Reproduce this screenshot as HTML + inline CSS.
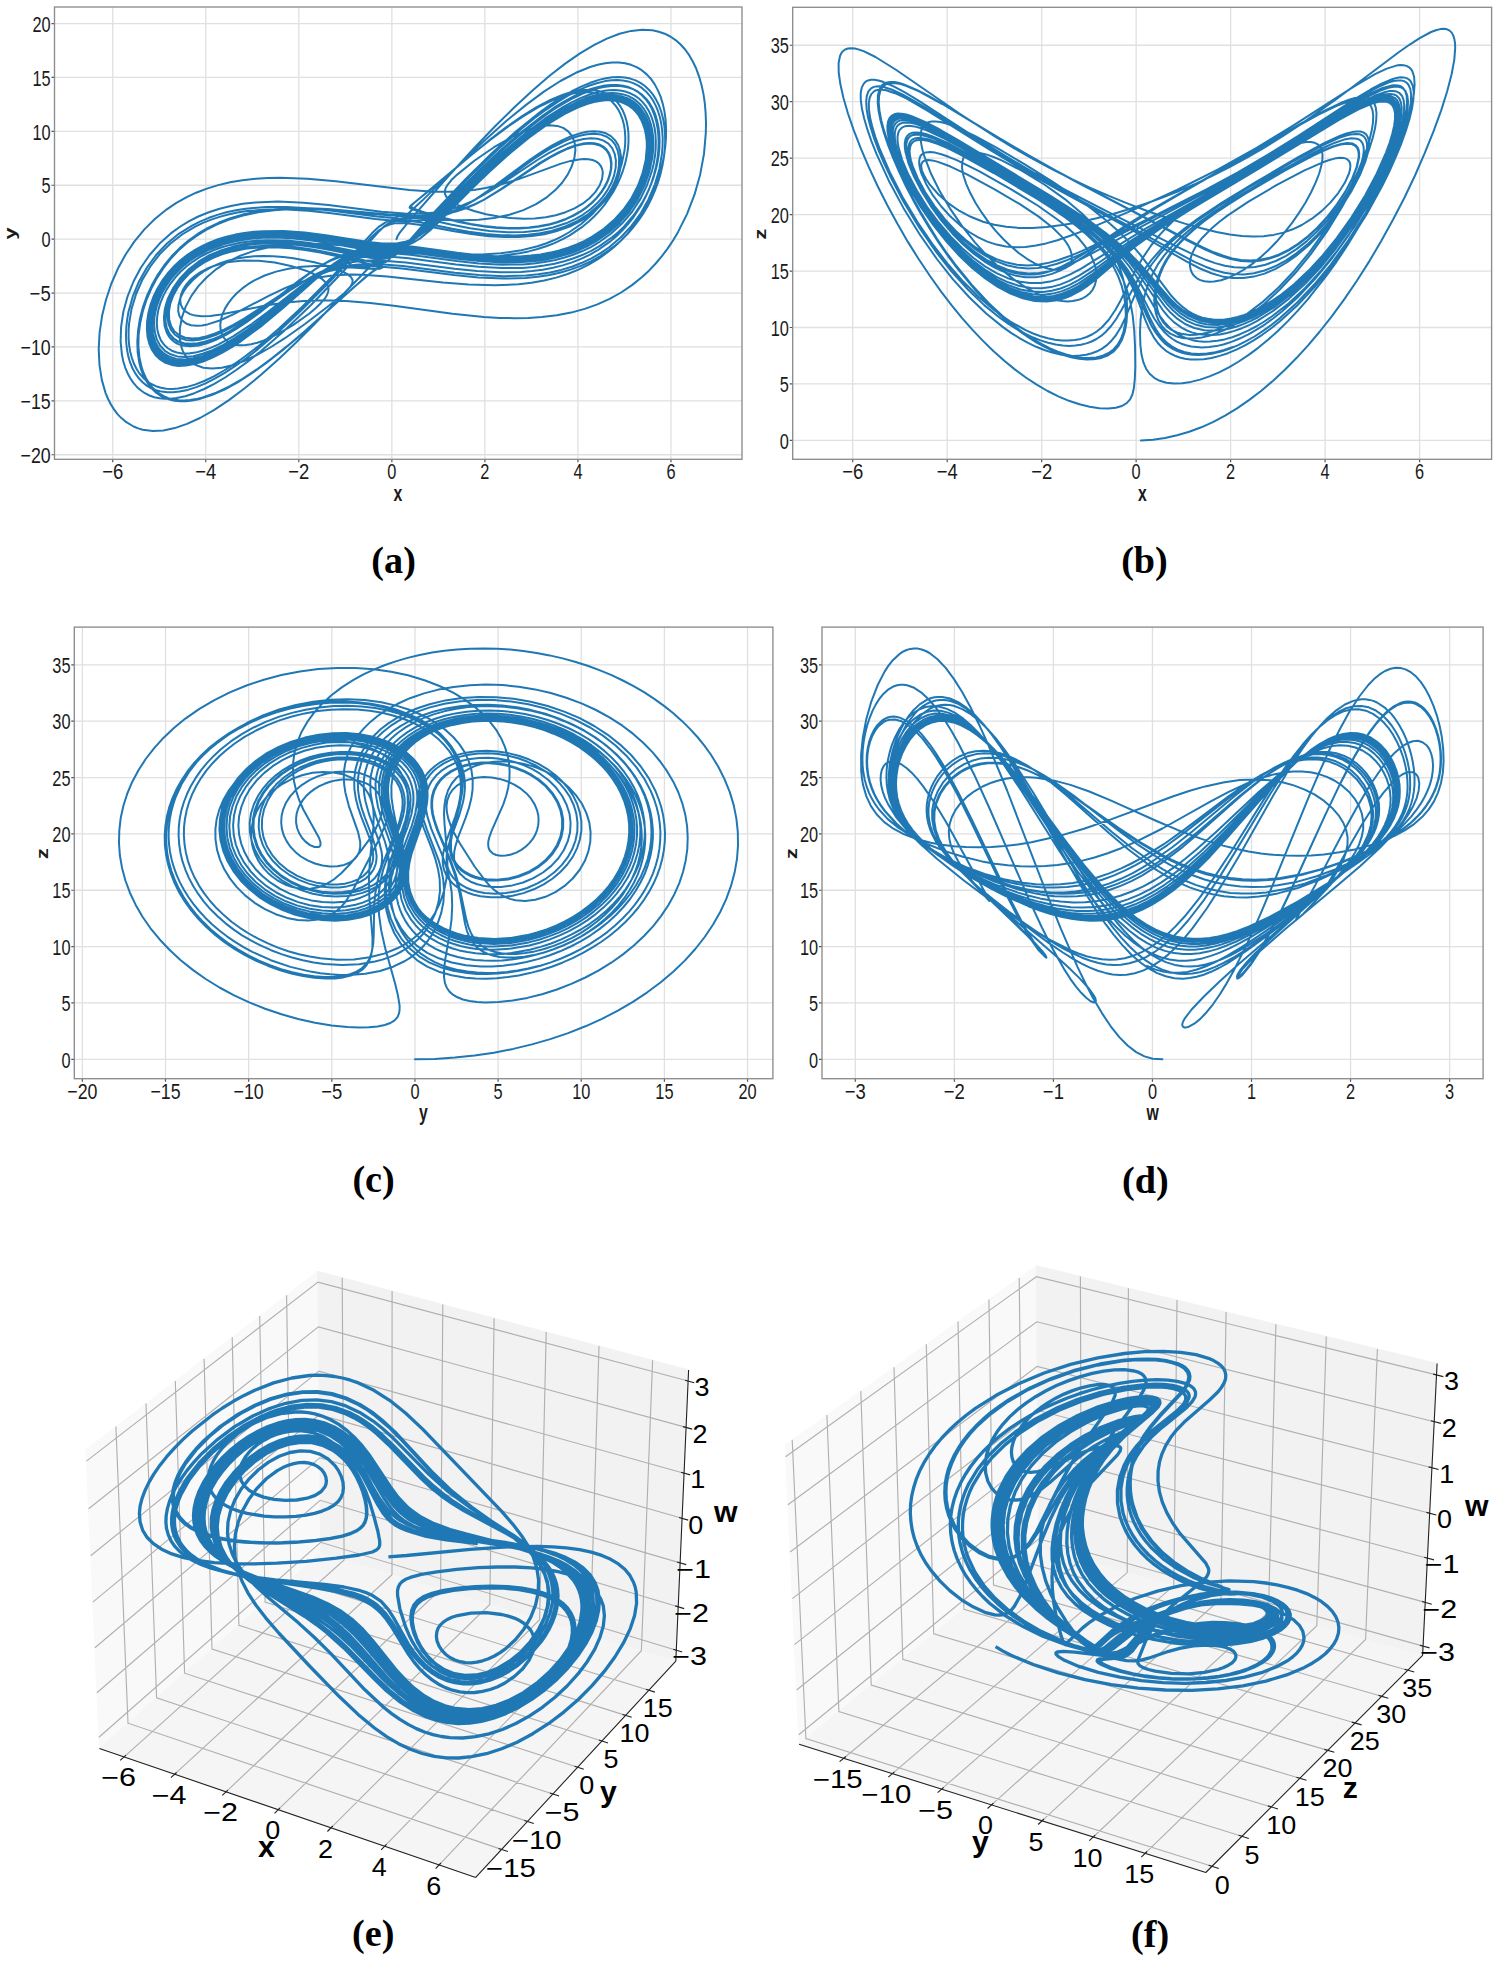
<!DOCTYPE html>
<html><head><meta charset="utf-8"><style>html,body{margin:0;padding:0;background:#fff}svg{display:block}</style></head>
<body><svg width="1500" height="1962" viewBox="0 0 1500 1962">
<rect width="1500" height="1962" fill="#fff"/>
<path d="M112.73 7.00V459.30M205.77 7.00V459.30M298.81 7.00V459.30M391.85 7.00V459.30M484.89 7.00V459.30M577.93 7.00V459.30M670.97 7.00V459.30M54.50 454.75H742.00M54.50 400.85H742.00M54.50 346.95H742.00M54.50 293.05H742.00M54.50 239.15H742.00M54.50 185.25H742.00M54.50 131.35H742.00M54.50 77.45H742.00M54.50 23.55H742.00" stroke="#e0e0e0" stroke-width="1.3" fill="none"/>
<path d="M112.73 459.30v3M205.77 459.30v3M298.81 459.30v3M391.85 459.30v3M484.89 459.30v3M577.93 459.30v3M670.97 459.30v3M54.50 454.75h-3M54.50 400.85h-3M54.50 346.95h-3M54.50 293.05h-3M54.50 239.15h-3M54.50 185.25h-3M54.50 131.35h-3M54.50 77.45h-3M54.50 23.55h-3" stroke="#555" stroke-width="1.2" fill="none"/>
<path d="M396.5 239.2l 1-2.9 2.3-3.7 11.6-14.3 32.2-36.8 30.4-33.3 21.1-21.9 19.3-19.1 18.4-17 17.1-14.7 15.3-11.9 14.8-10.2 13.9-8.3 13-6.5 12.6-4.8 11.7-2.9 11-1.2 10.3.6 6.3 1.4 5.9 2 5.6 2.8 5.3 3.6 5 4.4 4.5 5 4.1 5.7 3.7 6.5 3.4 7.1 2.8 7.8 2.4 8.4 1.9 8.6 1.4 9.5 .8 9.5 .4 10.3-.2 10.1-1.8 20.9-3.8 20.5-5.7 20.3-7.5 19.4-8.9 17.8-4.9 8.4-5.6 8.3-5.7 7.5-6.2 7.4-6.5 6.9-6.8 6.3-10.4 8.4-10.9 7.4-11.5 6.4-12.2 5.5-12.7 4.5-13.6 3.7-14.3 2.7-15 1.8-13.4.9-13.9.2-14.7-.3-16-1-31.3-3.2-58.7-7.9-23.6-2.8-24.2-2-21.6-.7-20.7.6-20.4 1.9-20.4 3.3-42.1 8.5-10.5 1.4-8.7.2-6.3-.6-5.3-1.5-4.2-2.4-3.1-3.2-1.9-3.9-.6-4.6 .7-5 2-5.2 3-4.8 4-4.7 4.9-4.3 5.7-3.9 6.4-3.3 6.9-2.8 7.3-2.3 8-1.7 14.2-1.5 15.4.2 16.1 1.8 16.1 3.4 15.2 4.8 6.6 2.8 5.4 2.9 4.2 2.8 3.2 3 2 2.9 1 3-.2 3.4-1.3 3.5-2.4 3.9-3.8 4.3-5.2 5-6.5 5.5-15.7 11.2-15.3 9-14.2 6.6-6.6 2.2-6.1 1.6-5.7.8-5.2.2-5.1-.6-4.5-1.4-3.8-2.3-3-3.1-2.1-3.8-1.2-4.5-.3-4.9 .7-5.4 1.6-5.4 2.5-5.5 3.3-5.3 4-5.2 4.6-4.9 5.3-4.6 5.8-4.2 6.3-3.8 10.3-4.9 11.4-3.9 12.3-2.9 13.2-1.9 13.3-.8 14.4 0 44.4 3 5.9-.3 3.2-1.3 .1-.7-1.2 0-3.9 1.6-5.1 3.4-6.7 5.2-13 11.2-52.5 47.2-17.9 14.9-16.3 12.7-14.8 10.6-13.9 8.9-13.1 7.1-12.2 5.4-13.7 4.4-6.5 1.3-6.1.7-5.7 0-5.6-.5-5.1-1.2-5-1.8-4.5-2.3-4.2-3-3.9-3.7-3.3-4.1-3-4.7-2.6-5.2-2.2-5.8-1.6-6.2-1.6-10.1-.4-10.9 .8-11.4 1.8-11.6 3-11.6 4-11.2 5-10.9 6-10.5 6.4-9.4 7.3-8.9 8.1-8.2 8.8-7.6 9.5-6.8 9.9-5.9 10.6-5 11.2-4.4 14.2-4.1 15.1-3.1 16.1-2 17.2-1 16.8.1 18.7.8 60.8 5.4 20.8 1.3 10.9.1 10-.4 9.3-1 8.8-1.5 9-2.3 9-3 9-3.8 9.2-4.6 16.5-9.9 39.2-26.1 10-6 9.1-4.8 8.5-3.8 7.7-2.8 7-1.6 6.5-.7 5.3.4 4.7 1.2 4.1 2.2 3.2 2.9 2.5 3.9 1.5 4.5 .7 5.2-.3 5.5-1.3 5.8-2 5.8-3 5.8-3.6 5.7-4.4 5.4-5 5-5.6 4.6-6 4.2-7.2 4-7.8 3.6-8.3 2.9-8.8 2.4-9.2 1.7-9.8 1.2-10.2.5-10.7 0-11.7-.7-12.4-1.4-12.9-2-13.5-2.7-17.5-4.3-17.6-5.1-8.5-3.1-1.8-1.1-.7-1.1 .6-1.5 2.4-2.3 55.8-46.6 19.4-15.7 17.1-12.8 16.5-11.3 15.3-9.1 14.1-6.9 13-4.8 6.4-1.7 6.2-1.2 5.9-.5 5.5.1 5.1.7 4.9 1.3 4.4 1.8 4.2 2.5 3.8 3.1 3.3 3.6 2.9 4.1 2.4 4.8 2 5.2 1.5 5.6 .9 6 .4 6.3-.1 6.6-.7 6.8-2.9 13.9-4.8 13.7-6.7 13-8.2 12-9.7 11.1-11 9.7-12.4 8.5-7.4 4.2-7.6 3.6-8 3.2-8.2 2.8-17.8 4.3-19.2 2.7-18.5 1.1-20.6-.1-19.9-1-42.4-3.3-18.8-.6-9.7.3-8.8.8-8.2 1.4-7.8 2-7.6 2.7-7.7 3.5-7.8 4.4-8.2 5.2-14.8 10.9-40.8 32.5-12.1 8.8-11 7.3-10.3 6-9.7 4.7-8.9 3.4-8.3 2.2-8.6.8-7.6-.8-3.4-1.1-3.1-1.4-2.7-1.9-2.5-2.3-2.1-2.7-1.8-3.1-2.3-7.1-.7-8.3 1-8.9 1.4-5.2 1.8-5.4 5.2-10.3 6.9-9.7 8.6-8.8 9.7-7.6 11-6.5 12.1-5.1 13.1-3.9 11-2.2 11.7-1.4 12.3-.6 13 .1 15.1 1.1 16.5 2 48.4 8.7 12.9 1.8 6.8.4 5.8-.4 5-1.1 4.6-1.8 5.9-4 6.9-6.2 39.1-42.3 29.4-29.9 21.9-20.6 20.2-17.6 21.9-17 10.2-7 9.8-6.1 9.5-5.2 8.9-4.2 8.6-3.4 8.2-2.4 6.5-1.3 6.4-.6 6.1 0 5.6.7 5.3 1.3 4.9 2.1 4.7 2.7 4.1 3.4 3.8 4 3.4 4.6 2.9 5.3 2.4 6 1.9 6.4 1.3 6.7 .8 7.1 .2 7.5-.3 7.7-.8 8-1.5 8-1.9 7.8-2.4 7.8-2.9 7.7-3.4 7.5-3.8 7.3-8.8 13.5-5 6.3-5.4 6-5.7 5.6-6 5.1-13 9.1-8.1 4.6-8.6 4.1-8.9 3.5-9.4 3-9.7 2.4-10.2 2-10.7 1.3-11.3.9-20.8.3-23-1.3-22.5-2.3-48.7-6.2-21.9-1.8-11.2-.3-10.1.4-9.4 1.1-9 1.6-8.9 2.5-8.8 3.3-8.9 4.1-9.3 5.2-16.7 10.7-41.3 29.2-11 7.1-9.9 5.7-8.9 4.5-8.1 3.5-7.7 2.5-7.1 1.5-7.1.5-6.3-.6-5.6-1.7-4.8-3-3.8-4-2.8-5.2-1.7-5.9-.5-6.7 .4-5.3 1-5.4 1.6-5.6 2.2-5.5 2.8-5.5 3.3-5.2 3.8-5 4.2-4.8 9.7-8.6 10.9-7.2 12.4-5.9 13.5-4.4 11.7-2.6 12.4-1.6 13.2-.7 14.1.3 15.7 1.2 17 2.3 16.7 3 31.3 6.4 11.6 1.8 6.1.4 5-.2 4.3-.9 3.8-1.6 3.9-2.7 4.2-4.1 30.8-35.4 32.4-34.3 26.6-26.1 24.6-22.3 23.6-19 11-7.9 10.4-6.8 10.2-6 9.7-4.9 9.1-3.8 8.7-2.9 7-1.7 6.5-.9 6.4-.2 5.9.4 5.6 1.1 5.3 1.8 4.8 2.5 4.5 3.1 4.2 3.9 3.7 4.5 3.3 5.2 2.8 5.7 2.3 6.2 1.8 6.8 1.3 7.3 .7 7.6 .2 8-.4 8.3-1 8.4-1.5 8.3-2 8.6-2.5 8.2-3.1 8.1-3.5 8-3.9 7.7-4.3 7.1-4.8 7.1-5.2 6.7-5.5 6.3-5.9 5.9-6.1 5.4-6.7 5.1-8.6 5.8-9.3 5.1-9.4 4.3-10.2 3.8-10.6 3.1-11.1 2.5-11.7 1.8-12.4 1.2-22.3.6-24.9-1.2-24.2-2.4-52.2-6.6-23.1-1.9-11.4-.3-10.5.4-9.9.9-9.4 1.7-9.2 2.2-9 3.1-9.1 3.8-9.4 4.6-17 10-40.2 25.9-10.4 6-9.3 4.8-8.9 3.9-8.2 2.7-7.5 1.7-6.8.6-7.3-.8-6-2.4-4.8-3.8-3.4-5.4-1.9-6.6-.3-7.6 1.4-8.2 3-8.3 4.1-7.5 5.2-7.2 6.2-6.6 7.2-6.1 7.9-5.3 8.8-4.6 9.3-3.7 10.2-3 13.1-2.6 14.3-1.4 15.1-.2 16.2 1 14.3 1.8 15.2 2.6 17.2 3.7 32.5 7.9 6.7 1.3 4.8.4-7.1 4.2-10.7 8.3-60.2 53.8-16.8 14.2-15.2 12.1-15.2 11.2-14.2 9.3-13.3 7.7-12.6 6-13.7 4.8-6.5 1.6-6 .9-5.8.4-5.6-.2-5.2-.7-5.1-1.4-4.6-2-4.4-2.5-3.9-3.1-3.6-3.6-3.2-4.3-2.8-4.6-2.4-5.3-1.9-5.6-2.2-9.9-1-10.7 .2-11.3 1.5-11.7 2.6-11.8 3.7-11.7 4.8-11.1 5.7-10.8 6.3-9.7 7.2-9.3 8-8.5 8.8-7.8 9.3-6.9 10.1-6.2 10.6-5.3 11.4-4.6 14.3-4.3 15.1-3.2 16.2-2.1 17.4-1.1 17.2 0 18.7.8 60.8 5.4 20.7 1.2 10.9.1 9.9-.4 9.3-1 8.7-1.6 9-2.3 8.9-3 8.9-3.8 9.1-4.7 16.5-10.1 39.3-26.5 10.2-6.1 9.2-4.9 8.5-3.9 7.9-2.9 7.3-1.8 6.5-.6 5.4.3 4.7 1.2 4.1 2.1 3.3 2.9 2.5 3.8 1.7 4.6 .7 5.1-.2 5.5-1.1 5.8-2 5.9-2.8 5.9-3.6 5.7-4.3 5.4-4.9 5.2-5.6 4.7-6 4.3-7.2 4.2-7.8 3.6-8.3 3.1-8.7 2.4-9.3 1.9-9.7 1.2-10.1.6-10.6.1-11.5-.6-12-1.2-12.6-1.9-13.2-2.5-17.7-4.1-19.3-5.3-10.6-3.5-2-1-.8-.9 .4-1.1 1.7-1.7 19.2-15.5 42.8-36.3 17-13.8 15-11.5 16.1-11.2 14.8-9.2 13.8-7.2 12.6-5.3 7-2.2 6.6-1.5 6.3-.9 5.9-.3 5.5.4 5.3 1 4.9 1.7 4.5 2.3 4.1 2.9 3.7 3.6 3.3 4.2 2.7 4.7 2.2 5.3 1.7 5.8 1.2 6.3 .6 6.5 0 7-.5 7.1-1.2 7.4-1.6 7.4-2.3 7.4-2.7 7.1-3.3 7.2-3.7 6.8-8.5 12.7-5 6-5.3 5.7-5.6 5.3-6.1 5-13 8.8-7.5 4-7.8 3.7-8.2 3.2-8.6 2.7-9 2.4-9.2 1.9-19.8 2.6-18.5.9-20.5-.2-19.7-1.1-41.7-3.4-17.9-.7-17.1.6-7.7.9-7.1 1.4-8.4 2.3-8.2 3.1-8.2 4-8.5 4.9-16.2 11.2-36.2 28.3-17 12.4-17.7 11.2-8 4.2-7.6 3.4-8.7 3-7.9 1.7-7.2.4-6.5-.9-5.6-2.1-4.7-3.4-3.5-4.6-2.5-5.6-1.1-5.1-.3-5.6 .5-5.7 1.2-6.1 1.9-6 2.7-6 3.3-6 3.9-5.6 4.4-5.3 4.8-4.9 5.3-4.6 5.8-4.2 6.1-3.8 6.5-3.4 6.9-3 7.3-2.5 12-3.2 12.9-2.2 13.7-1.1 14.6-.1 16.3 1 17.7 2.2 17.4 2.9 32.7 6.4 11.9 1.7 6.4.4 5.3-.4 4.5-1 4.1-1.8 4.5-3.1 5-4.8 34.7-38.9 32.2-33.5 26.4-25.4 24.1-21.1 12-9.7 11.5-8.5 11.1-7.5 10.6-6.4 10.1-5.3 9.7-4.3 9.2-3.1 8.6-2.1 6.1-.8 6-.3 5.6.4 5.3 1 5 1.7 4.7 2.3 4.3 2.8 4 3.5 3.6 4.1 3.1 4.5 2.8 5.3 2.3 5.6 1.9 6.1 1.4 6.6 .9 6.9 .5 7.3-.1 7.5-.6 7.8-2.6 15.6-4.5 15.3-6.3 14.9-7.7 13.8-9.4 12.9-10.6 11.4-11.7 9.9-8.6 5.9-9.2 5.2-9.5 4.5-10.1 3.9-10.6 3.2-11.2 2.5-11.7 1.9-12.1 1.3-22.3.6-24.8-1.1-24.1-2.4-52.1-6.6-22.8-1.9-11.3-.2-10.3.4-9.7 1.1-9.2 1.6-8.9 2.4-8.9 3.1-8.9 4-9.4 4.8-16.7 10.2-40.9 27.3-10.8 6.5-9.8 5.2-9.2 4.2-8.6 3.1-7.9 1.9-7.1.7-7-.6-6-2-4.9-3.4-3.8-4.8-2.4-6-1-6.9 .5-7.5 1.9-8 3.1-7.6 4.2-7.4 5.3-7 6.2-6.5 7-5.9 7.8-5.1 8.4-4.5 9-3.8 12.6-3.7 13.5-2.5 14.5-1.4 15.4-.1 17.8 1.3 19.2 2.7 18.9 3.6 33 7.4 10 1.7 5.3.3 3.9-.5 2.8-1.2 2-2.2 .8-2.2 .5-2.7 0-2.8-.6-1.7-.8-.4-1.1.2-3.9 2.8-12.9 12.6-58.3 60.6-17.6 17.5-16.2 15.4-18 16.1-16.9 14-15.8 11.8-15 10-13.9 7.9-13 5.9-12.2 4.2-11.4 2.3-10.6.6-10-1.3-4.7-1.3-4.5-1.9-8.1-4.9-4.1-3.5-3.9-4-3.5-4.7-3.1-4.9-2.8-5.5-2.5-5.9-3.8-13.2-2.3-14.8-.8-16 .9-16.4 2.5-16.9 3.9-16.1 5.2-15.7 6.6-15.2 7.8-14.3 8.9-13.1 9.9-12 10.7-10.6 11.7-9.5 9.2-6.2 9.8-5.5 10.3-4.9 10.8-4.1 11.3-3.5 11.9-2.8 12.3-2.1 13.2-1.5 12.1-.7 12.5-.2 27.1.9 28.5 2.6 73.6 8.6 21.2 1.5 18.6.3 12.6-.6 12.1-1.2 11.7-1.8 11.7-2.6 21.4-6.4 42.3-15.5 9.7-2.7 8.2-1.5 5.1-.4 4.5.2 4 .8 3.4 1.4 2.8 2 2.1 2.6 1.4 3.1 .6 3.5-.7 6.3-2.5 6.6-4.3 6.6-5.8 6.1-6.9 5.5-8.1 4.7-8.9 3.8-9.8 3-10.1 2-11 1.2-11.5.3-12-.6-12.5-1.5-12.6-2.4-12.1-3.2-10.8-3.7-6-2.6-4.8-2.7-3.6-2.6-2.5-2.7-1.3-2.7-.2-2.8 .8-3 2-3.4 3.8-4.7 5.8-5.5 17.1-13.8 19.7-13.6 18.4-10.5 10.6-4.9 9.8-3.6 9-2.2 8.1-.7 7.2.6 6.1 2 5 3.4 3.8 4.7 2.6 6.3 .8 7.5-1 8.1-2.6 8.4-4.1 8.3-5.6 8.1-6.8 7.4-7.9 6.7-11.3 7.4-12.7 5.9-14 4.6-15.4 3.2-15.4 1.8-16.8.6-16.4-.4-30.5-1.7-10.7-.1-10.4 1.3-4.3 1.3-4 1.7-6.4 4.2-7 6.5-39.5 43-30.3 30.7-23.3 21.8-21.5 18.3-11.6 8.9-11.1 7.9-10.7 6.8-10.2 5.8-9.7 4.7-9.3 3.6-8.6 2.5-8.3 1.5-5.9.4-5.8-.3-5.3-.9-5.1-1.6-4.6-2.2-4.4-2.9-3.8-3.4-3.5-4-3-4.7-2.6-5.2-2.1-5.8-1.7-6.3-1.1-6.7-.5-6.9 0-7.4 .5-7.4 2.5-14.6 4.5-14.7 6.3-14.3 7.9-13.2 9.3-12.1 10.6-10.6 11.9-9.3 13.1-7.9 7.8-3.7 8.2-3.3 8.3-2.7 8.8-2.4 9.1-1.9 9.6-1.5 20.1-1.6 19.5 0 21.6 1.3 21.1 2.3 46.2 6 21.1 1.8 10.8.3 10-.4 9.2-1.1 8.8-1.7 8.7-2.5 8.6-3.3 8.8-4.3 9.2-5.4 16.5-11.2 42.6-31.5 11.8-7.9 10.6-6.5 9.6-5.1 8.9-3.9 8.2-2.8 7.8-1.8 7.1-.6 6.4.5 5.8 1.6 4.9 2.8 4.1 4 3.1 4.9 2 5.9 1 6.7-.1 5.5-.7 5.8-1.4 5.9-2.1 5.9-2.6 5.8-3.2 5.6-3.7 5.5-4.3 5.2-4.6 4.8-4.9 4.5-5.4 4.1-5.8 3.8-12.6 6.5-13.7 4.9-11.6 2.8-12.4 1.9-13.2 1-14.1 0-16-.9-17.3-2.1-17.2-2.8-33.5-6.3-13.1-1.8-7-.3-6 .4-5.1 1.2-4.8 2-6.1 4.1-7 6.4-40.4 43.3-29.6 29.8-22.6 21.1-21 17.9-11.4 8.9-10.9 7.7-10.5 6.9-10 5.8-9.6 4.9-9.2 3.8-8.7 2.8-8.2 1.7-6.3.7-6 0-5.6-.7-5.4-1.3-4.9-2-4.6-2.7-4.1-3.3-3.8-4-3.3-4.6-2.9-5.2-2.4-5.8-1.9-6.3-1.3-6.9-.8-7-.2-7.6 .3-7.7 .9-7.8 1.3-7.7 4.3-15.3 6.2-15 7.9-13.9 9.4-12.7 10.7-11.3 12.1-9.9 13.4-8.3 8-4 8.4-3.5 8.5-2.9 9-2.6 9.4-2 9.9-1.6 20.7-1.7 19.8-.1 22.1 1.3 21.6 2.3 47.1 6 21.6 1.9 11.1.2 10.1-.3 9.5-1 8.9-1.7 8.9-2.5 8.8-3.2 8.9-4.2 9.4-5.2 16.7-10.9 41.9-29.9 11.1-7.3 10.2-5.9 9.2-4.7 8.5-3.6 7.8-2.5 7.4-1.5 7.4-.5 6.7.9 5.7 2.2 4.8 3.4 3.7 4.7 2.5 5.9 1.3 6.8-.1 7.4-.7 5.3-1.4 5.4-2 5.5-2.4 5.3-3 5.2-3.5 5.1-8.2 9.3-9.7 8.2-11 6.8-12.3 5.6-13.3 4.2-11.5 2.4-12.1 1.5-12.9.6-13.7-.2-15.5-1.3-16.9-2.2-16.5-2.9-31.5-6.3-11.8-1.8-6.3-.4-5.3.2-4.5.9-4 1.7-4.5 3-5.1 4.8-35.1 39.4-33.3 34.7-26.5 25.4-24.3 21.3-12.2 9.7-11.8 8.6-11.1 7.5-10.8 6.3-10.1 5.2-9.8 4.2-9.1 3-8.7 1.9-5.9.6-5.8.1-5.4-.5-5.2-1.1-4.9-1.7-4.5-2.3-4.2-2.9-3.8-3.4-3.5-4-3.1-4.6-2.7-5.1-2.3-5.4-1.9-6.1-1.4-6.4-1.4-13.7 .5-14.8 2.3-15.3 4.2-15.2 5.9-14.8 7.3-13.8 8.8-12.7 10-11.4 11.2-10.2 8.8-6.4 9.1-5.6 9.6-4.9 10.5-4.3 10.8-3.5 11.2-2.7 12-2.2 12.5-1.3 22.8-.9 25.5 1.1 24.8 2.4 53.1 6.7 23 1.8 11.3.2 10.3-.4 9.8-1.1 9.2-1.7 8.9-2.3 8.8-3.2 8.9-3.8 9.3-4.9 16.7-10 40.4-26.9 10.6-6.3 9.6-5.1 9.2-4.2 8.5-3.1 7.7-1.8 7.1-.8 6.8.5 5.9 1.9 4.9 3.1 3.8 4.5 2.5 5.6 1.2 6.6-.2 7.2-1.6 7.8-2.7 7.4-3.9 7.3-4.9 7-5.8 6.5-6.6 5.9-7.4 5.3-8.1 4.6-8.7 3.9-12.9 4.2-14 3-15 1.5-16.3.2-18.1-1.2-19.7-2.7-19.2-3.8-33.2-7.5-9.5-1.7-5.1-.3-3.7.4-2.5 1.2-1.2 1.9 .2 1.1 .7.7 1.2.1 1.6-.6 4.2-2.6 6.1-4.9 12.6-11.7 40.5-39.5 21.9-20.7 21.9-19.6 19.9-16.2 17.5-13 16.5-10.6 15.5-8.2 14.2-5.8 7.6-2.3 7.4-1.5 7-.8 6.7 0 6.3.8 6 1.6 5.5 2.3 5.1 3.1 4.8 3.9 4.3 4.6 3.8 5.4 3.2 6 2.8 6.5 2.2 7.3 1.7 7.7 1.1 8.3 .5 8.8-.1 9-.8 9.4-1.3 9.4-2 9.6-2.5 9.2-3.1 9.5-3.6 8.9-4.1 8.7-4.6 8.4-5.1 8-5.5 7.6-5.9 7.2-6.2 6.6-6.6 6.2-7.1 5.9-9.3 6.6-9.6 5.7-10.2 5-10.9 4.4-11.4 3.6-12 2.9-12.6 2.3-13.1 1.5-23.6 1-26.4-.8-25.6-2.1-55.7-6-24.4-1.7-11.6-.1-10.8.3-10.2.9-9.8 1.4-8.8 1.9-8.8 2.4-8.8 3-9 3.6-16.3 7.7-34.4 18.1-14.6 6.6-12.2 3.9-5.4 1.1-4.8.3-6.2-.5-5.1-1.8-3.9-3.1-2.6-4.2-1.3-5.3 .3-6 1.7-6.5 3.2-6.6 4-5.8 5-5.5 5.7-5.1 6.6-4.6 7.1-3.9 7.8-3.4 8.2-2.7 8.9-2.2 8.5-1.4 9-.9 9.3-.3 9.7.2 10.1.7 10.2 1.3 20.9 4.1 10.6 2.8 9.5 3.2 7.8 3.2 5.6 3 3.2 2.7 1.5 2.8-.2 2.9-1.8 3.5-6.7 7.2-15 12.2-23.6 18-20.4 14.4-14.7 9.3-13.6 7.6-12.6 5.9-11.5 4.2-10.7 2.6-9.8.8-8.6-.9-7.4-2.6-3.4-2-2.9-2.4-2.6-2.8-2.3-3.2-1.9-3.6-1.4-3.8-1.7-8.8 .1-10.3 2-10.8 3.8-10.8 5.7-10.7 7-9.8 8.4-8.9 9.6-8.1 10.7-6.9 12.8-6.3 14-5 15.1-3.7 16.2-2.3 16.6-1.1 18 .1 17.6 1 34.6 2.9 13.7.5 7.2-.3 6.4-.8 5.8-1.4 5.4-2 4.6-2.3 4.7-2.9 10.1-8.2 10.7-10.1 32.7-33 16.7-16 20.3-18.3 19-15.5 18.1-13.1 16.9-10.3 15.4-7.4 7.2-2.6 7-2 5.9-1.2 5.5-.6 5.3 0 5 .5 4.7 1.1 4.4 1.6 4 2.2 3.7 2.7 3.3 3.3 3 3.8 2.5 4.4 2 4.7 1.7 5.2 1.1 5.6 .7 5.8 .1 6.2-1.1 12.6-3.1 13.2-4.8 12.8-6.4 12.2-7.9 11.3-9.3 10.3-10.3 9-11.7 7.9-7.6 4.2-7.9 3.6-8.5 3.2-8.9 2.8-9.1 2.1-9.6 1.8-9.9 1.2-10.5.8-19.9.1-21.9-1.3-21.2-2.4-43.5-6.1-17.6-1.7-9.2-.2-8.1.3-7.5 1-7 1.6-7 2.4-7 3.2-7.1 4.2-7.6 5.2-14.1 11.4-38.4 34-20.4 17-21.2 15.7-9.7 6.4-9.4 5.4-9.9 5-9.4 3.9-8.7 2.6-8.3 1.5-7.6.3-6.8-1-6.2-2.1-5.4-3.3-4.5-4.2-3.6-5.3-2.6-6.1-1.8-6.9-.7-7.6 .2-8 1.3-8.4 2.2-8.5 3-8.1 3.9-8 4.7-7.7 5.4-7.2 5.9-6.7 6.7-6.2 7.2-5.7 7.7-5.1 7.3-4 7.5-3.4 8.1-3.1 8.4-2.6 8.9-2.1 9-1.6 9.6-1.2 9.9-.6 19.6-.1 21.4 1.5 21 2.7 40.9 6.4 15.5 1.7 8.1.2 7.2-.4 6.4-1.1 6-1.9 5.4-2.3 5.3-3.1 5.7-4 6.2-5.1 10.6-9.8 32.2-31.5 18.6-17.5 19.2-16.9 17.8-14.4 16.7-12 15.7-9.6 14.5-7.2 13.4-4.9 6.2-1.4 5.8-.9 5.6-.4 5.2.3 5 .8 4.6 1.5 4.3 2 3.9 2.5 3.5 3.1 3.2 3.6 2.7 4.2 2.3 4.7 1.9 5.2 1.3 5.5 .9 6 .4 6.2-.9 13-2.8 13.5-4.7 13.3-6.5 12.8-7.9 11.6-9.4 10.7-10.6 9.4-12 8.2-7.7 4.3-8 3.7-8.4 3.2-8.7 2.7-9.2 2.2-9.5 1.7-10 1.3-10.4.8-20.1.2-22-1.3-21.7-2.4-44.4-6.2-18.4-1.7-9.6-.2-8.5.5-7.9 1.2-7.4 1.9-7.1 2.6-7.1 3.5-7.3 4.5-7.9 5.6-14.1 11.5-47 41-15.7 12.5-14.4 10.3-13.5 8.5-12.6 6.7-11.7 4.9-10.9 3-9.4 1.2-8.5-.5-7.5-2.2-3.4-1.8-3.1-2.2-5.2-5.5-3.9-7.1-2.5-8.4-.9-9.5 .2-5.8 .7-5.8 2.9-12 4.8-11.8 6.5-11.2 7.8-10.3 9.3-9.1 10.4-8.1 11.7-6.9 7.1-3.3 7.4-3 15.7-4.5 17-3 18.4-1.3 18.8.2 20.4 1.6 20 2.7 39.4 6.2 15.4 1.7 8 .3 7.1-.4 6.4-1.1 5.9-1.8 5.2-2.3 5.2-3.1 5.5-3.9 6.1-5 10.3-9.5 32.4-32 19-18 19.6-17.3 18.2-14.8 17.1-12.3 15.8-9.8 14.7-7.3 13.7-5 6-1.4 6-.9 5.6-.4 5.3.3 5 .9 4.7 1.4 4.3 2 3.9 2.6 3.6 3.1 3.2 3.7 2.8 4.3 2.3 4.8 1.9 5.3 1.4 5.6 .9 6.1 .3 6.2-.2 6.5-.6 6.8-2.9 13.7-4.8 13.5-6.5 12.8-8 11.8-9.5 10.8-10.7 9.5-11.9 8.2-7.7 4.2-8 3.8-8.5 3.2-8.8 2.8-9.3 2.2-9.5 1.8-10.2 1.3-10.5.8-20.1.2-22.1-1.3-21.6-2.4-44.7-6.2-18.7-1.7-9.6-.2-8.7.5-8 1.2-7.5 1.9-7.2 2.6-7.2 3.5-7.4 4.5-8 5.7-14.2 11.4-46.9 40.5-15.3 12-14.2 10.1-13.3 8.3-12.4 6.6-11.4 4.7-10.7 2.9-9.3 1.1-8.3-.6-7.5-2.2-6.3-3.9-5.1-5.4-3.9-7-2.4-8.4-.9-9.2 .9-11.5 2.9-11.8 4.8-11.6 6.4-11 7.8-10.1 9.2-9.2 10.4-7.9 11.4-6.7 14.3-6.2 15.7-4.6 17-2.9 18.4-1.4 18.6.3 20.5 1.6 20 2.7 39.1 6.3 15.1 1.7 7.9.3 6.9-.4 6.3-1.1 5.8-1.8 5-2.2 5.1-3 11.1-8.7 9.9-9.2 32.5-32.3 19.5-18.6 20.1-18 18.6-15.2 17.4-12.6 16.3-10.1 15-7.6 7.2-2.8 6.9-2.2 6.1-1.5 6-.9 5.7-.3 5.4.3 4.9.9 4.7 1.4 4.4 2.1 4 2.7 3.6 3.2 3.3 3.8 2.8 4.4 2.3 4.7 1.9 5.4 1.3 5.7 .9 6 .4 6.4-.2 6.7-.7 6.8-2.8 13.8-4.9 13.8-6.5 13-8.1 12-9.5 10.9-10.8 9.7-12.1 8.3-7.7 4.3-8.1 3.8-8.6 3.3-8.9 2.8-9.2 2.2-9.7 1.8-10.1 1.3-10.6.8-20.2.3-22.4-1.4-21.7-2.4-45-6.2-18.8-1.7-9.9-.2-8.8.5-8.1 1.2-7.6 1.9-7.3 2.7-7.4 3.5-7.5 4.5-8.1 5.6-14.5 11.6-46.3 39.5-15.1 11.7-13.8 9.8-13 8-12 6.3-11.3 4.6-10.3 2.8-9.2 1.1-8.3-.6-7.3-2.2-6.3-3.8-5-5.4-3.8-6.8-2.4-8.2-.8-9.1 .9-11.1 2.8-11.5 4.7-11.4 6.3-10.8 7.7-9.9 9-9.1 10.2-7.8 11.3-6.7 7-3.3 7.2-2.9 15.7-4.6 17-2.9 18.5-1.3 18.7.2 20.5 1.7 19.9 2.7 38.9 6.4 14.7 1.7 7.7.2 6.7-.3 6.1-1.1 5.6-1.7 4.8-2.2 4.8-2.9 10.6-8.3 11-10.5 34-34.1 17-16.4 20.7-18.6 19.3-15.9 18-13.2 16.7-10.4 15.6-7.9 7.3-2.8 7-2.3 6.2-1.4 6.1-.9 5.6-.3 5.5.4 5 .9 4.8 1.5 4.3 2.1 4.1 2.7 3.6 3.3 3.3 4 2.9 4.5 2.3 4.8 1.9 5.4 1.3 5.8 .9 6.2 .4 6.6-.2 6.8-.6 6.7-2.9 14.1-4.8 13.9-6.7 13.4-8.2 12.2-9.6 11.1-10.8 9.8-12.3 8.5-7.8 4.3-8.3 3.9-8.5 3.3-9 2.9-9.4 2.3-9.8 1.8-10.2 1.3-10.6.8-20.2.3-22.6-1.3-21.8-2.4-45.5-6.2-19.2-1.8-10-.1-8.9.5-8.2 1.1-7.7 1.9-7.6 2.7-7.4 3.5-7.8 4.5-8.2 5.7-14.8 11.5-45.8 38.7-14.6 11.2-13.5 9.3-12.6 7.7-11.7 6-10.9 4.4-10 2.7-9.1 1-8-.6-7.2-2.1-6.1-3.7-5-5.4-3.7-6.7-2.3-7.9-.8-8.9 .3-6.5 1-6.5 1.7-6.7 2.3-6.7 2.9-6.6 3.5-6.3 4-6.2 4.5-5.8 4.8-5.4 5.5-5.2 5.8-4.7 6.1-4.3 6.6-4 6.8-3.5 7.2-3.1 7.5-2.7 12.2-3.3 12.9-2.3 13.8-1.4 14.6-.4 17 .7 18.3 1.7 18.3 2.7 37.3 6.2 15.5 1.8 8.3.1 7.2-.7 6.4-1.6 6-2.5 7.5-4.8 8.5-7.2 42-42.3 18.3-17.9 21.2-19.3 19.8-16.6 19.2-14.2 17.8-11.3 16.2-8.3 7.8-3.1 7.3-2.3 6.4-1.4 6-.9 5.7-.2 5.6.4 5.1 1 4.7 1.5 4.4 2.2 4.1 2.8 3.8 3.5 3.2 3.9 2.9 4.7 2.4 5 1.9 5.6 1.4 6 .9 6.4 .3 6.5-.1 7-.7 7-2.9 14.3-5 14.3-6.6 13.5-8.2 12.4-9.8 11.4-11.1 10-12.2 8.6-8 4.5-8.2 3.9-8.7 3.4-9 2.8-9.5 2.4-9.8 1.9-10.4 1.4-10.8.8-20.5.3-22.6-1.3-22.1-2.4-46.2-6.2-19.5-1.8-10.1-.1-9.2.4-8.4 1.2-7.9 1.9-7.7 2.7-7.7 3.5-7.8 4.5-8.5 5.6-15 11.6-45.3 37.4-14.2 10.7-12.9 8.8-12.1 7.3-11.2 5.6-10.6 4.1-9.7 2.6-8.8 1-7.9-.6-6.9-2.1-6-3.7-4.9-5.1-3.5-6.5-2.2-7.8-.8-8.6 .3-6.2 1-6.5 1.7-6.6 2.3-6.5 2.9-6.5 3.5-6.3 4.1-6.1 4.5-5.6 4.9-5.4 5.3-4.9 5.7-4.6 6-4.2 6.5-3.8 6.7-3.4 7.1-3 7.6-2.6 12.2-3.3 12.9-2.2 13.6-1.3 14.7-.3 16.7.7 18.2 1.9 18.3 2.7 36.3 6.3 14.8 1.7 7.9.2 6.8-.6 6-1.4 5.7-2.5 6.8-4.3 7.7-6.6 41-42.1 19.8-19.7 22.4-20.7 20.8-17.6 20-15.1 18.6-11.9 8.7-4.7 8.3-4 8-3.1 7.7-2.4 6.5-1.5 6.2-.8 5.9-.2 5.5.4 5.2 1.1 4.9 1.7 4.5 2.4 4.1 2.8 3.7 3.6 3.3 4.1 2.9 4.7 2.4 5.3 2 5.8 1.4 6 .9 6.7 .3 6.8-.1 7-.7 7.3-1.2 7.4-1.8 7.5-5 14.6-6.7 13.8-8.4 12.9-9.9 11.6-11.1 10.2-12.6 8.9-7.9 4.6-8.5 4-8.8 3.5-9.3 3-9.5 2.4-10 1.9-10.5 1.4-11.1.9-20.8.3-22.8-1.3-22.3-2.4-46.9-6.2-20.1-1.8-10.4-.2-9.2.5-8.7 1.2-8.1 1.8-7.9 2.7-8 3.4-8 4.5-8.7 5.6-15.4 11.5-44.6 35.9-13.6 10-12.4 8.2-11.5 6.7-10.8 5.3-9.9 3.7-9.2 2.4-8.5.8-7.6-.6-6.7-2.1-5.7-3.5-4.7-5-3.4-6.3-2-7.4-.7-8.3 .3-6.1 1.1-6.3 1.6-6.3 2.4-6.4 2.8-6.2 3.5-6 3.9-5.8 4.5-5.6 4.8-5.1 5.4-4.9 5.6-4.4 6-4 13-7 14.5-5.4 12.1-3.1 13.1-2.2 13.7-1.2 14.5-.2 16.6.9 18.2 2 17.9 2.8 35 6.3 13.8 1.8 7.4.2 6.3-.5 5.5-1.2 5-2.2 6.5-4.4 7.6-6.8 39.5-41.7 27.4-27.4 20.6-19 19.1-16.3 21.2-16.2 10-6.9 9.7-5.9 9.2-5.1 8.8-4.1 8.5-3.4 8-2.4 6.5-1.4 6.5-.8 5.9-.1 5.7.6 5.2 1.1 5.1 1.9 4.7 2.6 4.2 3.1 3.8 3.8 3.4 4.5 3 5.1 2.4 5.4 1.9 6.3 1.4 6.4 .9 6.9 .3 7.3-.2 7.5-.8 7.7-1.4 7.9-1.9 7.6-2.3 7.6-2.9 7.6-3.3 7.3-3.8 7.2-8.7 13.3-10.2 11.9-5.7 5.5-6 5.1-12.9 9.1-8.3 4.7-8.5 4-9 3.5-9.3 3-9.9 2.4-10.2 1.9-10.6 1.4-11.3.9-20.8.2-23.1-1.3-22.4-2.4-47.4-6.2-20.2-1.8-10.2-.2-9.4.3-8.6.9-8.1 1.6-8.4 2.4-8.4 3.2-8.5 4.2-8.8 5.3-16.3 11.4-35.3 27.6-16.4 12.1-16.9 11.1-15.1 8.3-8.1 3.5-7.6 2.7-7.2 1.8-6.7.9-6.1 0-5.6-1-5-1.8-4.3-2.7-3.7-3.6-3-4.3-2.1-5.1-1.4-5.6-.5-6.3 .4-6.6 1.2-6.8 2-6.9 2.8-6.7 3.4-6.5 4.1-6.3 4.7-6 5.1-5.5 5.8-5.3 6.2-4.7 6.7-4.4 7.3-3.9 7.5-3.4 7.9-2.8 8.4-2.4 8.7-1.9 9.2-1.5 9.5-.9 9.8-.4 19.5.4 21.1 2.2 17.6 2.7 37.3 7.2 12.9 2 10 .3 4.1-.5 3.6-.9 5.9-3 6.2-5.3 25.5-28.7 16.4-17.8 20.1-20.7 19.5-19.1" stroke="#1f77b4" stroke-width="2.00" fill="none" stroke-linejoin="round" stroke-linecap="round"/>
<rect x="54.50" y="7.00" width="687.50" height="452.30" stroke="#8c8c8c" stroke-width="1.35" fill="none"/>
<text x="112.73" y="479.30" font-size="21.30" text-anchor="middle" font-family='"Liberation Sans",sans-serif' font-weight="normal" fill="#1a1a1a" textLength="21.08" lengthAdjust="spacingAndGlyphs">−6</text>
<text x="205.77" y="479.30" font-size="21.30" text-anchor="middle" font-family='"Liberation Sans",sans-serif' font-weight="normal" fill="#1a1a1a" textLength="21.08" lengthAdjust="spacingAndGlyphs">−4</text>
<text x="298.81" y="479.30" font-size="21.30" text-anchor="middle" font-family='"Liberation Sans",sans-serif' font-weight="normal" fill="#1a1a1a" textLength="21.08" lengthAdjust="spacingAndGlyphs">−2</text>
<text x="391.85" y="479.30" font-size="21.30" text-anchor="middle" font-family='"Liberation Sans",sans-serif' font-weight="normal" fill="#1a1a1a" textLength="9.09" lengthAdjust="spacingAndGlyphs">0</text>
<text x="484.89" y="479.30" font-size="21.30" text-anchor="middle" font-family='"Liberation Sans",sans-serif' font-weight="normal" fill="#1a1a1a" textLength="9.09" lengthAdjust="spacingAndGlyphs">2</text>
<text x="577.93" y="479.30" font-size="21.30" text-anchor="middle" font-family='"Liberation Sans",sans-serif' font-weight="normal" fill="#1a1a1a" textLength="9.09" lengthAdjust="spacingAndGlyphs">4</text>
<text x="670.97" y="479.30" font-size="21.30" text-anchor="middle" font-family='"Liberation Sans",sans-serif' font-weight="normal" fill="#1a1a1a" textLength="9.09" lengthAdjust="spacingAndGlyphs">6</text>
<text x="50.70" y="462.95" font-size="21.30" text-anchor="end" font-family='"Liberation Sans",sans-serif' font-weight="normal" fill="#1a1a1a" textLength="30.17" lengthAdjust="spacingAndGlyphs">−20</text>
<text x="50.70" y="409.05" font-size="21.30" text-anchor="end" font-family='"Liberation Sans",sans-serif' font-weight="normal" fill="#1a1a1a" textLength="30.17" lengthAdjust="spacingAndGlyphs">−15</text>
<text x="50.70" y="355.15" font-size="21.30" text-anchor="end" font-family='"Liberation Sans",sans-serif' font-weight="normal" fill="#1a1a1a" textLength="30.17" lengthAdjust="spacingAndGlyphs">−10</text>
<text x="50.70" y="301.25" font-size="21.30" text-anchor="end" font-family='"Liberation Sans",sans-serif' font-weight="normal" fill="#1a1a1a" textLength="21.08" lengthAdjust="spacingAndGlyphs">−5</text>
<text x="50.70" y="247.35" font-size="21.30" text-anchor="end" font-family='"Liberation Sans",sans-serif' font-weight="normal" fill="#1a1a1a" textLength="9.09" lengthAdjust="spacingAndGlyphs">0</text>
<text x="50.70" y="193.45" font-size="21.30" text-anchor="end" font-family='"Liberation Sans",sans-serif' font-weight="normal" fill="#1a1a1a" textLength="9.09" lengthAdjust="spacingAndGlyphs">5</text>
<text x="50.70" y="139.55" font-size="21.30" text-anchor="end" font-family='"Liberation Sans",sans-serif' font-weight="normal" fill="#1a1a1a" textLength="18.19" lengthAdjust="spacingAndGlyphs">10</text>
<text x="50.70" y="85.65" font-size="21.30" text-anchor="end" font-family='"Liberation Sans",sans-serif' font-weight="normal" fill="#1a1a1a" textLength="18.19" lengthAdjust="spacingAndGlyphs">15</text>
<text x="50.70" y="31.75" font-size="21.30" text-anchor="end" font-family='"Liberation Sans",sans-serif' font-weight="normal" fill="#1a1a1a" textLength="18.19" lengthAdjust="spacingAndGlyphs">20</text>
<text x="0.00" y="0.00" font-size="21.60" text-anchor="middle" font-family='"Liberation Sans",sans-serif' font-weight="bold" fill="#1a1a1a" transform="translate(398.00 500.80) scale(0.730 1)">x</text>
<text x="0.00" y="0.00" font-size="21.60" text-anchor="middle" font-family='"Liberation Sans",sans-serif' font-weight="bold" fill="#1a1a1a" transform="translate(15.70 233.50) rotate(-90) scale(1 0.730)">y</text>
<path d="M852.71 7.30V459.30M947.19 7.30V459.30M1041.67 7.30V459.30M1136.15 7.30V459.30M1230.63 7.30V459.30M1325.11 7.30V459.30M1419.59 7.30V459.30M792.70 440.40H1491.60M792.70 383.95H1491.60M792.70 327.50H1491.60M792.70 271.05H1491.60M792.70 214.60H1491.60M792.70 158.15H1491.60M792.70 101.70H1491.60M792.70 45.25H1491.60" stroke="#e0e0e0" stroke-width="1.3" fill="none"/>
<path d="M852.71 459.30v3M947.19 459.30v3M1041.67 459.30v3M1136.15 459.30v3M1230.63 459.30v3M1325.11 459.30v3M1419.59 459.30v3M792.70 440.40h-3M792.70 383.95h-3M792.70 327.50h-3M792.70 271.05h-3M792.70 214.60h-3M792.70 158.15h-3M792.70 101.70h-3M792.70 45.25h-3" stroke="#555" stroke-width="1.2" fill="none"/>
<path d="M1140.9 440.4l 12-.7 12.1-1.7 12.1-2.7 12.1-3.5 12.1-4.5 12.1-5.5 12.1-6.4 11.9-7.3 11.9-8.2 12-9.2 11.8-10 11.8-11 11.8-11.9 11.6-12.7 11.5-13.6 11.6-14.7 12.8-17.4 12.7-18.6 12.5-19.7 12.1-20.6 11.6-21 11.3-21.8 10.6-22.2 9.5-21.8 9-22.3 7.6-20.8 6.1-19.4 4.4-17 2.7-14.6 .9-11.8-.2-5-.7-4-1.1-3.4-1.5-2.8-2.1-2-2.6-1.3-3.2-.5-3.6.3-4.3 1.1-4.8 1.8-11.4 6.1-9.6 6.2-11.4 8-62.1 46.7-34.9 24.6-18.6 12.3-18.3 11.4-18.3 10.6-18 9.8-16.3 8.2-16.3 7.7-16.3 7.1-16.6 6.7-16.8 6.1-16.6 5.5-16.6 5-16.4 4.3-17.7 3.9-16.6 2.9-15.6 2-14.4.9-13.4-.1-12.7-1.1-11.9-2.1-11.2-3-12.4-4.9-11.6-6.1-10.9-7.6-9.7-8.6-8.9-10.1-3.4-5.1-2.6-4.8-1.7-4.2-.7-3.7 .3-2.9 1.3-2.1 2.3-1.2 3.1-.4 4 .4 5 1.2 12.8 4.7 17.4 8.3 26.8 14.5 25.7 15.1 18.8 12.4 14.1 11.1 9.2 9.2 3.5 4.4 2.8 4.3 2 4.2 1.2 4 .4 3.7-.5 3.4-1.3 3.1-2.2 2.4-2.9 1.9-3.6 1.1-4.2.4-4.6-.3-5.1-1-5.3-1.8-7.5-3.4-7.8-4.5-7.9-5.6-7.9-6.7-7.9-7.5-7.5-8.1-7.2-8.8-6.7-9.4-6.2-9.7-5.2-9.7-4.1-9.2-2.8-8.4-1.4-7.2 0-6 1.4-4.7 2.8-3.2 3.4-1.6 4.5-.6 5.5.5 6.4 1.5 7.5 2.6 8.6 3.6 19.9 10.3 22.2 13.6 20.5 14.6 17.1 14.4 7.3 7.2 6.6 7.2 7.5 9.4 6.4 9.6 5.4 9.9 4.4 10.2 3.4 10.8 2.5 11.1 1.4 11.5 .4 11.4-.7 10.5-1.7 9.3-2.7 7.9-3.7 6.6-4.6 5.2-5.7 3.9-6.7 2.7-7.8 1.4-7 .2-7.6-.7-7.9-1.6-8.3-2.4-8.6-3.3-8.6-4.1-8.9-4.8-8.9-5.6-8.9-6.4-8.9-6.9-8.9-7.6-8.9-8.3-17.7-18.6-17.2-20.8-9.4-12.6-9-12.9-8.8-13.7-8.4-13.9-8.1-14.4-7.4-14.2-6.8-14.3-6.1-14-5.2-13.2-4.2-12.5-3.2-11.5-2.1-10.1-.9-8.5 .2-7.2 1.4-5.7 2.5-4.1 2.4-2 2.9-1.2 3.4-.5 4.1.2 4.7.9 5.2 1.6 12.8 5.5 11.2 5.8 13.6 7.7 56.8 34.3 29 17 28 15.6 30.5 16.4 100.5 52.6 16.1 8 10.8 4.8 9.6 3.5 8.9 2.6 8.5 1.5 9.8.6 9.6-.7 9.5-2 9.5-3.4 9.7-4.7 9.5-6.1 9.5-7.3 9.3-8.5 10.2-11.1 9.5-12.3 8.4-12.8 6.7-12.7 4.5-11.5 2.1-9.6 .1-4-.5-3.3-1.1-2.6-1.8-2.1-3.6-1.7-4.9-.4-6.2.9-7.6 2.3-9 3.6-10.8 5-28.4 15.1-39.3 23-16.2 10.2-13.7 9.1-11.5 8.4-10 8.1-8.6 7.8-7.5 7.9-5.7 7.1-4.9 7.1-4 7.3-3.2 7.4-2.3 7.7-1.5 7.6-.5 7.5 .5 7.2 1.3 6.7 2.2 6 3.1 5.3 3.9 4.4 4.6 3.5 5.3 2.6 6.1 1.6 6.6.8 6.3-.2 6.7-.9 7-1.6 7.3-2.4 7.5-3.1 7.6-3.7 7.7-4.4 7.8-5.1 15.7-11.9 15.7-14.4 15.4-16.3 15-18.3 16.1-22.4 14.6-23.6 12.7-23.9 5.5-11.8 4.8-11.4 3.9-10.7 2.9-9.7 2.1-9 1.2-7.8 .2-6.7-.7-5.5-1.7-4.3-2.7-3.2-3.2-1.8-3.9-.9-4.7.1-5.7 1-6.5 2-7.4 2.9-18.7 9-28.9 16.1-107.3 61.8-26.1 15.4-29.2 18.6-42.6 29.8-14.3 9.1-9 4.7-8.6 3.5-8.3 2.2-8.3 1.2-9.9-.1-10.1-1.6-10.3-3.2-10.4-4.7-10.6-6.4-10.7-7.8-10.5-9.2-10.4-10.6-11.1-13.1-10.4-14.3-9.2-14.8-7.7-14.6-5.6-13.6-3.1-11.6-.6-4.9 0-4.2 .7-3.4 1.3-2.8 2.2-2.2 3-1.4 3.7-.4 4.7.3 5.3 1.3 6.3 2.1 15.7 6.9 28 15.1 44 25.6 33 20.3 23.9 16 13.6 10.3 11.8 10.1 10.2 10.1 8.8 10.3 6.9 9.4 6.3 10.3 15.6 30.1 4.7 8.4 5.1 7.4 5.2 6.1 3.8 3.5 4 3 4.2 2.6 4.5 2.1 4.8 1.6 5 1.2 10.7 1 7.2-.4 7.5-1 7.7-1.9 7.9-2.6 8.1-3.3 8.2-3.9 8.2-4.7 8.5-5.4 8.3-6.1 8.5-6.7 16.7-15.1 16.5-17.5 16.3-19.7 17.5-24.4 16.5-26.3 14.8-27.2 6.6-13.6 5.8-13.2 5-12.7 3.9-11.6 2.9-10.6 1.9-9.3 .7-7.9-.3-6.3-1.4-4.9-2.6-3.5-2.2-1.5-2.6-.8-3.1-.2-3.6.4-8.6 2.4-10.9 5-10.5 5.7-12.9 7.7-55 35-28.3 17.4-28 16.4-29.4 16.3-70 37.1-46 25-13.6 6.9-11 5-9.8 3.6-9.3 2.5-8.9 1.4-10.5.4-10.4-1.2-10.5-2.6-10.4-4.1-10.7-5.7-10.6-7.1-10.6-8.6-10.3-9.9-11.4-12.7-10.6-13.8-9.4-14.5-8-14.6-5.8-13.6-3.3-11.6-.7-4.9 .1-4.2 .7-3.4 1.4-2.7 2.4-2.1 3.1-1.2 4-.3 4.9.6 5.7 1.5 6.7 2.4 16.8 7.7 32.1 17.6 46.9 27.7 29.3 18.6 21.7 15.4 12.6 10.3 10.7 10.2 9.1 10.3 7.8 10.8 5.9 9.8 5.3 10.8 4.3 10.4 8.2 21.7 3.9 8.9 4.4 8 4.7 6.5 3.6 3.8 3.9 3.2 4.3 2.7 4.5 2.2 4.9 1.8 5.2 1.2 5.6.7 5.8.2 7.4-.4 7.8-1.2 8.2-2.1 8.2-2.7 8.5-3.6 8.6-4.2 8.6-5 8.6-5.6 8.7-6.3 8.8-7 17.5-15.9 17.1-18.2 17-20.6 9.2-12.5 9.1-13 17.2-27.3 15.6-28.5 7-14.2 6.2-14 5.7-13.8 4.6-12.8 3.6-11.8 2.5-10.4 1.4-9.1 .3-7.5-.9-6-2-4.4-1.8-2-2.4-1.4-2.9-.7-3.3-.1-4 .6-4.3 1.3-10.6 4.4-10.9 5.9-13.4 8-58.9 38.3-30.7 19.1-30.2 17.7-31.5 17.1-50.1 25.5-52.1 25.5-21.5 10.1-13.1 5.5-11.3 4-10.2 2.8-9.7 1.7-10.6.7-10.3-.8-10.2-2.1-10.2-3.5-10.3-4.9-10.3-6.5-10.2-7.7-10-9.1-11-11.8-10.3-13.1-9.2-13.8-7.5-13.8-5.2-12.6-1.7-5.6-1-5-.3-4.4 .5-3.6 1.1-3 1.8-2.2 1.7-1.1 2.1-.7 5.3-.4 6.8 1.2 8.4 2.8 10.2 4.4 12.4 6.1 33.9 18.7 42.2 25.2 16.1 10.3 13.4 9.3 11.6 8.7 10 8.5 8.6 8.3 7.4 8.3 6 8.1 5.1 8.4 4.2 8.7 3.3 9 2.3 9.5 1.4 9.7 .4 9.7-.7 9.2-1.6 7.9-2.4 6.8-3.3 5.9-4.1 4.7-5 3.8-5.9 2.7-6.6 1.7-7.5.6-7.1-.3-7.6-1.2-7.9-2-8.3-2.8-8.3-3.6-8.6-4.4-8.7-5.1-8.7-5.8-8.7-6.4-8.7-7.1-17.3-16.1-17.2-18.5-16.8-20.8-9.1-12.4-8.9-13-16.5-27-7.8-14-7.2-14.1-6.4-13.7-5.8-13.5-4.9-12.9-3.9-11.9-3-10.9-1.8-9.6-.8-8.2 .4-6.8 1.3-5.4 2.5-3.9 2.4-1.9 3-1.3 3.6-.5 4 .3 4.7.9 5.4 1.7 13 5.6 23.3 12.6 65.3 39.3 39 22.3 31 16.9 65.1 34.1 45.3 24.3 16.7 8.4 13.2 5.7 11.8 3.8 11 2.1 9.7.6 9.6-.8 9.6-2.1 9.6-3.4 9.7-4.9 9.6-6.1 9.5-7.4 9.4-8.7 10.3-11.3 9.6-12.5 8.3-12.9 6.8-12.7 4.5-11.5 2.2-9.8 .1-4-.5-3.3-1.1-2.8-1.8-2-3.5-1.8-5-.4-6.2.9-7.7 2.3-9.3 3.7-11 5.1-29.2 15.6-40 23.5-16.2 10.2-13.7 9.2-11.5 8.5-10.1 8.2-8.6 8-7.5 7.9-5.8 7.2-4.9 7.4-4 7.6-3.2 7.7-2.3 7.8-1.4 8-.5 7.8 .5 7.5 1.4 6.9 2.3 6.2 3.2 5.3 4 4.5 4.7 3.5 5.5 2.6 6.1 1.7 6.8.7 6.5-.3 6.9-.9 7.1-1.7 7.5-2.5 7.7-3.2 7.7-3.9 7.9-4.6 7.9-5.1 16-12.2 15.9-14.7 15.7-16.7 15.3-18.7 16.2-22.7 14.9-24.1 13.1-24.6 5.7-12.2 4.9-11.6 4-11.1 3.2-10.2 2.2-9.1 1.2-8.2 .3-6.8-.7-5.8-1.6-4.5-2.7-3.2-3-1.8-3.7-.9-4.5-.1-5.2.8-6.1 1.7-7 2.7-17.4 8.2-24.3 13.4-59.1 34.3-89 50.9-27.3 16.9-41.3 27.7-14 8.7-9.4 4.8-8.7 3.5-8.5 2.4-8.4 1.3-9.8 0-10-1.4-10.1-3-10.2-4.5-10.4-6-10.4-7.5-10.3-8.9-10.2-10.2-10.9-12.8-10.2-13.7-9.1-14.5-7.5-14.1-5.5-13.3-3.1-11.3-.6-4.7 0-4.2 .7-3.4 1.3-2.7 2.2-2.3 3.1-1.3 3.9-.5 4.7.5 5.6 1.3 6.5 2.2 16.4 7.4 30.2 16.3 45.3 26.6 30.6 19.1 22.6 15.7 13.1 10.4 11.1 10.1 9.6 10.3 8.2 10.6 6.3 9.8 5.7 10.6 13.7 31.4 4.1 8.7 4.7 7.8 5 6.4 3.6 3.7 4 3.1 4.2 2.7 4.6 2.2 4.8 1.7 5.2 1.2 5.4.8 5.7.2 7.4-.4 7.6-1.2 7.9-1.9 8.1-2.7 8.3-3.4 8.4-4.2 8.4-4.7 8.5-5.6 8.6-6.1 8.4-6.7 17.2-15.6 16.8-17.7 16.6-20 17.9-24.8 17-26.8 15.2-27.6 6.9-14 6.1-13.5 5.5-13.4 4.4-12.4 3.5-11.4 2.4-10.1 1.4-8.8 .2-7.2-.8-6-2-4.3-1.9-2-2.4-1.4-3-.7-3.4 0-4.1.6-4.5 1.3-10.9 4.7-10.7 5.8-13.4 8-57.8 37.2-29.9 18.6-29.7 17.3-30.8 16.9-101.5 51.9-24.4 12-12.2 5.2-10.5 3.8-9.9 2.7-9.3 1.5-10.4.5-10.4-.9-10.3-2.3-10.3-3.8-10.4-5.2-10.3-6.6-10.3-8.1-10.1-9.3-11.1-12.1-10.3-13.3-9.3-14-7.6-13.9-5.5-13-3-11.1-.5-4.6 .3-3.8 .9-3.2 1.5-2.4 1.8-1.5 2.1-.9 2.7-.5 3 0 7.5 1.3 9.5 3.3 11.4 5 14.3 7.3 41.1 23.2 41.5 25.3 15.2 10.1 12.9 9.2 11.4 9 9.7 8.7 8.3 8.8 7.2 8.8 6.6 10 5.4 10.5 4.3 11.2 3.4 12.1 2.4 13.2 1.6 14.9 .9 17.7 .2 19.5-.5 12.2-.9 8.8-1.5 6.5-2.3 4.9-3.4 3.8-4.8 2.8-6.1 1.8-7.5.7-8.9-.3-9.7-1.4-10.2-2.5-10.6-3.5-10.6-4.5-10.7-5.3-10.9-6.3-10.9-7.2-10.7-7.9-10.8-8.8-10.7-9.6-10.6-10.3-10.7-11.3-10.4-11.7-10.4-12.8-10.2-13.2-11.3-15.9-11.2-16.7-10.9-17.4-10.6-18.3-10.1-18.6-9.6-19-8.9-19.2-7.9-18.4-7.1-18.3-5.8-16.9-4.5-15.5-3.1-13.9-1.6-11.5-.1-9.2 1.4-7.1 1.2-2.6 1.7-2.2 2.3-1.7 2.7-1 3.3-.3 3.8.3 4.2 1.1 4.9 1.8 11.4 5.6 20.8 13 62.8 43.3 35.7 23.2 19.5 11.8 19 10.8 19.1 10.3 19.5 9.8 18.4 8.6 18.6 8.1 19 7.7 19.3 7.4 19.3 6.7 18.3 5.9 16.7 4.7 15.1 3.7 13.2 2.5 12.1 1.5 11.1.6 10.6-.4 10-1.3 9.7-2.3 9.4-3.3 9.1-4.3 10.1-6.3 9.7-7.6 9-8.7 7.8-9.6 6.4-10 4.2-9.3 1-4 .4-3.5-.4-3-1.1-2.3-2.2-1.8-3.1-1-4-.1-5 .8-6 1.6-7 2.6-17.6 7.9-27.6 14.5-27.9 16.4-20.7 13.8-8.4 6.3-7.3 6.2-9.7 9.8-3.9 4.8-3.2 4.8-2.4 4.6-1.8 4.6-1 4.4-.2 4.2 .6 4 1.3 3.6 2.2 3.1 2.9 2.5 3.5 1.8 4 1.2 4.7.5 5-.3 6.9-1.3 7.4-2.5 7.7-3.6 8.1-4.6 8.1-5.6 8.1-6.5 8.1-7.4 8-8.2 7.9-9.1 7.5-9.6 7.1-10.2 6.4-10.2 5.6-10.2 4.6-9.8 3.6-9.2 2.3-8.4 .9-5.7 .1-5-.8-4.2-1.5-3.3-2.3-2.5-3.1-1.6-3.9-.7-4.7 0-5.5 1-6.4 1.8-15.5 6.2-19.4 9.7-22.2 12.8-24.1 15.6-20.9 15.3-17.4 14.8-7.5 7.4-6.9 7.4-9.3 11.4-8.2 12.1-8.6 15-13.4 27.3-5.4 9.9-6.7 10-7.1 7.7-4.7 3.8-5 3.2-5.4 2.5-5.7 1.9-6 1.2-6.4.5-6.7-.1-6.8-.7-7.1-1.5-7.3-2.1-7.5-2.7-7.5-3.4-15.3-8.5-15.7-11.1-15.6-13.2-15.6-15.5-15.2-17.3-14.9-19.3-16-23.4-14.8-24.8-12.8-25-10.4-24.1-4-11-3-10-2.2-9.1-1.1-7.9-.2-6.5 .8-5.4 1.7-3.9 2.7-2.7 2.3-1.2 2.9-.5 3.3 0 3.6.6 8.9 2.9 11.3 5.2 21.1 12.2 61.4 38.6 36.5 21.9 33.6 19 72.5 39.6 55.4 32 13.2 6.8 11.5 4.7 10.6 3.2 10.4 1.6 10.7.1 10.6-1.5 10.8-3 11-4.8 11.1-6.3 11-7.9 11.1-9.4 10.8-10.8 11.7-13.8 11-14.9 9.7-15.6 8-15.3 5.6-14 1.8-6.3 1.2-5.6 .4-4.8-.3-4.1-1.1-3.3-1.7-2.6-2.5-1.7-3.1-.9-3.8-.1-4.6.7-5.4 1.4-6.1 2.2-15.4 7-26.8 14.5-42.5 24.9-33.3 20.3-23.7 15.7-14.5 10.6-12.3 10.2-10.6 10.1-9.3 10.4-7.2 9.5-6.7 10.4-16.5 30.5-5 8.5-5.5 7.7-5.7 6.2-4.3 3.7-4.6 3.1-4.9 2.5-5.1 1.9-5.6 1.4-5.7.8-6.1.3-6.2-.3-7.3-1.1-7.5-1.7-7.6-2.4-7.9-3.1-7.9-3.8-8-4.4-8.2-5.1-8.1-5.7-16.2-13.2-16.3-15.6-16-17.7-15.6-19.6-16.9-24.4-15.7-25.8-13.8-26.3-6.1-13-5.3-12.6-4.5-12-3.4-10.9-2.6-9.9-1.4-8.5-.4-7.2 .6-5.8 1.6-4.4 2.7-3.1 2.2-1.2 2.7-.7 3.1-.1 3.7.5 8.7 2.7 10.8 4.9 10.4 5.7 12.7 7.6 54.1 34.4 28 17.2 27.5 16.1 29 16.1 66 35.1 49.5 27.3 15.1 7.9 10.8 4.9 9.7 3.6 9.2 2.4 8.8 1.4 10.5.3 10.4-1.2 10.5-2.7 10.6-4.2 10.7-5.7 10.6-7.3 10.7-8.7 10.4-10 11.4-12.8 10.7-14 9.5-14.7 8-14.7 5.9-13.7 3.3-11.8 .7-4.9 0-4.2-.8-3.5-1.4-2.7-2.2-2.1-3.1-1.3-3.8-.3-4.7.5-5.4 1.3-6.4 2.2-16.1 7.3-29.2 15.8-44.7 26.2-31.1 19.3-22.7 15.5-13.7 10.7-11.7 10.4-9.9 10.5-8.5 10.9-6.5 10-5.8 10.9-4.8 10.4-9.1 21.9-4.3 9.1-5 8.2-5.4 6.6-4.1 3.8-4.5 3.2-5 2.7-5.2 2-5.7 1.5-5.9.8-6.3.3-6.6-.4-7.5-1.1-7.7-1.8-7.9-2.6-8.1-3.2-8.2-3.9-8.2-4.6-8.4-5.2-8.4-6-16.8-13.6-16.7-16-16.5-18.2-16.1-20.3-17.3-24.7-16.2-26.4-14.6-27.2-12.3-26.9-5.1-12.7-4.1-11.9-3.2-11-2.2-9.7-1.1-8.4-.1-6.9 1-5.6 2.1-4 1.8-1.9 2.5-1.3 2.9-.6 3.4 0 4 .7 4.5 1.3 10.7 4.6 10.8 5.8 13.3 8 57.9 37.3 30.1 18.7 29.6 17.3 31 17 42.6 21.9 63.9 32.2 19.2 9.3 12.3 5.3 10.8 3.9 9.8 2.6 9.4 1.6 10.5.5 10.3-.8 10.3-2.3 10.3-3.7 10.4-5.2 10.4-6.7 10.3-8 10-9.3 11.2-12.1 10.4-13.3 9.2-14.1 7.6-14 5.4-12.9 1.8-5.8 1-5.1 .4-4.4-.3-3.9-1-3.1-1.7-2.3-1.8-1.3-2.1-.8-5.6-.4-7.2 1.3-9.1 3.1-11 4.8-13.5 6.8-38.3 21.5-42.2 25.5-15.7 10.2-13.1 9.3-11.5 8.9-9.8 8.6-8.5 8.6-7.3 8.7-6.4 9.1-5.3 9.6-4.3 10.1-3.4 10.6-2.5 11.7-1.6 12.6-.6 13.2 .4 12.6 1.1 9.5 1.9 7.8 2.7 6.3 3.5 5.1 4.6 4 5.6 3 6.6 1.9 7.7.8 8.1-.3 8.7-1.3 9.2-2.3 9.4-3.2 9.6-4.1 9.8-5 9.9-5.8 9.9-6.6 9.8-7.3 9.8-8.1 9.8-8.8 9.8-9.6 9.7-10.2 9.7-11 19-24 10.5-14.6 10.2-15.3 9.8-15.9 9.4-16.1 9-16.7 8.4-16.9 7.7-16.8 6.8-16.1 5.7-15.4 4.6-14.2 3.4-12.8 2.1-11.4 .7-9.5-.5-7.4-1.8-5.7-1.4-2.1-1.8-1.7-2.5-1.4-3-.7-3.3-.1-4 .5-9.5 3-11.8 5.6-20.8 12.2-61.9 39.8-35.7 21.7-38.9 21.7-40.7 20.4-45.4 20.7-46.3 19.4-15.1 5.7-12.8 4.4-11.3 3.2-10.2 2.2-10.5 1.4-10 .3-9.6-.8-9.3-1.9-9.2-3-9.1-4.2-9-5.4-8.7-6.4-10-9-9.2-10.1-8.3-11.1-6.8-11.2-4.7-10.6-1.4-4.7-.8-4.2-.1-3.6 .5-3.1 1.1-2.5 1.9-1.8 3.1-1.3 4.2-.4 5.1.6 6.2 1.6 7.3 2.6 8.7 3.6 21.7 10.8 31.4 17.6 28 17.2 20.4 14.5 8.2 6.7 7.2 6.6 5.3 5.5 4.5 5.5 3.8 5.4 3.2 5.4 2.4 5.4 1.8 5.3 1 5.2 .2 5-.5 4.8-1.3 4.5-2 4-2.7 3.4-3.5 2.9-4.1 2.4-4.6 1.6-5.1 1-5 .3-5.3-.3-5.6-.8-5.8-1.4-12.1-4.6-12.6-6.6-12.8-8.6-12.9-10.5-12.8-12.2-12.6-13.8-13-16.5-12-17.5-10.6-17.9-8.7-17.5-6.2-16-2.1-7.2-1.3-6.4-.6-5.7 .2-4.9 .9-4 1.6-3.2 2.2-2.1 2.8-1.5 3.4-.8 4 0 4.6.6 5.3 1.3 13 4.8 16.7 8.1 21.6 11.7 27.5 16.3 27.6 17.2 21.3 14.1 17.9 12.9 15.4 12.3 13.5 12.1 10.6 10.8 9.9 11.5 30.2 40.1 6.3 6.8 6.1 5.4 4.5 3.4 4.8 2.8 4.9 2.3 5 1.7 5.2 1.2 5.5.8 5.7.2 5.8-.4 6.4-.9 6.6-1.5 6.8-2.1 6.9-2.7 14.1-7.1 14.3-9.4 14.4-11.5 14.5-13.6 14.3-15.4 13.8-17 14.8-20.8 13.6-21.9 11.7-22.1 9.3-21.1 3.6-9.7 2.6-8.8 1.8-7.8 .9-6.8 0-5.8-.9-4.6-1.8-3.5-2.6-2.4-3.3-1.2-3.9-.3-4.8.6-5.7 1.6-14 5.9-19 10.3-78.9 48-68.3 40.8-28.1 17.7-15 10.3-13.8 10.2-13.4 10.8-27 22.8-7.4 5.7-6.7 4.5-8.5 4.6-8.3 3.4-8.4 2-8.7.9-11.6-.6-12.1-2.7-12.3-4.7-12.7-6.7-12.9-8.6-13-10.5-12.8-12.2-12.6-13.8-13.5-17-12.5-18-11.3-18.9-9.5-18.7-7.1-17.2-2.4-7.7-1.7-7-1-6.1-.1-5.3 .7-4.4 1.4-3.3 2-2.3 2.7-1.5 3.3-.7 4 .1 4.7.8 5.5 1.7 13.3 5.6 14.7 7.7 19.3 11.1 91.1 55.1 22.7 14.3 17.8 11.9 15.2 11.1 13.2 10.7 10.5 9.6 10 10.2 30.7 35.4 6 5.8 5.9 4.8 8.5 5.4 9 3.7 9.5 2.1 10 .5 6.6-.5 6.7-1.2 6.9-1.8 7-2.3 7.1-3 7.3-3.6 14.7-9 14.8-11.2 14.8-13.3 14.7-15.4 14.3-17.1 15.4-21.2 14.4-22.6 12.5-23 9.9-21.8 3.8-10.2 2.9-9.3 2.1-8.4 1-7.1 .2-6.2-.8-4.8-1.7-3.7-2.7-2.6-3.2-1.3-3.8-.3-4.6.5-5.4 1.4-6.2 2.3-7.3 3.3-18 9.7-82.8 50.5-70.8 42.1-25.9 16.2-14.8 10.1-13.7 10-13.4 10.5-27 22.3-14 10-8.6 4.7-8.4 3.3-8.5 2.1-8.8.9-11.6-.6-12-2.7-12.4-4.7-12.7-6.7-12.8-8.6-12.9-10.5-12.9-12.3-12.5-13.8-13.5-17-12.6-18.3-11.2-18.9-9.3-18.6-6.8-17-2.3-7.6-1.5-6.8-.7-5.9 .1-5 .9-4 1.7-3.1 2.2-2 2.9-1.2 3.5-.5 4.1.3 4.8 1.1 5.7 1.8 13.8 6.1 15.3 8.1 20.5 11.9 93.3 56.6 20.4 13.1 16.4 11.2 14.2 10.7 12.4 10.4 9.9 9.3 9.5 10 29.4 35 6.1 6 5.8 4.9 8.6 5.5 9 3.8 9.6 2.2 10.2.5 6.7-.6 6.7-1.2 6.9-1.8 7.1-2.4 7.2-3 7.3-3.7 14.8-9.1 14.9-11.3 15-13.5 14.8-15.5 14.5-17.4 15.6-21.4 14.3-22.7 12.7-23.3 10.1-22.2 3.8-10.1 3-9.4 2.1-8.6 1.1-7.3 .1-6.2-.7-5-1.7-3.7-2.7-2.7-3.1-1.2-3.7-.4-4.5.4-5.2 1.3-13 5.3-17.3 9.2-19.3 11.4-66.8 41.1-73.3 43.5-23.8 14.9-14.6 9.8-13.5 9.7-13.3 10.2-26.9 21.8-14 9.8-8.6 4.7-8.5 3.3-8.6 2.2-8.6.9-5.7 0-5.9-.6-11.9-2.6-12.3-4.6-12.5-6.5-12.8-8.5-12.8-10.3-12.7-12.1-12.4-13.5-13.4-16.8-12.4-18-11.2-18.8-9.2-18.3-6.7-16.7-2.3-7.6-1.5-6.7-.7-5.9 .1-4.9 .9-4.1 1.6-3.1 2.2-2 2.9-1.2 3.5-.5 4.2.3 4.9 1.1 5.7 1.9 13.9 6.1 16 8.5 21.7 12.6 92.8 56.5 19.5 12.6 15.9 11.1 13.7 10.5 12 10.4 9.7 9.4 9.1 9.9 28.7 35.4 6 6.1 5.8 5 8.6 5.6 9 3.8 9.8 2.2 10.3.5 6.6-.6 6.9-1.2 7-1.9 7.2-2.4 7.3-3.2 7.3-3.7 15-9.1 15-11.5 15.1-13.7 15-15.8 14.7-17.6 15.6-21.5 14.6-23.1 12.7-23.4 10.3-22.6 3.9-10.3 3.1-9.6 2.1-8.7 1.2-7.5 .2-6.4-.7-5.1-1.7-3.8-2.7-2.7-3-1.3-3.6-.4-4.4.4-4.9 1.2-12.5 4.9-16.5 8.7-20 11.8-66.3 40.9-74.8 44.3-26.6 16.3-27.4 18.7-40 31-13.8 9.6-8.9 4.7-8.5 3.4-8.6 2.2-8.7 1-11.4-.5-11.8-2.5-12.2-4.5-12.4-6.4-12.7-8.3-12.6-10.1-12.6-11.9-12.3-13.3-13.3-16.7-12.3-17.7-11-18.4-9.1-18-6.6-16.6-2.2-7.4-1.5-6.6-.7-5.7 .1-4.9 .9-4 1.6-3.1 2.2-2 2.9-1.2 3.6-.5 4.2.4 5 1.1 5.7 1.9 14.3 6.3 16.9 9.1 23.4 13.5 59.7 36.1 31.5 19.6 18.5 12.2 15.3 10.9 13.3 10.5 11.7 10.4 9.3 9.4 8.9 10 27.7 35.7 5.9 6.3 5.7 5.1 8.6 5.7 9.2 4 9.8 2.2 10.5.4 6.7-.6 7-1.3 7-1.9 7.3-2.5 7.4-3.2 7.4-3.8 15.2-9.4 15.3-11.6 15.3-14 15.2-16 14.7-17.8 15.9-22 14.8-23.5 12.9-23.9 10.5-22.9 4-10.5 3.1-9.8 2.2-8.9 1.3-7.7 .2-6.5-.8-5.2-1.7-3.9-2.7-2.7-2.8-1.2-3.5-.5-4.2.3-4.8 1.1-11.9 4.6-15.8 8.2-20.3 12-71.2 44-76 44.7-25.5 15.6-26.5 17.7-39.3 29.6-13.8 9.2-9 4.8-8.6 3.5-8.7 2.2-8.7 1.1-11.3-.5-11.7-2.3-12-4.3-12.2-6.2-12.3-7.9-12.5-9.9-12.4-11.5-12.2-13.1-13.1-16.3-12.2-17.3-10.8-18-9.1-17.8-6.5-16.3-2.3-7.3-1.4-6.6-.7-5.7 0-4.8 .9-4 1.6-3 2.2-2.1 2.9-1.2 3.6-.5 4.4.4 5 1.1 5.8 2 14.5 6.4 18.3 9.8 26 15.2 56.6 34.3 31.6 19.8 17.6 11.8 14.7 10.8 12.8 10.5 11.3 10.4 8.9 9.4 8.4 10 26.5 36.3 5.8 6.5 5.8 5.3 8.6 5.9 9.2 4 9.9 2.2 10.7.4 6.8-.6 7-1.3 7.3-2 7.4-2.6 7.4-3.2 7.6-3.9 15.4-9.6 15.5-11.9 15.5-14.2 15.5-16.4 15-18.2 16.2-22.4 15-23.9 13.3-24.5 10.7-23.6 4.1-10.8 3.2-10.2 2.3-8.9 1.3-7.9 .3-6.6-.7-5.3-1.7-4.1-2.7-2.8-2.7-1.2-3.3-.6-4 .3-4.7.9-11.4 4.3-14.8 7.6-20.8 12.2-77 47.7-78.4 45.8-24.1 14.6-24.7 16.1-38.4 27.7-13.4 8.8-9.3 5-9 3.6-8.8 2.3-8.8 1.1-11.2-.3-11.4-2.2-11.8-4.1-12-5.9-12.1-7.7-12.3-9.6-12.2-11.1-12-12.8-12.8-15.7-12-17.1-10.8-17.7-8.8-17.2-6.5-16.1-2.2-7-1.4-6.5-.7-5.5 .1-4.8 .8-3.9 1.6-3 2.2-2 3-1.3 3.7-.4 4.4.4 5.2 1.2 6 2 14.8 6.7 20.6 11.1 31.2 18.3 51.1 31 30.3 19.4 16.6 11.5 14.1 10.7 12.2 10.4 10.6 10.5 8.4 9.4 7.9 10.2 25 37 5.6 6.8 5.7 5.5 8.5 6.1 4.6 2.3 4.7 1.9 5 1.3 5.2.9 11 .4 6.9-.6 7.2-1.4 7.4-2.1 7.6-2.7 7.6-3.4 7.7-3.9 15.8-10 15.9-12.3 15.9-14.6 15.7-16.7 15.3-18.8 16.5-22.9 15.4-24.7 13.6-25.1 6-12.6 5.1-11.8 4.3-11.3 3.3-10.3 2.4-9.3 1.4-8.2 .3-6.9-.6-5.5-1.7-4.2-2.7-2.9-2.6-1.2-3.2-.6-3.7.1-4.4.9-10.6 3.8-13.8 6.9-21.3 12.4-53.9 33.8-30.1 18.4-83 48-22.7 13.6-21.4 13.5-36.3 24.9-13.1 8.3-9.9 5.2-9.2 3.8-9.1 2.5-9 1.2-11-.2-11.3-2-11.5-3.8-11.7-5.5-11.9-7.4-12-9.1-11.9-10.8-11.7-12.2-12.5-15.1-11.8-16.5-10.5-17.1-8.7-16.8-6.3-15.5-2.2-7-1.4-6.2-.7-5.5 0-4.6 .8-3.9 1.6-3 2.3-2.1 2.9-1.2 3.8-.4 4.5.4 5.3 1.3 6.2 2.1 15.4 6.9 24.7 13.5 39.6 23.5 42 25.8 27.5 17.9 15.5 11.2 13.2 10.7 11.5 10.5 10 10.6 7.7 9.6 7.2 10.4 17.7 30.3 5 8.1 5.5 7.2 5.5 5.9 4.2 3.4 4.3 2.9 4.5 2.4 4.9 1.9 5.1 1.5 5.4.9 5.6.4 5.8-.1 7.2-.8 7.4-1.4 7.7-2.2 7.8-3 8-3.5 8-4.2 8.2-5 8.1-5.5 16.4-12.8 16.4-15.3 16.1-17.5 15.9-19.6 17.2-24.1 15.9-25.6 14.1-26.5 6.1-12.9 5.4-12.6 4.4-11.8 3.5-10.8 2.5-9.8 1.4-8.4 .3-7.1-.7-5.6-1.7-4.3-2.8-3-2.6-1.1-2.9-.6-3.6.1-4 .7-9.9 3.4-12.3 6.1-22.3 13-55.5 35.2-30.7 18.8-33.7 19.7-79.7 45.1-19.2 11.7-45.6 28.5-11.1 5.8-10.1 4.2-9.6 2.7-9.4 1.5-10.8 0-10.9-1.6-11.1-3.3-11.3-5.1-11.5-6.7-11.5-8.4-11.5-10-11.2-11.3-12.1-14.2-11.5-15.5-10.2-16.3-8.5-15.9-6.4-15-3.7-12.9-.8-5.3-.1-4.7 .7-3.9 1.3-2.9 2.4-2.4 3.2-1.5 4.1-.4 5.1.6 6 1.6 7 2.5 17.6 8.3 15.2 8.3 19.7 11.4 53.9 32.6 30.5 19.8 22.4 16.4 10.9 9.1 9.5 9.1 8.4 9.1 7.3 9.4 6.4 9.7 5.8 10.6 4.9 10.4 10 23.1 5.5 10.6 3.7 5.6 3.9 4.8 4.2 4.1 4.6 3.4 6 3.3 6.5 2.3 7.1 1.5 7.6.5 8.1-.4 8.4-1.3 8.6-2.2 9-3.1" stroke="#1f77b4" stroke-width="2.00" fill="none" stroke-linejoin="round" stroke-linecap="round"/>
<rect x="792.70" y="7.30" width="698.90" height="452.00" stroke="#8c8c8c" stroke-width="1.35" fill="none"/>
<text x="852.71" y="479.30" font-size="21.30" text-anchor="middle" font-family='"Liberation Sans",sans-serif' font-weight="normal" fill="#1a1a1a" textLength="21.08" lengthAdjust="spacingAndGlyphs">−6</text>
<text x="947.19" y="479.30" font-size="21.30" text-anchor="middle" font-family='"Liberation Sans",sans-serif' font-weight="normal" fill="#1a1a1a" textLength="21.08" lengthAdjust="spacingAndGlyphs">−4</text>
<text x="1041.67" y="479.30" font-size="21.30" text-anchor="middle" font-family='"Liberation Sans",sans-serif' font-weight="normal" fill="#1a1a1a" textLength="21.08" lengthAdjust="spacingAndGlyphs">−2</text>
<text x="1136.15" y="479.30" font-size="21.30" text-anchor="middle" font-family='"Liberation Sans",sans-serif' font-weight="normal" fill="#1a1a1a" textLength="9.09" lengthAdjust="spacingAndGlyphs">0</text>
<text x="1230.63" y="479.30" font-size="21.30" text-anchor="middle" font-family='"Liberation Sans",sans-serif' font-weight="normal" fill="#1a1a1a" textLength="9.09" lengthAdjust="spacingAndGlyphs">2</text>
<text x="1325.11" y="479.30" font-size="21.30" text-anchor="middle" font-family='"Liberation Sans",sans-serif' font-weight="normal" fill="#1a1a1a" textLength="9.09" lengthAdjust="spacingAndGlyphs">4</text>
<text x="1419.59" y="479.30" font-size="21.30" text-anchor="middle" font-family='"Liberation Sans",sans-serif' font-weight="normal" fill="#1a1a1a" textLength="9.09" lengthAdjust="spacingAndGlyphs">6</text>
<text x="788.90" y="448.60" font-size="21.30" text-anchor="end" font-family='"Liberation Sans",sans-serif' font-weight="normal" fill="#1a1a1a" textLength="9.09" lengthAdjust="spacingAndGlyphs">0</text>
<text x="788.90" y="392.15" font-size="21.30" text-anchor="end" font-family='"Liberation Sans",sans-serif' font-weight="normal" fill="#1a1a1a" textLength="9.09" lengthAdjust="spacingAndGlyphs">5</text>
<text x="788.90" y="335.70" font-size="21.30" text-anchor="end" font-family='"Liberation Sans",sans-serif' font-weight="normal" fill="#1a1a1a" textLength="18.19" lengthAdjust="spacingAndGlyphs">10</text>
<text x="788.90" y="279.25" font-size="21.30" text-anchor="end" font-family='"Liberation Sans",sans-serif' font-weight="normal" fill="#1a1a1a" textLength="18.19" lengthAdjust="spacingAndGlyphs">15</text>
<text x="788.90" y="222.80" font-size="21.30" text-anchor="end" font-family='"Liberation Sans",sans-serif' font-weight="normal" fill="#1a1a1a" textLength="18.19" lengthAdjust="spacingAndGlyphs">20</text>
<text x="788.90" y="166.35" font-size="21.30" text-anchor="end" font-family='"Liberation Sans",sans-serif' font-weight="normal" fill="#1a1a1a" textLength="18.19" lengthAdjust="spacingAndGlyphs">25</text>
<text x="788.90" y="109.90" font-size="21.30" text-anchor="end" font-family='"Liberation Sans",sans-serif' font-weight="normal" fill="#1a1a1a" textLength="18.19" lengthAdjust="spacingAndGlyphs">30</text>
<text x="788.90" y="53.45" font-size="21.30" text-anchor="end" font-family='"Liberation Sans",sans-serif' font-weight="normal" fill="#1a1a1a" textLength="18.19" lengthAdjust="spacingAndGlyphs">35</text>
<text x="0.00" y="0.00" font-size="21.60" text-anchor="middle" font-family='"Liberation Sans",sans-serif' font-weight="bold" fill="#1a1a1a" transform="translate(1142.40 500.50) scale(0.730 1)">x</text>
<text x="0.00" y="0.00" font-size="21.60" text-anchor="middle" font-family='"Liberation Sans",sans-serif' font-weight="bold" fill="#1a1a1a" transform="translate(766.30 234.10) rotate(-90) scale(1 0.730)">z</text>
<path d="M82.35 627.10V1078.70M165.50 627.10V1078.70M248.65 627.10V1078.70M331.80 627.10V1078.70M414.95 627.10V1078.70M498.10 627.10V1078.70M581.25 627.10V1078.70M664.40 627.10V1078.70M747.55 627.10V1078.70M74.30 1059.30H772.90M74.30 1002.95H772.90M74.30 946.60H772.90M74.30 890.25H772.90M74.30 833.90H772.90M74.30 777.55H772.90M74.30 721.20H772.90M74.30 664.85H772.90" stroke="#e0e0e0" stroke-width="1.3" fill="none"/>
<path d="M82.35 1078.70v3M165.50 1078.70v3M248.65 1078.70v3M331.80 1078.70v3M414.95 1078.70v3M498.10 1078.70v3M581.25 1078.70v3M664.40 1078.70v3M747.55 1078.70v3M74.30 1059.30h-3M74.30 1002.95h-3M74.30 946.60h-3M74.30 890.25h-3M74.30 833.90h-3M74.30 777.55h-3M74.30 721.20h-3M74.30 664.85h-3" stroke="#555" stroke-width="1.2" fill="none"/>
<path d="M415 1059.3l 19.9-.4 19.9-1.3 19.7-2 19.4-2.9 19.3-3.8 18.8-4.5 18.3-5.3 17.8-6 17.3-6.8 16.6-7.5 15.9-8.2 15-8.8 14.4-9.5 13.5-10.1 12.4-10.5 11.6-11.1 10.5-11.6 9.4-12 8.4-12.5 7.1-12.5 6-12.9 4.8-13.2 3.6-13.3 2.4-13.8 1-13.3-.2-13.6-1.4-13.3-2.7-13.5-3.9-13-5.3-13-6.2-12.4-7.5-12.2-6.4-8.8-7-8.7-7.7-8.4-7.8-7.7-8.9-7.9-9-7.1-10.1-7.3-9.9-6.4-10.4-6.1-10.8-5.6-11.2-5.3-12.2-5.1-11.8-4.3-12.7-4.1-12.2-3.3-13.1-3-13.1-2.5-13.2-1.9-13.1-1.4-13-.9-13.7-.3-13.3.3-13.1.8-12.7 1.3-12.3 1.8-12.5 2.4-12 2.9-11.9 3.5-11.3 3.9-10.6 4.3-10.3 4.8-10 5.5-11.4 7.2-10.7 8.2-9.4 8.6-8.1 9-6.9 9.5-5.6 9.8-4.1 10.1-2.8 10.4-1.3 9.5-.2 9.5 1 9.6 2.2 9.7 3 9.2 4.1 9.3 15.8 28.5 1.4 4.3-.1 3.1-.8 1.1-1.3.6-3.7-.1-4.6-1.9-4.5-3.5-3.6-3.9-2.8-4.7-2-5-1-5.3 0-4.6 .6-4.6 1.4-4.7 2-4.4 2.7-4.3 3.3-4 3.9-3.7 4.4-3.3 4.9-2.9 5.2-2.4 5.6-2 5.7-1.4 5.9-.8 5.8-.2 5.6.4 5.4.9 4.6 1.4 4.2 1.8 3.8 2.3 3.3 2.6 2.7 3 2.2 3.3 1.5 3.5 1 3.8 .4 4-.2 4.1-.7 4.3-1.4 4.5-4.3 9.7-6.8 11.1-9 12.2-9.9 12-8.4 8.7-7.7 6.5-7.6 4.7-7.8 3.1-8.1 1.5-8.4.1-5.2-.8-5.2-1.3-5.1-1.8-5-2.4-4.8-2.8-4.5-3.3-4.1-3.6-3.8-4-3.3-4.3-2.9-4.5-2.4-4.8-1.9-4.9-1.4-5-.9-5.2-.3-5.2 .2-5.2 1.7-8.8 3.2-8.7 4.6-8.1 6.1-7.6 7.4-6.9 8.4-5.9 9.3-4.9 10-3.7 10.5-2.4 10.7-.9 10.2.5 9.5 1.9 8.5 3.3 7.3 4.6 5.9 5.8 4.4 6.8 2 4.9 1.5 5.2 .9 5.8 .3 6.4-.4 11.1-3.4 32.3-1 18 .5 20.3 3.1 39.3-.1 9.2-1.1 7.4-2 5.9-3 5-4 4.1-5.1 3.3-6.4 2.6-7.5 1.8-8.5 1-9.4.2-10.9-.8-11.5-1.7-11.7-2.6-11.9-3.5-11.7-4.3-11.5-4.9-11.2-5.7-10.6-6.3-9.9-6.6-9.3-7.3-8.6-7.7-8.1-8.1-7.3-8.7-6.3-8.7-5.5-9-4.7-9.4-3.7-9.3-2.9-9.6-2-9.4-1.2-9.8-.2-9.7 .7-9.6 1.5-9.4 2.4-9.5 3.3-9.2 4.2-9.1 5.1-9 5.7-8.5 6.6-8.3 7.2-7.7 8.2-7.6 8.6-6.9 10.6-7.4 11-6.5 11.6-5.9 12.5-5.2 12.9-4.5 13.1-3.6 13.6-2.9 13.6-1.9 13.9-1.1 13.5-.2 13.5.7 13.1 1.5 12.8 2.5 12.1 3.3 11.3 4.1 10.5 4.8 8.3 4.7 7.5 5.2 6.6 5.5 5.9 6.1 5 6.2 4.2 6.7 3.2 7 2.4 7.3 1.2 6.3 .6 6.5 0 6.5-.7 7-2.4 12.6-7 25.4-1.6 10.1 .1 8.9 .9 4 1.3 3.8 2.1 4.1 2.8 3.7 3.4 3.3 4 2.9 4.6 2.5 5.1 2 5.5 1.5 5.8 1 10.4.5 10.7-1.1 10.5-2.6 10-4 9.1-5.3 8-6.4 6.6-7.3 5.1-8 3.4-8.4 1.7-8.6 0-8.9-1.7-8.7-3.3-8.5-5.1-8.1-6.4-7.5-7.9-6.6-6.9-4.6-7.7-3.9-8-3.2-8.5-2.4-8.7-1.7-8.6-.7-8.6.1-8.3.9-7.9 1.8-7.2 2.6-6.4 3.3-5.7 4-4.7 4.6-3.6 5.1-2.7 5.7-1.6 6.1-.5 5.2 .1 5.5 .8 5.8 1.5 6.2 3.8 11.1 11.9 28.1 5.5 14.9 4.4 15.9 6.4 30.3 2 6.7 2.3 5.6 2.7 4.8 3.2 4 3.7 3.5 4.3 2.9 5 2.4 5.5 1.8 6.1 1.2 6.8.6 8.3 0 9-.9 9.3-1.6 9.4-2.4 9.5-3.1 9.4-3.8 9.1-4.3 8.9-5 8.2-5.4 7.9-5.9 7.3-6.3 6.8-6.6 6.1-7 5.6-7.3 4.8-7.5 4.2-7.9 3.4-7.7 2.7-7.9 1.9-7.8 1.3-8.1 .6-7.9-.2-8.1-.8-7.9-1.6-8.1-2.3-7.8-2.9-7.6-3.6-7.5-4.3-7.3-5-7.2-5.5-6.8-6.1-6.5-6.8-6.2-8.8-7-9.3-6.3-10.2-5.8-10.8-5.2-11.1-4.4-11.8-3.7-11.9-2.9-11.9-2.1-12.1-1.3-12.1-.4-12 .4-11.8 1.2-11.2 2.1-10.7 2.9-9.8 3.6-9.2 4.3-6.7 4-6.1 4.3-5.4 4.8-4.8 5-4.1 5.4-3.3 5.7-2.6 5.9-2 6.1-1.6 10.8 .1 11.7 1.6 11.1 4.9 25 1.2 12-.2 6.1-.8 5.6-1.5 5.3-2.1 5-3.3 5.5-4.2 5-5.1 4.6-5.9 4-6.5 3.4-7.2 2.7-7.8 2-8 1.2-11.1.5-11.4-.8-11.3-2-10.9-3.4-10.4-4.5-9.6-5.5-8.6-6.6-7.5-7.4-6.1-7.9-4.7-8.4-3.3-8.9-1.8-9.2-.2-9.3 1.3-9.2 2.8-9 4.3-8.7 4.8-7.2 5.9-6.9 6.7-6.1 7.7-5.8 8.4-5 9-4.3 9.6-3.5 9.9-2.6 10.3-1.7 10.1-.8 10 .1 9.9 1.1 9.4 2 8.7 2.9 7.8 3.8 6.9 4.5 3.9 3.3 3.5 3.6 3 4 2.5 4.1 1.9 4.4 1.4 4.6 .9 4.8 .3 5-.6 8.9-2.1 9.7-3.1 9.9-10.9 29.3-2.7 9.7-1.6 9-.7 10.7 .7 10.3 2.1 10.1 3.4 9.8 5.8 10.6 7.3 9.5 8.9 8.3 10.2 6.9 11.6 5.5 12.9 4.2 14.1 2.7 15.1 1.3 11.1 0 11.2-.8 11.6-1.5 11.5-2.2 11.5-2.9 11.3-3.6 10.9-4.2 10.7-4.8 10.2-5.4 9.6-5.8 9.1-6.4 8.6-6.9 7.9-7.2 7.3-7.8 6.6-8 5.6-8.2 4.9-8.5 4.1-8.5 3.2-8.7 2.5-9 1.7-9.1 .8-9-.1-8.9-.9-9.1-1.6-8.8-2.6-8.9-3.3-8.6-4.1-8.4-5-8.4-5.6-7.8-6.5-7.9-7.1-7.3-9.7-8.4-10.7-7.9-11.5-7.1-12.2-6.4-12.9-5.5-13.7-4.8-14.1-3.7-14.2-2.8-14.6-1.8-14.3-.7-14.3.2-14.2 1.3-13.7 2.2-13 3.3-12.3 4.2-11.2 5-8.7 4.9-8.1 5.5-7.1 6-6.2 6.5-5.1 6.8-4.2 7.2-3.1 7.5-2.2 7.9-.9 6.7-.2 6.9 .5 7.1 1.3 7.4 3.7 13.3 9.8 26.6 2.6 10.5 .5 4.8-.1 4.5-.6 4.2-1.2 4-2.2 4.4-2.9 4-3.8 3.6-4.5 3.2-5.1 2.8-5.8 2.2-6.3 1.6-6.6 1-10.4.5-10.8-.9-10.8-2.2-10.5-3.5-9.8-4.6-9.1-5.7-8-6.6-6.8-7.5-5.5-7.9-4-8.3-2.6-8.7-1.2-8.9 .3-9 1.9-8.9 3.3-8.7 4.7-8.3 5.3-6.8 6.1-6.4 7-5.7 7.7-5.2 8.4-4.4 9-3.8 9.6-3 9.6-2.1 9.9-1.2 9.9-.3 9.7.7 9.2 1.5 8.8 2.5 7.8 3.2 7.1 4.1 6.1 4.7 6.1 7 2.4 3.8 1.9 3.9 1.5 4.2 1 4.4 .6 9.3-1 8.3-2.2 9.2-3.3 9.5-11.3 29.1-2.9 9.8-1.9 9.2-1.1 10.9 .2 10.9 1.6 10.7 2.9 10.5 4.8 11.6 6.4 10.4 7.7 9.2 8.9 7.7 10.1 6.3 11.5 5.1 12.8 3.6 14 2.4 10 .8 10.4.2 10.8-.5 10.9-1.1 11-1.7 11-2.3 11-2.9 11-3.5 10.6-4 10.3-4.6 9.9-4.9 9.6-5.5 8.9-5.7 8.7-6.3 8.1-6.6 7.6-7.1 6.8-7.1 6.2-7.4 5.6-7.7 5-7.9 4.4-8.1 3.6-8.2 3-8.3 2.3-8.6 1.6-8.6 .9-8.8 .2-8.7-.6-8.4-1.2-8.6-1.9-8.3-2.7-8.3-3.3-8.3-6.4-12.3-8.1-11.9-9.7-11.5-11-10.4-12.3-9.8-13.6-8.8-14.5-7.8-15.5-6.6-16.5-5.6-16.9-4.3-17-2.9-17.4-1.6-17.4-.3-17.1 1.1-16.6 2.4-15.6 3.8-11.6 3.8-10.5 4.3-9.8 5-9.1 5.8-8.1 6.2-7.2 6.9-6.1 7.3-5 7.7-4.2 9-2.7 9.4-1.2 9.6 .2 10 1.4 9.3 2.5 9.7 3.2 9.2 7.6 19.5 2.7 8.8 1.4 9-.1 4.1-.7 3.7-1.9 5.1-3.1 4.5-4.1 3.9-5.3 3.4-6.3 2.5-7 1.8-7.5.9-8 0-11.1-1.5-11-3-10.3-4.5-9.6-5.8-8.2-6.9-6.8-7.8-5.2-8.6-3.5-9.2-1.6-9.2 .2-9.5 1.9-9.3 3.7-8.9 5.4-8.6 6.9-7.8 8.4-7 9.6-6.1 8-3.9 8.4-3.1 8.8-2.4 8.9-1.5 8.9-.7 8.9.1 8.6.9 8.1 1.8 7.5 2.5 6.9 3.2 6 3.9 5.1 4.6 4.2 5.1 3.1 5.6 2.1 6.1 1 6.4 .1 4.9-.4 5.3-2.6 11.4-3.9 10.9-12.8 31.1-3.4 10.3-2.5 10-1.7 10.2-1.1 10.7-.5 31-.5 8.6-1.5 8.5-2.5 6.8-3.2 5-4.2 4.1-5.3 3.3-6.4 2.6-7.6 1.8-8.6.9-9.4.1-10.2-.7-10.8-1.6-11.2-2.4-11.2-3.2-11.1-3.9-11-4.6-10.6-5.2-10.2-5.8-9.8-6.3-9-6.7-8.5-7.2-7.9-7.6-7.2-7.9-6.5-8.4-5.7-8.5-4.9-8.7-4.1-8.9-3.3-8.9-2.5-9.1-1.7-9.1-.8-9.4-.1-9.4 .8-9.2 1.6-9 2.4-9.1 3.3-9 4.1-8.7 4.9-8.6 5.5-8.1 6.2-7.9 7.1-7.6 7.7-7.3 8.1-6.6 10.4-7.4 10.8-6.5 11.7-6.1 12.3-5.3 12.6-4.5 13.4-3.8 13.5-2.9 13.4-2 13.7-1.1 13.8-.3 13.3.6 13 1.5 12.6 2.4 12.4 3.3 11.2 4 10.6 4.8 8.2 4.7 7.5 5.1 6.6 5.5 5.9 5.9 5 6.3 4.1 6.7 3.3 7 2.3 7.2 1.2 6.2 .7 6.4 0 6.5-.6 6.9-2.4 12.6-6.9 25.4-1.7 10.3-.1 4.8 .4 4.4 .8 4.1 1.4 3.8 2.2 4.1 2.9 3.7 3.5 3.4 4.2 3 4.7 2.6 5.3 2 5.6 1.5 6 1 10.5.4 10.8-1.1 10.6-2.7 10.1-4 9.2-5.3 8.1-6.5 6.7-7.3 5.2-8.1 3.5-8.5 1.7-8.8 .1-8.8-1.7-8.9-3.4-8.6-4.9-8.1-6.5-7.6-7.8-6.7-7-4.6-7.7-4.1-8.2-3.3-8.4-2.5-8.8-1.7-8.8-.8-8.7 0-8.5.9-7.9 1.7-7.4 2.6-6.6 3.3-5.8 4-4.9 4.6-3.8 5.2-2.8 5.7-1.7 6.1-.5 5.1 0 5.4 .7 5.7 1.4 6 3.7 11.3 12.4 29.5 5.5 15.7 4.3 16.9 5.7 31.7 1.8 6.8 2.2 5.6 2.7 4.8 3.1 4.1 3.7 3.4 4.3 2.9 5 2.4 5.6 1.8 6.2 1.2 6.8.6 8.6-.1 9.1-.8 9.4-1.6 9.6-2.4 9.7-3.1 9.6-3.7 9.4-4.4 9-4.9 8.6-5.5 8-5.8 7.5-6.2 7-6.6 6.5-7.1 5.7-7.2 5.2-7.7 4.5-7.8 3.7-7.8 2.9-7.9 2.2-8 1.6-8.1 .8-8 .2-8.1-.6-8.2-1.3-8-1.9-7.9-2.7-7.8-3.4-7.8-4-7.5-4.7-7.3-5.2-6.9-6-6.9-6.5-6.4-8.8-7.5-9.4-6.8-10.4-6.3-10.9-5.7-11.5-4.8-11.8-4.1-12.3-3.4-12.5-2.4-12.6-1.7-12.8-.7-12.7.1-12.1 1.1-11.7 1.8-11.4 2.8-10.6 3.6-9.9 4.4-7.2 4-6.5 4.4-6 4.9-5.1 5.2-4.5 5.6-3.6 5.8-3 6.2-2.1 6.6-1.2 5.5-.6 5.6 .1 12.2 1.7 11.5 5.3 25.4 1.2 11.8-.2 5.8-.8 5.5-1.4 5.1-2 4.9-3.3 5.3-4.1 4.8-4.9 4.4-5.7 3.8-6.4 3.1-7 2.6-7.5 1.8-7.9 1.2-11 .3-11.2-.9-11-2.3-10.7-3.5-10.1-4.6-9.2-5.7-8.2-6.7-7-7.4-5.6-8-4.3-8.5-2.7-8.9-1.3-9 .3-9 1.8-9 3.3-8.8 4.8-8.5 5.1-6.8 6.2-6.3 6.9-5.9 7.8-5.2 8.4-4.5 9-3.8 9.4-3 9.7-2.2 9.9-1.3 9.9-.3 9.6.5 9.3 1.5 8.7 2.3 8 3.2 7.2 4 6.3 4.7 6.4 6.9 2.5 3.8 2 4 1.6 4.2 1 4.4 .8 9.4-.9 8.4-2.1 9.3-3.2 9.5-10.8 28.7-2.8 9.6-1.8 9-1 10.7 .4 10.5 1.6 10.2 2.9 10.1 4.9 11.1 6.4 10 7.7 8.8 9 7.6 10.3 6.2 11.4 4.9 12.7 3.6 14 2.3 9.8.8 10.2.1 10.4-.4 10.6-1.1 10.7-1.7 10.8-2.2 10.7-2.9 10.5-3.3 10.2-3.9 10.2-4.5 9.6-4.9 9.2-5.2 8.7-5.7 8.5-6.1 7.8-6.6 7.2-6.7 6.6-6.9 6-7.2 5.4-7.5 4.9-7.8 4.1-7.8 3.6-8 2.8-8.1 2.2-8.3 1.5-8.3 .8-8.6 .2-8.4-.6-8.2-1.2-8.3-2-8.4-2.6-8-3.3-8.1-6.4-12.1-8.2-11.9-9.5-11-11-10.4-12.3-9.6-13.2-8.4-14.2-7.4-15.4-6.5-16-5.3-16.3-4-16.9-2.8-17.2-1.4-17.1-.1-16.4 1.2-16.2 2.6-15.3 3.8-11 3.8-10 4.3-9.2 4.9-8.7 5.6-7.6 6.1-6.8 6.6-5.6 7-4.7 7.4-4 8.8-2.5 9.1-1.2 9.3 .3 9.8 1.3 9 2.5 9.6 3.1 9 7.5 19.6 2.7 9.1 1.4 9.3-.2 4.2-.7 3.9-2 5.3-3.3 4.8-4.4 4.2-5.4 3.4-6.4 2.8-7.3 1.9-7.8 1-8.3.2-10.8-1.1-10.7-2.6-10.4-4-9.7-5.1-8.6-6.3-7.4-7.2-5.9-7.9-4.5-8.5-2.9-8.8-1.2-8.9 .4-9.2 2-8.9 3.5-8.7 5.2-8.4 6.5-7.7 7.9-7.1 7.4-5.1 8.2-4.6 8.8-3.7 9.2-3 9.6-2.1 9.6-1.2 9.6-.2 9.4.7 8.8 1.6 8.4 2.4 7.6 3.4 6.7 4.1 5.7 4.8 4.6 5.4 3.4 5.9 2.3 6.5 1 5.4 .3 5.6-.5 6-1.1 6.3-3.9 12.5-11.4 28.1-4.7 13.6-1.9 7.8-1.5 7.5-.9 7.6-.4 7.7 .5 14.3 2.1 15.4 4.3 19.2 9.7 34.5 2.8 11.6 1.7 10.5 0 4-.5 3.4-1.6 4-2.9 3.3-4.2 2.6-5.6 2-7.3 1.5-8.8.8-10.1.2-11.1-.5-15.9-1.6-16.6-2.7-16.8-3.7-16.7-4.7-16.4-5.6-15.8-6.3-15.2-7.1-14.6-7.8-13.8-8.5-12.9-9.1-12.1-9.7-11-10.2-10.2-10.8-9-10.9-8-11.6-6.8-11.8-5.8-12.2-4.5-12.2-3.3-12.3-2.2-12.5-.9-12.4 .3-12.7 1.4-12.6 2.7-12.2 3.9-12.3 5-11.8 6.3-11.7 7.1-11 8.3-10.7 9.4-10.4 10.5-9.9 11.5-9.4 14-9.7 14.5-8.6 15.9-7.9 16.7-6.9 17.3-5.8 17.6-4.7 18.5-3.6 18.4-2.4 18.9-1.1 18.3 0 18.3 1.3 17.4 2.5 16.8 3.6 16.5 4.9 15 5.8 14.1 6.9 10.4 6.2 9.7 7 8.5 7.4 7.4 7.8 6.4 8.3 5.1 8.6 3.9 8.9 2.8 9.1 1.3 7.7 .5 7.6-.2 7.7-1.1 8-2.1 8.5-3 8.9-11.3 25.5-2.7 7.4-.9 4.1-.1 3.6 .5 3 1.3 2.6 2.6 2.5 3.6 1.7 4.5.8 5-.2 5.3-1.1 5.3-1.9 5-2.7 4.6-3.4 3.7-3.6 3.2-4 2.5-4.3 1.8-4.6 1.1-4.8 .4-4.8-.3-4.9-1.1-4.8-2.4-6.1-3.7-5.9-4.6-5.3-5.7-4.7-6.5-4.1-7.1-3.3-7.6-2.4-7.9-1.4-8-.4-7.6.7-7.2 1.6-6.4 2.7-5.5 3.5-4.4 4.2-3.3 5-2 5.5-.8 5.7 .4 6.2 1.4 6.5 2.5 7.2 3.6 7.7 4.9 8.9 15.3 24 10.8 14.4 4.7 5.2 4.7 4.3 4.8 3.5 5.1 2.9 5.3 2.1 5.6 1.3 9.5.7 10.1-1.1 10.3-3 9.9-4.7 9.2-6.2 8.1-7.4 6.9-8.5 5.3-9.2 3.5-9.4 1.9-9.5 .3-9.8-1.3-9.7-3-9.5-4.4-9.1-6-8.7-7.3-7.9-5.3-4.6-5.9-4.3-6.2-3.9-6.7-3.4-6.8-2.9-7.2-2.5-7.3-1.9-7.4-1.3-7.4-.8-7.3-.2-7.2.4-7 1-6.5 1.5-6.3 2.1-5.7 2.7-5.2 3.1-6.3 5.2-5.1 6.1-3.7 6.8-2.5 7.8-1.2 7.6-.4 8.5 .5 9.4 2.9 32.9 0 11.5-1 10.7-2.4 12.3-3.9 11.5-5.2 10.8-6.5 9.9-4.3 5.1-4.6 4.8-5 4.4-5.4 4-5.7 3.6-6.1 3.2-13.1 5.3-14.5 3.7-15.7 2.1-16.6.3-16.9-1.4-10.8-1.7-10.7-2.4-10.7-3-10.4-3.6-10-4.2-9.8-4.7-9.3-5.2-8.9-5.7-8.4-6.1-7.7-6.6-7.1-6.8-6.6-7.3-5.9-7.6-5.2-7.8-4.4-8-3.7-8.2-2.9-8.3-2.1-8.4-1.4-8.5-.6-8.6 .1-8.5 1-8.4 1.7-8.4 2.5-8.5 3.2-8.1 4-8 4.8-7.9 5.3-7.4 6.1-7.2 6.7-6.9 7.4-6.6 8-6.2 10.3-6.8 11-6.2 11.5-5.4 12-4.7 12.4-3.9 12.9-3.1 13.1-2.3 12.9-1.4 13.1-.5 13.1.3 12.9 1.2 12.3 2.1 11.7 2.9 11.4 3.8 10.5 4.6 9.5 5.3 7.1 4.8 6.5 5.4 5.6 5.7 5 6.1 4 6.3 3.2 6.7 2.3 6.9 1.4 7.2 .5 6.1-.1 6.4-.7 6.5-1.2 6.7-3.6 12.3-9.2 25.2-2.7 10.5-.6 5.1-.1 4.6 .5 4.4 1.1 4.2 2 4.7 2.8 4.3 3.6 3.9 4.3 3.6 5 3.1 5.7 2.6 6.2 2 6.7 1.5 10.3 1.1 10.8-.1 10.9-1.4 10.9-2.7 10.3-3.8 9.9-4.9 9-5.9 7.9-6.7 6.7-7.3 5.6-7.9 4.2-8.5 2.8-8.6 1.5-9 0-9-1.5-8.9-2.8-8.8-3.9-7.9-5-7.5-6.1-7.1-7.1-6.6-8.1-5.9-8.8-5.2-9.4-4.3-10.1-3.6-10.5-2.6-10.7-1.6-10.7-.7-10.5.4-10.3 1.5-9.5 2.4-8.8 3.3-7.9 4.3-4.7 3.3-4.2 3.7-3.7 4-3 4.3-2.4 4.5-1.9 4.9-1.2 5-.6 5.3 .3 9.4 2 10.3 3.4 10.6 8.4 21.6 3.3 9.6 2.7 10.4 1.6 9.8 .3 11.5-1.5 11.2-3.1 10.9-4.9 10.2-3.5 5.6-4 5.2-4.6 4.9-4.9 4.4-5.3 4.1-5.9 3.6-6.2 3.3-6.6 2.8-7.1 2.5-7.4 1.9-15.9 2.7-17.1.7-17.6-1-10.7-1.5-10.9-2.1-10.7-2.8-10.7-3.4-10.3-3.9-10.1-4.5-9.7-5-9.2-5.4-8.7-5.9-8.1-6.3-7.7-6.8-7.1-7-6.5-7.5-5.6-7.6-5.1-7.9-4.3-8.2-3.6-8.3-2.9-8.4-2-8.5-1.3-8.4-.6-8.7 .2-8.6 .9-8.3 1.7-8.5 2.5-8.4 3.2-8.2 3.9-8 4.7-7.9 5.4-7.8 6-7.2 6.6-7 7.2-6.7 10.2-8 10.7-7.1 11.4-6.4 12.5-5.8 12.9-5 13.4-4 13.5-3.2 14-2.3 14.3-1.3 14-.3 13.9.6 13.3 1.6 12.8 2.5 12.5 3.5 11.7 4.4 10.7 5.2 8.2 4.9 7.4 5.4 6.7 6 5.7 6.3 4.7 6.7 3.9 7 2.8 7.3 1.9 7.7 .8 6.4 .1 6.8-.6 6.9-1.3 7.3-3.7 12.9-9.5 26-2.6 10.5-.6 4.8 0 4.6 .6 4.2 1.2 4.1 2 4.4 2.9 4.1 3.6 3.7 4.4 3.3 5 2.8 5.7 2.3 6.1 1.8 6.6 1.2 10.3.7 10.8-.6 10.7-1.9 10.6-3.2 9.9-4.3 9.4-5.4 8.3-6.3 7.2-7.1 5.9-7.7 4.5-8.1 3.2-8.6 1.8-8.8 .2-8.9-1.1-8.9-2.6-8.7-4-8.4-4.8-7.2-5.8-6.7-6.7-6.3-7.5-5.6-8.3-5-9-4.2-9.5-3.5-9.8-2.6-10.2-1.6-10-.8-9.9.3-9.7 1.1-9.2 2.2-8.5 2.9-7.6 3.9-6.7 4.6-3.7 3.3-3.2 3.6-2.8 3.9-2.3 4.1-1.7 4.3-1.2 4.4-.8 4.7-.2 4.9 .7 8.6 2.2 9.6 3.3 9.9 11.6 30.2 2.9 10.1 1.8 9.6 .9 11.4-.7 11.1-2.2 11.1-3.7 10.7-2.7 5.8-3.1 5.5-3.6 5.2-3.9 4.9-4.3 4.5-4.6 4.1-4.9 3.8-5.4 3.4-11.8 5.7-13.2 4.3-14.7 2.7-15.7 1.2-9.6 0-9.7-.6-9.9-1.1-10-1.6-20-4.7-19.6-6.7-18.5-8.4-8.8-4.7-8.5-5.3-8.1-5.5-7.6-5.8-7.3-6.2-6.8-6.6-6.1-6.7-5.6-6.9-5.1-7.1-4.5-7.2-4-7.4-3.3-7.5-2.8-7.7-2.2-7.8-1.6-7.7-1-7.9-.4-8 .2-7.9 .9-8 1.4-7.7 2.1-7.8 2.5-7.4 5.8-12.7 7.4-12.1 9.1-11.7 10.4-10.7 11.9-10.1 13.1-9.1 14.3-8.1 15.2-7 16.3-6 16.8-4.6 17.1-3.2 17.3-1.9 17.5-.5 16.8.8 16.6 2.2 15.8 3.6 11.4 3.6 10.4 4.2 9.9 4.9 9 5.5 8.3 6.3 7.1 6.6 6.1 7.1 5 7.5 4.3 9 2.8 9.2 1.3 9.6-.1 10.1-1.3 9.1-2.5 9.8-3.1 9.2-7.7 19.9-2.7 9.1-1 4.9-.3 4.5 .2 4.2 .7 3.9 2.2 5.3 3.3 4.7 4.6 4.2 5.6 3.4 6.7 2.6 7.4 1.8 8 .9 8.5-.1 11.1-1.5 10.8-2.9 10.3-4.4 9.6-5.6 8.3-6.6 7.1-7.6 5.5-8.3 3.9-8.8 2.3-9 .5-9.2-1.1-9.3-2.9-9-4.4-8.7-6-8.2-7.5-7.5-8.7-6.6-7.6-4.5-8.2-3.8-8.7-3.2-8.9-2.3-9.2-1.5-9.2-.7-9 .2-8.9 1-8.3 1.9-7.7 2.6-6.9 3.4-6.2 4.1-5.1 4.7-4.2 5.2-3.2 5.8-2.1 6.2-.9 5.6-.1 5.8 .6 6.1 1.3 6.6 3.9 12.2 10.6 25.6 4.2 11.9 3.5 13.1 2 12.8 .5 13.2-.7 14.1-1.8 13.4-4.5 26.3-1.1 9.3-.1 8 1 6.5 1.8 4.4 2.6 3.8 3.5 3.2 4.5 2.6 5.6 2.2 6.5 1.5 7.6 1 8.3.5 13.1-.4 14.1-1.6 14.7-2.6 14.8-3.7 14.8-4.7 14.4-5.6 14.1-6.4 13.4-7.1 12.5-7.7 11.7-8.3 10.9-8.9 10.1-9.5 9.2-9.9 8-10.2 7.1-10.7 6.1-11 4.9-11.1 3.7-11.1 2.7-11.6 1.6-11.3 .4-11.4-.6-11.6-1.8-11.3-2.9-11.2-4-11.1-5-10.6-6.2-10.5-7-9.9-8-9.6-9-9.2-10-8.8-10.8-8.2-12.5-8.1-13.9-7.6-14.5-6.6-15.2-5.7-15.5-4.7-15.8-3.6-16.3-2.7-16.3-1.6-16.3-.5-16.4.6-16.1 1.7-15.2 2.7-14.4 3.8-14 4.8-12.8 5.8-11.8 6.6-7.8 5.4-7.2 5.9-6.3 6.2-5.5 6.5-4.7 6.9-3.8 7.1-2.9 7.3-2 7.5-1.1 7-.3 7.1 .4 7.1 1.1 7.6 3.5 13.6 9.2 26 2.2 10 0 5.2-.9 4.6-1.9 4-2.8 3.5-4.6 3.4-5.8 2.4-6.8 1.4-7.4.2-7.5-1-7.6-2-7.3-3.1-6.7-3.9-5.6-4.6-4.9-5.1-3.8-5.7-2.9-5.9-1.8-6.3-.7-6.4 .4-6.5 1.5-6.4 2.9-6.9 4.3-6.6 5.4-6 6.4-5.3 7.4-4.7 8.1-3.7 8.6-2.7 8.8-1.7 9.1-.6 8.9.5 8.3 1.7 7.5 2.8 6.6 3.7 5.3 4.7 4.1 5.4 2.7 6 1.3 6.5 0 7-1.2 7.6-2.6 8.4-7 15.8-25.4 49.2-7.3 11.3-3.7 4.3-3.9 3.7-4.3 3.1-5.4 3-4.8 2-5.3 1.4-9.6 1-10.5-.5-10.9-2.1-11.2-3.7-10.8-5.1-10.3-6.3-9.5-7.4-8.3-8.3-6.9-8.7-5.6-9.1-4.3-9.7-3-10-1.5-10.2-.1-10.2 1.3-10.2 2.8-9.9 3.8-9 5.1-8.9 6.3-8.4 7.2-7.8 8.2-7.2 9.2-6.5 9.9-5.7 10.8-4.9 11.4-4 11.6-3 11.8-2 12.1-.9 11.8.2 11.2 1.3 10.8 2.4 9.9 3.4 6.6 3 6 3.5 5.3 3.9 4.8 4.3 4.1 4.8 3.4 5 2.7 5.4 2.1 5.8 2 10.1 .2 11.3-1.2 11.5-5.1 32.5-.7 10.3 .4 9.5 1.8 10.8 3.2 10.2 4.8 9.4 6.2 8.6 4.4 4.8 4.8 4.4 5.3 4.1 5.6 3.6 6.1 3.3 6.4 2.8 6.8 2.4 7 2 15 2.6 15.9.9 16.3-1 16.5-2.8 9.7-2.6 9.6-3.1 9.4-3.8 8.9-4.2 8.6-4.8 8.1-5.3 7.6-5.7 7.2-6.2 6.5-6.5 5.8-6.8 5.1-7.1 4.5-7.4 3.6-7.5 3-7.8 2.2-7.9 1.4-8 .7-7.9-.1-8.2-.9-8-1.7-7.7-2.4-7.8-3.2-7.5-3.8-7.4-4.7-7.2-5.3-7-5.9-6.5-6.7-6.5-7.2-5.8-7.6-5.5-8.2-5-8.6-4.5-9.3-4.2-9.5-3.6-9.8-3-10.3-2.5-10.4-1.9-10.2-1.2-10.5-.6-10.2 0-10.2.7-10.1 1.4-9.5 1.9-9.1 2.5-8.7 3.1-8.1 3.7-7.5 4.2-6.7 4.7-6.1 5.2-4.3 4.4-3.7 4.7-3.2 4.9-2.6 5.1-2.1 5.3-1.5 5.4-.9 5.7-.4 5.9 .6 10.1 2.2 10.9 3.1 10.5 8.3 23.8 3 12.1 .9 6.2 .2 5.9-.5 5.7-1.1 5.4-2.3 6.3-3.3 6-4.3 5.6-5.3 5.1-6.1 4.5-7 3.9-7.7 3.3-8.4 2.5-12.2 2.3-12.9.9-13.2-.6-13.4-2-13.3-3.3-12.6-4.7-12.2-5.9-11.1-6.9-9.9-8-8.7-8.6-7.3-9.4-5.9-10-4.3-10.3-2.8-10.7-1.1-10.9 .6-10.8 2.2-10.8 3.8-10.5 5.4-10 6.9-9.7 8.3-8.9 9.6-8.2 10.7-7.3 11.8-6.3 12.7-5.2 13.5-4.1 13.7-2.8 13.9-1.5 13.8-.2 13.6 1.2 13 2.5 11.9 3.8 8.3 3.6 7.5 4.2 6.7 4.8 5.7 5.3 4.8 5.7 4 6.3 2.9 6.5 1.9 7 .8 5.9 .2 6.1-.5 6.4-1.1 6.8-3.4 12.7-11.1 32.1-2.2 9.5-1.1 8.6 .1 10 1.8 9.5 3.5 9 5 8.3 3.9 4.7 4.4 4.5 4.9 4.1 5.4 3.7 5.9 3.3 6.3 2.9 6.8 2.5 7 2.1 7.5 1.6 7.6 1.2 16 .8 16.7-1 16.6-2.8 9.8-2.6 9.6-3.1 9.5-3.8 9-4.3 8.7-4.8 8.2-5.3 7.7-5.8 7.2-6.2 6.6-6.6 5.9-6.9 5.2-7.2 4.4-7.3 3.7-7.5 3.1-7.9 2.3-8 1.5-8.1 .7-8-.1-8-.8-8.1-1.6-7.9-2.4-7.9-3.2-7.6-3.8-7.5-4.7-7.4-5.4-7.1-5.9-6.6-6.5-6.3-7.2-6-7.7-5.6-8.3-5.1-8.7-4.7-9.4-4.2-9.7-3.7-10-3.1-10-2.5-10.5-2-10.5-1.3-10.6-.6-10.5-.1-10.3.7-10 1.3-9.7 1.9-9.4 2.5-8.9 3.1-8.3 3.7-7.6 4.3-6.9 4.7-6.3 5.3-4.4 4.5-3.8 4.7-3.2 4.9-2.8 5.2-2.1 5.4-1.5 5.5-1 5.7-.4 6 .6 10.2 2.2 11.1 3.1 10.5 8.4 23.8 3 11.9 .9 6.2 .2 5.8-.4 5.6-1.1 5.3-2.2 6.3-3.3 5.9-4.3 5.5-5.1 5-6.1 4.4-6.8 3.9-7.6 3.2-8.2 2.5-12 2.2-12.7.9-13.2-.6-13.3-1.9-13-3.4-12.6-4.6-12-5.8-11-6.9-9.9-7.9-8.5-8.6-7.2-9.3-5.8-9.9-4.2-10.2-2.7-10.5-1-10.9 .6-10.7 2.2-10.6 3.9-10.6 5.3-9.9 7-9.5 8.4-8.9 9.5-8 10.7-7.2 11.6-6.1 12.6-5.2 13.3-4 13.8-2.7 13.7-1.4 13.8-.1 13.3 1.3 12.8 2.6 11.7 3.7 8 3.6 7.3 4.2 6.6 4.8 5.6 5.2 4.7 5.7 3.8 6.2 2.8 6.4 1.9 6.9 .7 5.9 .2 6-.5 6.4-1.1 6.7-3.5 12.7-11.1 32.1-2.3 9.6-1.1 8.7 .2 10.2 1.8 9.6 3.5 9.2 5.1 8.4 3.9 4.8 4.5 4.5 5 4.2 5.5 3.8 5.9 3.4 6.4 2.9 6.8 2.5 7.1 2.1 7.5 1.7 7.8 1.1 16.1.9 16.8-1 16.9-2.9 9.9-2.6 9.8-3.2 9.6-3.8 9.1-4.3 8.7-4.9 8.3-5.3 7.8-5.8 7.4-6.4 6.7-6.6 5.9-6.9 5.3-7.3 4.5-7.4 3.9-7.8 3.1-7.8 2.3-8.1 1.6-8.2 .7-8.1 0-8.1-.9-8.2-1.6-8-2.4-8-3.1-7.8-4-7.6-4.5-7.2-5.2-7-6-6.7-6.6-6.5-7.2-6.1-7.8-5.6-8.4-5.3-8.8-4.7-9.1-4.3-9.9-3.8-10.1-3.2-10.2-2.6-10.7-2-10.6-1.4-10.8-.7-10.6-.1-10.3.6-10.2 1.2-9.9 1.9-9.5 2.5-9.1 3.2-8.6 3.7-7.8 4.3-7.1 4.8-6.2 5.1-4.5 4.6-4 4.8-3.3 4.9-2.9 5.3-2.2 5.4-1.6 5.7-1 5.7-.4 6.1 .5 10.3 2.2 11.2 3.2 10.6 8.4 23.9 3 11.9 .9 6.1 .2 5.7-.5 5.5-1 5.2-2.2 6.1-3.3 5.9-4.2 5.3-5 4.9-6 4.3-6.7 3.8-7.4 3.1-8.1 2.5-11.9 2.2-12.6.9-13-.6-13.1-2-12.9-3.3-12.4-4.6-11.7-5.8-10.9-6.8-9.6-7.7-8.4-8.5-7.1-9.2-5.7-9.8-4.1-10.1-2.6-10.6-1-10.6 .7-10.6 2.2-10.4 4-10.5 5.3-9.7 6.9-9.4 8.3-8.7 9.4-7.9 10.5-7 11.7-6.1 12.5-5.1 13.1-3.8 13.6-2.7 13.7-1.3 13.5 0 13.1 1.3 12.5 2.5 11.6 3.9 7.9 3.6 7.1 4.1 6.4 4.8 5.4 5.1 4.6 5.6 3.7 6.1 2.8 6.5 1.7 6.8 .8 5.8 .1 6-.5 6.3-1.2 6.7-3.4 12.5-11.2 32.2-2.3 9.7-1.1 9 .1 10.3 1.9 9.8 3.5 9.3 5.3 8.7 4 4.9 4.5 4.6 5.1 4.3 5.5 3.8 6 3.4 6.5 3 6.9 2.6 7.2 2 7.6 1.7 7.9 1.1 16.4.9 17-1 17.2-3 9.9-2.6 10-3.3 9.6-3.8 9.4-4.5 8.9-4.9 8.4-5.4 7.9-5.9 7.3-6.2 6.8-6.8 6-7 5.4-7.3 4.6-7.5 4-7.9 3.1-7.9 2.4-8 1.6-8.3 .8-8.3 .1-8.2-.8-8-1.6-8.2-2.3-8.2-3.2-7.8-3.9-7.8-4.5-7.3-5.3-7.2-6-6.9-6.6-6.6-7.3-6.2-8-5.8-8.1-5.2-8.9-4.9-9.4-4.4-10-3.9-10.2-3.3-10.5-2.7-10.8-2.1-10.9-1.5-11-.8-10.9-.1-10.4.6-10.4 1.2-10.1 1.9-9.8 2.6-9.1 3-8.5 3.7-8 4.3-7.3 4.8-6.5 5.3-4.6 4.6-4.1 4.9-3.4 5-3 5.4-2.2 5.5-1.7 5.7-1.1 5.8-.4 6.2 .5 10.4 2.2 11.3 3.2 10.7 8.3 23.9 3 11.7 .9 6 .2 5.6-.4 5.4-1 5.1-2.2 6-3.1 5.7-4.1 5.2-4.9 4.8-5.8 4.2-6.5 3.7-7.3 3.1-7.8 2.4-11.7 2.2-12.3.9-12.8-.6-12.9-1.9-12.6-3.2-12.3-4.5-11.6-5.7-10.6-6.7-9.6-7.7-8.3-8.4-7-9.1-5.5-9.6-4.1-10-2.5-10.4-.9-10.5 .7-10.3 2.2-10.3 3.9-10.2 5.4-9.8 6.8-9.2 8.1-8.6 9.3-7.7 10.6-6.9 11.5-6 12.4-5 12.9-3.7 13.3-2.6 13.7-1.2 13.3 0 13 1.4 12.4 2.7 11.2 3.8 7.7 3.6 6.9 4.1 6.1 4.7 5.3 5.1 4.4 5.5 3.6 6 2.6 6.4 1.7 6.7 .7 5.7 .1 5.9-.6 6.2-1.1 6.6-3.5 12.5-11.3 32.3-2.3 9.9-1.2 9.2 .2 10.6 1.9 10.1 3.6 9.5 5.4 8.9 4 5 4.6 4.7 5.2 4.3 5.6 3.9 6.1 3.4 6.5 3.1 7 2.6 7.3 2.1 7.7 1.7 8 1.2 8.2.6 8.5.2 17.4-1.1 17.5-3 10.2-2.7 10-3.3 9.8-3.8 9.5-4.5 9-5 8.6-5.5 8-6 7.6-6.5 6.9-6.8 6.2-7.1 5.5-7.5 4.7-7.6 4-7.8 3.3-8 2.4-8.2 1.7-8.4 .9-8.2 .1-8.4-.8-8.2-1.5-8.3-2.3-8.1-3-8-3.9-8-4.6-7.5-5.3-7.3-6.1-7.1-6.7-6.8-7.2-6.1-8-6-8.3-5.4-8.7-4.9-9.5-4.5-10.2-4.2-10.5-3.4-10.7-2.9-10.7-2.1-11.1-1.6-11-.9-11.1-.2-10.8.5-10.7 1.2-10.5 1.8-10.1 2.5-9.3 3.1-8.8 3.7-8.4 4.4-7.3 4.8-6.7 5.3-4.8 4.5-4.2 5-3.7 5.1-3.1 5.5-2.4 5.6-1.8 5.8-1.1 6-.6 6.2 .5 10.7 2.2 11.6 3.2 10.8 8.5 24 2.9 11.5 .9 5.8 .2 5.6-.4 5.2-1 5-2.1 5.8-3 5.5-3.9 5.1-4.8 4.6-5.7 4.1-6.4 3.6-7 3-7.7 2.4-11.5 2.2-12.1.8-12.5-.6-12.6-1.9-12.5-3.2-12-4.4-11.2-5.6-10.5-6.7-9.2-7.4-8.1-8.3-6.8-8.9-5.4-9.5-3.9-9.8-2.4-10.2-.8-10.3 .7-10.3 2.3-10.1 3.9-9.9 5.3-9.6 6.9-9.1 8.1-8.3 9.3-7.7 10.4-6.7 11.3-5.8 12.2-4.7 12.8-3.7 13-2.4 13.3-1.1 13.2.1 12.6 1.5 12 2.7 11.2 3.9 7.4 3.6 6.6 4.1 5.9 4.6 5 5 4.2 5.5 3.4 5.9 2.5 6.2 1.6 6.6 .6 5.6 0 5.8-.6 6.1-1.1 6.5-3.5 12.3-8.4 23.1-3 9.6-2.5 10.1-1.1 9.4 .1 10.9 2 10.5 3.8 9.8 5.5 9.2 4.1 5.2 4.7 4.7 5.2 4.4 5.7 4 6.2 3.5 6.6 3.1 7.1 2.6 7.5 2.2 7.8 1.7 8.2 1.2 8.4.7 8.6.2 17.8-1.2 17.9-3.1 10.5-2.8 10.2-3.3 9.9-4 9.7-4.5 9.4-5.2 8.7-5.6 8.2-6 7.6-6.5 7-6.8 6.3-7.2 5.7-7.6 4.9-7.7 4.2-8 3.3-8.2 2.6-8.3 1.9-8.7 .9-8.3 .2-8.6-.7-8.4-1.4-8.3-2.2-8.3-3.1-8.2-3.8-7.9-4.5-7.8-5.4-7.6-5.9-7-6.8-7-7.3-6.4-7.9-6.1-8.4-5.6-8.9-5.1-9.7-4.8-10.5-4.3-10.7-3.7-11-3-11.1-2.3-11.4-1.7-11.3-1-11.2-.3-11.1.4-11.1 1.2-10.5 1.7-10.5 2.5-9.8 3.2-9.1 3.7-8.5 4.3-7.7 4.9-7 5.4-5 4.6-4.5 5.1-3.8 5.3-3.3 5.6-2.5 5.7-1.9 6-1.3 6.1-.6 6.3 .5 10.9 2.2 11.8 3.2 11 8.5 24 2.9 11.4 .9 5.7 .2 5.3-.4 5.1-1 4.8-2 5.6-2.9 5.3-3.7 4.9-4.6 4.4-5.4 4-6.1 3.4-6.9 2.9-7.3 2.3-11.1 2.1-11.9.9-12.2-.6-12.3-1.8-12.1-3.2-11.6-4.3-11-5.5-10.2-6.5-9-7.3-7.9-8.2-6.5-8.7-5.2-9.3-3.8-9.5-2.2-10-.8-10 .8-10 2.4-10 3.8-9.7 5.4-9.4 6.8-8.8 8.1-8.3 9.1-7.3 10.2-6.5 11.2-5.6 12.1-4.6 12.5-3.4 12.8-2.2 13.2-1 12.6.3 12.3 1.5 11.7 2.8 10.8 4 7 3.6 6.2 4 5.6 4.5 4.9 5.1 3.9 5.3 3.2 5.7 2.2 6.1 1.5 6.4 .5 5.5-.1 5.7-.6 5.9-1.2 6.4-3.4 12-8.5 23.3-3.2 9.9-2.5 10.4-1.3 9.8 .2 11.4 2.1 10.9 3.9 10.3 5.8 9.6 4.2 5.3 4.7 4.9 5.4 4.5 5.8 4.1 6.4 3.7 6.7 3.1 7.3 2.7 7.5 2.2 8 1.7 8.3 1.2 8.6.7 8.9.2 9.1-.3 9.2-.9 18.4-3.3 10.7-2.8 10.6-3.4 10.2-4.1 9.9-4.7 9.6-5.2 9-5.7 8.5-6.2 7.8-6.6 7.2-7 6.6-7.4 5.8-7.5 5.1-8 4.4-8.2 3.6-8.4 2.7-8.5 2-8.7 1.1-8.6 .3-8.5-.5-8.8-1.4-8.5-2.1-8.6-2.9-8.3-3.8-8.2-4.6-8-5.2-7.6-5.9-7.4-6.7-7.1-7.4-6.8-8-6.3-8.3-5.7-9.2-5.5-9.6-4.9-10.4-4.5-11.1-4-11.3-3.3-11.5-2.6-11.6-1.9-11.8-1.2-11.6-.5-11.7.2-11.7 1-11.1 1.7-10.7 2.4-10.3 3.2-9.8 3.7-9 4.4-8.2 5-7.3 5.4-5.3 4.8-4.8 5.2-4.1 5.5-3.4 5.6-2.8 5.9-2.1 6.2-1.4 6.3-.8 6.5 .4 11.4 2.1 12.1 3.4 11.3 8.6 24.2 2.9 11 .8 5.5 .2 5.1-.4 4.9-.9 4.6-1.9 5.3-2.7 5-3.5 4.6-4.4 4.3-5.2 3.8-5.8 3.3-6.4 2.7-7 2.2-10.8 2-11.4.8-11.8-.6-11.9-1.8-11.6-3.1-11.3-4.3-10.6-5.3-9.7-6.3-8.6-7.1-7.5-7.9-6.3-8.5-4.9-9-3.5-9.2-2.1-9.7-.6-9.6 .9-9.7 2.3-9.6 3.9-9.5 5.3-9 6.6-8.5 7.9-7.8 9-7.2 10-6.2 11.1-5.5 11.9-4.3 12.2-3.2 12.5-2.1 12.6-.7 12.3.4 11.9 1.7 11.2 2.9 10.3 4 6.5 3.5 5.9 4 5.2 4.4 4.5 4.9 3.6 5.2 2.9 5.6 2 5.8 1.3 6.2 .4 5.3-.1 5.5-1.8 12-3.5 12-8.8 23.6-3.4 10.3-2.6 11-1.3 10.2 .2 12.1 .9 5.9 1.3 5.8 1.9 5.6 2.3 5.5 2.8 5.3 3.3 5 4.4 5.5 4.9 5.1 5.4 4.7 6 4.2 6.4 3.7 7 3.2 7.3 2.8 7.9 2.2 8.2 1.8 8.6 1.2 9 .6 9.1.2 9.4-.4 9.6-.9 9.5-1.5 9.7-2 11.1-2.9 11-3.7 10.6-4.2 10.5-4.9 9.9-5.4 9.3-5.9 8.8-6.4 8.3-6.8 7.5-7.2 6.9-7.7 6.1-7.9 5.4-8.3 4.7-8.5 3.7-8.5 3-8.7 2.1-9 1.3-9 .4-9-.4-8.9-1.2-8.9-2.1-8.7-2.9-8.8-3.8-8.6-4.5-8.3-5.3-8-5.9-7.6-6.9-7.5-7.4-6.9-8.3-6.8-8.7-6.1-9.2-5.7-9.7-5.1-10.9-4.9-11.2-4.3-11.6-3.5-12.1-3-12.2-2.1-12.6-1.5-12.4-.6-12 .1-12.1.8-11.9 1.7-11.2 2.3-10.7 3-10.3 3.8-9.7 4.5-8.7 5-8 5.6-5.8 5-5.3 5.5-4.6 5.7-3.7 5.9-3.1 6.2-2.3 6.3-1.6 6.6-.9 6.8 .2 11.7 2.2 12.7 3.4 11.6 8.8 24.5 2.8 10.6 .8 5.2 .2 4.9-.3 4.5-.8 4.4-1.7 4.8-2.5 4.6-3.2 4.2-3.9 3.9-4.6 3.5-5.3 3-5.9 2.6-6.3 2-10 2-10.7.8-11.1-.5-11.1-1.6-10.9-2.8-10.6-4-10.1-5-9.2-5.9-8.2-6.7-7.1-7.3-6-8-4.6-8.4-3.4-8.7-2.1-9.1-.7-9.1 .7-9.2 2.2-9.2 3.6-9.2 5-8.7 6.4-8.3 7.7-7.7 8.7-6.9 9.6-6 10.6-5.2 11.5-4.2 11.7-3 12-1.9 12.2-.6 11.9.5 11.5 1.8 10.6 2.9 9.8 4.1 6 3.4 5.4 3.9 4.8 4.3 4 4.6 3.3 4.9 2.6 5.4 1.8 5.5 1.1 5.9 .3 5.1-.1 5.4-1.9 11.5-3.6 11.8-9.4 24.8-3.7 11.3-2.9 12.1-1.3 11.6-.1 7 .5 6.9 1.1 6.8 1.7 6.7 2.2 6.6 2.8 6.3 3.3 6.1 3.8 5.7 4.7 5.8 5.3 5.4 5.8 4.8 6.4 4.2 6.8 3.8 7.4 3.2 8 2.6 8.3 2.1 9 1.5 9.4 1 9.8.3 10.1-.2 10.4-.8 10.4-1.4 10.5-2 10.5-2.5" stroke="#1f77b4" stroke-width="2.00" fill="none" stroke-linejoin="round" stroke-linecap="round"/>
<rect x="74.30" y="627.10" width="698.60" height="451.60" stroke="#8c8c8c" stroke-width="1.35" fill="none"/>
<text x="82.35" y="1098.70" font-size="21.30" text-anchor="middle" font-family='"Liberation Sans",sans-serif' font-weight="normal" fill="#1a1a1a" textLength="30.17" lengthAdjust="spacingAndGlyphs">−20</text>
<text x="165.50" y="1098.70" font-size="21.30" text-anchor="middle" font-family='"Liberation Sans",sans-serif' font-weight="normal" fill="#1a1a1a" textLength="30.17" lengthAdjust="spacingAndGlyphs">−15</text>
<text x="248.65" y="1098.70" font-size="21.30" text-anchor="middle" font-family='"Liberation Sans",sans-serif' font-weight="normal" fill="#1a1a1a" textLength="30.17" lengthAdjust="spacingAndGlyphs">−10</text>
<text x="331.80" y="1098.70" font-size="21.30" text-anchor="middle" font-family='"Liberation Sans",sans-serif' font-weight="normal" fill="#1a1a1a" textLength="21.08" lengthAdjust="spacingAndGlyphs">−5</text>
<text x="414.95" y="1098.70" font-size="21.30" text-anchor="middle" font-family='"Liberation Sans",sans-serif' font-weight="normal" fill="#1a1a1a" textLength="9.09" lengthAdjust="spacingAndGlyphs">0</text>
<text x="498.10" y="1098.70" font-size="21.30" text-anchor="middle" font-family='"Liberation Sans",sans-serif' font-weight="normal" fill="#1a1a1a" textLength="9.09" lengthAdjust="spacingAndGlyphs">5</text>
<text x="581.25" y="1098.70" font-size="21.30" text-anchor="middle" font-family='"Liberation Sans",sans-serif' font-weight="normal" fill="#1a1a1a" textLength="18.19" lengthAdjust="spacingAndGlyphs">10</text>
<text x="664.40" y="1098.70" font-size="21.30" text-anchor="middle" font-family='"Liberation Sans",sans-serif' font-weight="normal" fill="#1a1a1a" textLength="18.19" lengthAdjust="spacingAndGlyphs">15</text>
<text x="747.55" y="1098.70" font-size="21.30" text-anchor="middle" font-family='"Liberation Sans",sans-serif' font-weight="normal" fill="#1a1a1a" textLength="18.19" lengthAdjust="spacingAndGlyphs">20</text>
<text x="70.50" y="1067.50" font-size="21.30" text-anchor="end" font-family='"Liberation Sans",sans-serif' font-weight="normal" fill="#1a1a1a" textLength="9.09" lengthAdjust="spacingAndGlyphs">0</text>
<text x="70.50" y="1011.15" font-size="21.30" text-anchor="end" font-family='"Liberation Sans",sans-serif' font-weight="normal" fill="#1a1a1a" textLength="9.09" lengthAdjust="spacingAndGlyphs">5</text>
<text x="70.50" y="954.80" font-size="21.30" text-anchor="end" font-family='"Liberation Sans",sans-serif' font-weight="normal" fill="#1a1a1a" textLength="18.19" lengthAdjust="spacingAndGlyphs">10</text>
<text x="70.50" y="898.45" font-size="21.30" text-anchor="end" font-family='"Liberation Sans",sans-serif' font-weight="normal" fill="#1a1a1a" textLength="18.19" lengthAdjust="spacingAndGlyphs">15</text>
<text x="70.50" y="842.10" font-size="21.30" text-anchor="end" font-family='"Liberation Sans",sans-serif' font-weight="normal" fill="#1a1a1a" textLength="18.19" lengthAdjust="spacingAndGlyphs">20</text>
<text x="70.50" y="785.75" font-size="21.30" text-anchor="end" font-family='"Liberation Sans",sans-serif' font-weight="normal" fill="#1a1a1a" textLength="18.19" lengthAdjust="spacingAndGlyphs">25</text>
<text x="70.50" y="729.40" font-size="21.30" text-anchor="end" font-family='"Liberation Sans",sans-serif' font-weight="normal" fill="#1a1a1a" textLength="18.19" lengthAdjust="spacingAndGlyphs">30</text>
<text x="70.50" y="673.05" font-size="21.30" text-anchor="end" font-family='"Liberation Sans",sans-serif' font-weight="normal" fill="#1a1a1a" textLength="18.19" lengthAdjust="spacingAndGlyphs">35</text>
<text x="0.00" y="0.00" font-size="21.60" text-anchor="middle" font-family='"Liberation Sans",sans-serif' font-weight="bold" fill="#1a1a1a" transform="translate(423.50 1120.30) scale(0.730 1)">y</text>
<text x="0.00" y="0.00" font-size="21.60" text-anchor="middle" font-family='"Liberation Sans",sans-serif' font-weight="bold" fill="#1a1a1a" transform="translate(47.90 853.70) rotate(-90) scale(1 0.730)">z</text>
<path d="M855.30 627.10V1078.70M954.35 627.10V1078.70M1053.40 627.10V1078.70M1152.45 627.10V1078.70M1251.50 627.10V1078.70M1350.55 627.10V1078.70M1449.60 627.10V1078.70M822.00 1059.30H1483.10M822.00 1002.95H1483.10M822.00 946.60H1483.10M822.00 890.25H1483.10M822.00 833.90H1483.10M822.00 777.55H1483.10M822.00 721.20H1483.10M822.00 664.85H1483.10" stroke="#e0e0e0" stroke-width="1.3" fill="none"/>
<path d="M855.30 1078.70v3M954.35 1078.70v3M1053.40 1078.70v3M1152.45 1078.70v3M1251.50 1078.70v3M1350.55 1078.70v3M1449.60 1078.70v3M822.00 1059.30h-3M822.00 1002.95h-3M822.00 946.60h-3M822.00 890.25h-3M822.00 833.90h-3M822.00 777.55h-3M822.00 721.20h-3M822.00 664.85h-3" stroke="#555" stroke-width="1.2" fill="none"/>
<path d="M1162.4 1059.3l-9.6-.6-8.3-2.3-8.3-4.3-8.3-6.4-8.6-8.6-8.6-10.8-8.8-13.2-9-15.4-7.5-14.5-7.8-16.1-16.9-38.7-16.1-40.2-37.5-97.7-18.7-45.3-9.3-20.5-8.6-17.5-8.5-15.4-8-12.7-8.3-11.2-8.2-8.7-8-6.2-3.8-2-4-1.5-3.8-.9-3.8-.2-3.7.5-3.8 1.1-3.6 1.7-3.7 2.5-7 6.6-4 5.1-3.7 5.7-7 13.7-6.3 16.3-5.1 18-3.4 18-1.7 17.3 .1 16 .7 7.2 1.2 7 3.2 11 4.5 9.8 6 8.6 7.5 7.6 9.1 6.6 10.8 5.6 12.5 4.7 14 3.7 11.2 2 11.8 1.5 12.2.9 12.8.2 12.8-.4 13.2-.9 13.2-1.6 13.5-2.2 25.5-5.6 27.1-7.9 26.3-9.1 62.3-23.1 17.2-5.7 15.4-4.4 18-4 16.6-2.3 15.8-.7 15 .9 11.8 2 11.4 3.1 10.9 4.2 10.1 5.1 9.3 6.2 8 7 6.5 7.4 4.8 7.7 2.8 7.1 1.4 7.2-.1 7.3-1.5 7.6-2.9 8.1-4.4 8.7-6.7 10.5-7.1 9.5 37.2-64.7 11.3-17.8 9.9-13.7 10-11.3 4.6-4 4.3-3 4.1-1.9 3.6-.7 3.2.4 2.6 1.6 1.5 1.7 1.1 2.3 1 5.6-.6 6.9-2 7.7-3.4 7.8-4.8 8.3-6 8.7-7.4 9-14.9 15.7-19.6 18.1-21.1 18.1-54.5 45.4-24.6 21.6-10.5 10.2-7.6 8.3-4.6 6.5-.7 2 .4.8 2.1-1 3.2-2.9 8.1-10 8.9-13.6 9.8-17.4 9.1-17.5 10-20.7 36.8-80.9 15-31.5 8.2-16.1 7.6-13.7 7.1-11.9 6.9-10.4 8.1-10.4 7.9-8.3 7.6-6 7.3-3.6 3.6-.9 3.5-.4 3.3.3 3.3.8 3.3 1.5 3 2 3.1 2.6 2.8 3.2 3.3 4.8 3.1 5.7 2.5 6.3 2.2 6.9 1.5 7.2 1 7.3 .5 7.5-.2 7.3-.7 6.7-1.3 6.7-1.8 6.4-2.3 6.2-2.9 6-3.3 5.7-3.9 5.6-4.4 5.4-5.2 5.4-5.8 5.4-13.5 10.3-16.2 10-18.6 9.4-20.3 8.5-20.6 6.9-20.1 5.2-19.6 3.4-12.9 1.3-12.6.4-12.3-.4-12.3-1.2-12-2.1-12.1-3-12-3.8-12.1-4.7-10.2-4.6-10.3-5.2-22-12.9-20.4-13.5-44.2-31-19.9-12.8-18.2-9.9-8.4-3.7-8.2-3-8.3-2.4-8.2-1.6-7.8-.7-7.7.1-7.3 1-7.1 1.8-6.8 2.7-6.3 3.4-8.1 6.1-6.9 7.4-5.5 8.3-3.9 9-1.9 8.9-.2 9.1 1.5 9.2 3.4 9.3 3.8 7.3 4.8 7.6 6.1 8 7.4 8.7 17.4 17.9 48.5 46.5 11.1 12.1 3.4 4.5 .7 1.9-3.7-3.7-6-8.3-6.7-10.7-7.5-13.1-15.3-29.7-32.2-66.8-13.7-27.4-14.4-26-6.7-10.8-6.3-9.2-7.6-9.9-7.2-7.6-7-5.8-6.6-3.7-6.4-1.8-5.9.2-2.9.9-2.7 1.4-5.1 4.2-3.2 4.2-2.8 5.1-2.3 5.8-1.7 6.4-1 6.7-.4 6.9 .3 6.9 .9 6.9 1.5 6.4 2.1 6.4 2.6 6.2 3.2 6.1 3.8 6 4.4 5.8 10.6 11.5 6.9 6.3 7.8 6.4 18.2 12.7 21.2 12.4 22.7 11.4 21.8 9.2 21 7 19.7 4.7 9.5 1.6 9.3 1 11.5.4 11.2-.3 11-1.3 10.8-2.1 10.9-3.1 10.7-3.9 10.7-4.8 11-5.8 18.6-11.9 19.9-15 18.7-15.8 41.5-36.8 19.4-15.9 9.4-6.9 8.8-5.7 8.4-4.9 8-3.9 8.8-3.3 8.5-2.2 8.2-1.1 8 .1 7.7 1.3 7.4 2.4 7 3.5 6.5 4.7 4.7 4.4 4.3 4.9 3.8 5.4 3.2 5.9 2.6 6 1.8 6.1 1.2 6.3 .4 6.2-.3 5.9-1 5.9-1.6 5.9-2.3 5.8-3 6-3.6 6-9.6 12.6-8.3 9-10 9.7-11.8 10.6-13.9 11.5-16.4 12.9-17 12.7-15.6 11-13.9 9.1-10.4 6.2-9.5 5.1-8.9 4.1-8.4 3.2-8 2.2-7.7 1.5-7.6.5-7.3-.2-8.4-1.4-8.3-2.5-8.2-3.7-8.2-4.9-8.2-6-8.3-7.3-8.4-8.5-8.7-10-14.9-19.4-16.3-24.2-15.5-24.9-36.4-60.7-18.4-28.7-9.3-13.1-8.8-11.5-8.5-9.7-8.1-8-9.1-7.4-8.8-5.3-8.7-3.3-4.1-.8-4.1-.3-4 .3-4.1.7-3.9 1.3-3.8 1.8-7.5 5.3-7 7.3-4.1 5.5-3.8 6.2-3.4 6.7-3 7.2-2.5 7.5-1.9 7.5-1.4 7.5-.8 7.5-.2 7 .3 6.7 .9 6.5 1.5 6.3 1.9 5.9 2.5 5.9 3.1 5.6 3.7 5.5 4.4 5.5 5.2 5.5 5.9 5.4 6.5 5.2 15.2 10.3 17.7 9.7 19.5 8.6 19.7 7 19.3 5 18.6 3 12 .9 11.9 0 11.6-.9 11.5-1.8 11.4-2.8 11.3-3.6 11.3-4.6 11.4-5.5 9.7-5.4 9.8-6.1 20.8-14.8 19.6-15.5 43.1-36.1 20.1-15.4 9.8-6.7 9.2-5.6 8.8-4.6 8.4-3.6 9.4-3.1 9.1-1.8 8.7-.6 8.4.7 8.1 2 7.7 3.1 7.2 4.4 6.8 5.6 4.2 4.4 3.8 5 3.3 5.2 2.8 5.6 2.1 5.6 1.5 5.8 .9 5.7 .3 5.8-.4 5.5-1 5.6-1.5 5.5-2.2 5.5-2.7 5.6-3.4 5.7-8.9 11.9-7.6 8.6-9.3 9.3-11 10.2-13 11.3-35.6 28.8-17.6 13.4-15.1 10.9-19.3 12.6-8.4 4.7-7.9 3.8-7.3 2.9-7.1 2.1-6.9 1.3-6.6.6-8.8-.5-8.6-1.9-8.5-3.2-8.5-4.7-8.6-6.2-8.6-7.5-8.9-9.3-9-10.7-7.6-10-7.9-11.3-16.7-26.6-16-27.8-37.3-67.3-18.5-31-9.2-14.1-8.6-12-8.4-10.4-7.9-8.6-8.8-7.7-8.5-5.8-8.2-3.6-7.8-1.6-3.9 0-3.9.4-3.8 1-3.8 1.5-7.2 4.6-6.9 6.6-4.2 5.3-3.9 6-3.7 6.7-3.3 7.2-2.8 7.6-2.4 7.9-1.7 7.9-1.3 7.9-.6 7.5 0 7.1 .5 7 1 6.5 1.6 6.5 2.1 6 2.7 5.8 3.2 5.7 3.9 5.4 4.3 5.2 5 5 5.7 5 13.1 9.5 15.6 8.9 18.1 8.4 19 6.9 19.2 5.4 18.9 3.5 12.9 1.4 12.6.5 12.4-.4 12.3-1.4 12.2-2.2 12-3.2 12.1-4.1 12-5 10.2-4.9 10.4-5.6 22-13.7 20.5-14.6 44.9-33.7 20.5-14 9.8-5.9 9.1-4.9 8.8-4.1 8.4-3.2 9.2-2.6 8.8-1.5 8.4-.5 8.3.6 7.9 1.6 7.6 2.8 7.2 3.7 6.6 4.8 7.4 7.1 6.2 8.4 4.5 9 2.8 9.4 .9 9.3-.8 9.3-2.6 9.3-4.4 9.5-4.1 6.9-5.1 7-6.1 7.5-7.3 8.1-20.1 19.6-47.5 42.8-18.3 17.3-8.5 9-6 7.2-3.4 5.5-.4 1.6 .6.6 2.2-1.1 3.3-2.9 8.1-10 9-13.7 10-17.6 8.9-17.2 10-20.6 35.8-78.4 14.5-30.2 14.9-28.3 6.9-11.7 6.5-10.2 7.8-10.5 7.3-8.4 7.1-6.4 7-4.5 6.7-2.4 6.3-.5 3.1.6 3 1 5.8 3.6 3.9 3.9 3.6 4.8 3.3 5.8 2.8 6.5 2.2 7.2 1.7 7.6 1 7.8 .3 7.8-.3 7.2-.8 7.1-1.5 6.8-2 6.6-2.7 6.5-3.1 6.1-3.8 6-4.4 5.8-5.1 5.6-5.6 5.5-13.2 10.6-16.1 10.4-18.5 9.7-20.6 9-21 7.4-20.7 5.6-20 3.7-13 1.4-12.8.6-12.5-.3-12.4-1.2-12.1-2.1-12.2-2.9-12.1-3.8-12.3-4.8-10.3-4.7-10.4-5.4-22-13-20.6-13.8-44.6-31.7-20-13.1-18.4-10-8.4-3.8-8.1-3-8.5-2.4-8.2-1.5-7.9-.7-7.7.2-7.4 1.1-7.1 2-6.8 2.9-6.3 3.6-7.9 6.3-6.7 7.5-5.3 8.5-3.6 9-1.8 9 .1 9.1 1.8 9.2 3.5 9.4 3.9 7.2 4.9 7.4 6.1 8 7.5 8.5 17.8 18.2 37.5 35.2 13.6 13.4 11.8 12.9 3.4 4.6 .7 2-1.5-1-2.4-2.7-6.3-8.5-7.1-11.1-7.8-13.7-16-31.1-33.2-69.5-14.2-28.4-14.9-27.1-6.9-11-6.4-9.3-7.9-9.9-7.3-7.5-7.2-5.6-6.9-3.4-3.3-.9-3.2-.4-3.2.2-3 .7-3 1.3-2.8 1.8-5.1 5.2-3 4.6-2.5 5.3-2.1 6-1.5 6.5-.9 6.7-.2 6.9 .3 6.9 1 6.7 1.5 6.3 2 6.2 2.6 6.2 3.2 5.9 3.7 5.9 4.3 5.7 10.2 11.1 6.7 6.1 7.5 6.1 17.4 12.1 20.2 11.9 22 10.9 21.5 9 20.7 6.9 19.8 4.8 18.7 2.7 11.7.6 11.5-.2 11.2-1.1 11.1-2 10.9-2.8 11-3.8 11.1-4.7 11-5.6 9.4-5.4 9.5-6.1 20.2-14.6 19.1-15.5 42.3-36.3 19.6-15.4 9.8-6.9 9-5.6 8.7-4.7 8.3-3.7 9.3-3.2 9-1.9 8.5-.6 8.3.6 8 1.9 7.7 3.1 7.1 4.4 6.6 5.6 4.2 4.6 3.8 5.1 3.3 5.5 2.6 5.6 2 5.8 1.4 6 .6 5.9 0 5.9-.6 5.7-1.3 5.7-1.9 5.7-2.5 5.8-3.2 5.7-3.9 6-9.9 12.4-8.7 9.2-10.5 10-12.4 11-14.6 12.3-36 27.9-15.9 11.5-13.8 9.3-9.8 6.1-9.1 4.9-8.4 4-7.9 3.1-7.5 2.2-7.4 1.3-7.1.5-7-.3-8.1-1.5-8-2.6-8.1-3.8-8-5.1-8.1-6.3-8.2-7.6-8.3-8.9-8.5-10.2-14.7-20.1-16.2-25.2-15.4-26.1-36.5-64-18.6-30.4-9.6-14.1-8.9-12.1-8.8-10.4-8.2-8.4-9.5-7.9-9.3-5.5-4.5-1.8-4.4-1.2-4.3-.6-4.3 0-4.1.6-4.2 1.2-4.2 1.8-3.9 2.4-3.9 3-3.7 3.6-7.1 8.9-3.7 6-3.3 6.4-3 6.9-2.6 7.3-3.7 14.7-1.1 7.3-.5 7.3 0 6.7 .5 6.5 1 6.2 1.5 6.1 1.9 5.7 2.5 5.6 3 5.4 3.6 5.2 4.2 5.3 4.8 5.1 11.6 9.9 14.1 9.5 16.5 9 18.4 8.1 18.9 6.6 18.9 4.9 18.2 3.2 12.4 1.1 12.2.2 12.1-.6 11.8-1.6 11.6-2.4 11.7-3.3 11.8-4.3 11.7-5.2 9.9-5.1 10.2-5.8 21.4-14 20.1-14.9 44.5-34.8 20.7-14.8 10.2-6.4 9.4-5.2 9.1-4.3 8.6-3.3 9.9-2.7 9.6-1.4 9.1-.1 8.9 1.3 8.5 2.6 8 4 7.5 5.2 6.6 6.3 6.3 8.3 4.8 9.1 3 9.4 1.2 9.6-.6 9.3-2.3 9.4-4.1 9.5-6 9.8-6.1 8-7.3 8.5-8.9 9.3-10.7 10.3-21.8 19.4-66.9 57.6-19.2 17.4-15.6 15.1-12.1 12.7-7 9.2-1.8 3.4-.6 2.7 .6 1.8 1.8.9 1.9-.1 2.4-.7 5.4-3 6-4.8 6.3-6.7 6.4-7.9 6.6-9.6 6.9-11.1 7-12.5 12.6-25.2 13.8-30.5 13.7-32.6 35.6-87 10.5-24.4 9.3-20.6 10.8-21.6 9.9-18 9.6-14.7 9-11.5 5.7-5.9 5.6-4.7 5.4-3.4 5.5-2.2 5.3-1 5.3.3 5 1.5 5 2.8 5 4.2 4.8 5.5 4.5 6.8 4.2 7.9 3.9 9.1 3.4 9.7 2.7 10.1 2.1 10.5 1.5 12.6 .4 12.3-.7 11.3-1.9 10.6-3 9.6-4 8.8-5.2 8-6.5 7.4-7.9 7-9.3 6.3-10.6 5.8-12 5.1-13.4 4.6-14.4 3.8-15.3 2.9-15.5 2.1-12.7 1-12.6.4-12.5-.2-12.6-.8-12.5-1.4-12.5-2-12.7-2.6-12.8-3.2-21.6-6.7-23.3-8.7-21.6-9.2-46.5-20.9-20.7-8.6-18.8-6.6-17.1-4.5-17-2.7-8.1-.5-7.8 0-7.6.6-7.4 1-7.1 1.7-7 2.2-8.8 3.8-8.3 4.8-7.4 5.6-6.3 6.3-5 6.7-3.7 7.1-2.3 7.2-.8 7.4 .5 6.9 1.6 7.1 2.9 7.3 4.1 7.9 5.5 8.6 7.2 9.7 12 14.5 6.8 7.4-1.3-3-42.2-76.2-12.1-20.1-10.8-15.6-5.7-7.2-5.4-6-5.1-4.7-4.9-3.5-4.5-2.3-4.3-.9-3.8.3-3.2 1.6-2.5 2.8-1.8 3.8-1 4.7-.2 5.3 .7 5.8 1.5 6 2.3 6.3 3.1 6.3 7.7 12.4 10.6 12.9 13.4 13.8 17 15.2 27.3 22 32.7 24.4 29.9 20.5 24.3 14.9 18.8 9.5 8.5 3.5 8.1 2.7 7.8 1.9 7.5 1.2 7.3.5 7.2-.3 8.5-1.3 8.5-2.5 8.4-3.5 8.4-4.7 8.4-5.9 8.4-6.9 8.6-8.3 8.9-9.6 15-18.6 16.5-23.3 15.7-23.9 36.1-57.6 17.9-26.6 9.1-12.3 8.4-10.5 8-9 7.7-7.6 8.5-7 8.1-5.3 8-3.7 7.7-1.9 7.5-.3 7.3 1.5 7.1 3.2 6.8 4.8 4.7 4.6 4.5 5.4 4.2 6.2 3.8 7 3.3 7.4 2.8 7.7 2.1 7.9 1.5 8 .7 7.4 .2 7.2-.5 7.1-1.1 6.7-1.7 6.4-2.3 6.3-3.1 6.2-3.6 5.8-4.4 6-5.2 5.8-5.9 5.7-6.7 5.6-7.6 5.7-8.2 5.5-18.7 10.6-20.4 9.5-20.5 7.6-19.9 5.4-9.5 1.8-9.5 1.3-11.8.9-11.6-.1-11.5-1-11.3-2-11.1-2.9-11.2-3.8-11.1-4.8-11.3-5.9-9.5-5.7-9.7-6.4-20.6-15.5-19.2-16.2-42.8-38.2-19.9-16.3-9.8-7.1-9-5.8-8.7-4.9-8.3-3.9-9.1-3.3-8.9-2-8.7-.8-8.2.5-8 1.8-7.6 3.1-7.2 4.3-6.6 5.4-4.4 4.7-4.1 5.2-3.4 5.6-2.9 5.8-2.2 6-1.5 6.1-.9 6.2-.1 6.1 .5 5.8 1.1 5.8 1.8 5.8 2.4 5.8 3.1 5.9 3.8 5.9 9.7 12.3 8.4 9 10.1 9.6 11.8 10.5 13.8 11.3 15.9 12.4 16.2 12 15 10.4 13.5 8.7 10.2 6 9.4 4.9 8.8 4 8.4 3.1 8 2.2 7.7 1.4 7.5.5 7.3-.2 8.4-1.4 8.3-2.5 8.3-3.7 8.2-4.9 8.3-6 8.3-7.2 8.6-8.6 8.7-9.9 15-19.3 16.2-23.8 15.3-24.5 35.9-59.4 18-27.8 8.9-12.5 8.4-11 8.1-9.4 7.7-7.9 8.6-7.4 8.1-5.5 7.9-3.8 7.8-2 7.5-.3 7.3 1.4 7 3.2 6.7 4.9 4.6 4.6 4.5 5.5 4.1 6.3 3.7 6.8 3.3 7.4 2.8 7.9 2.1 7.9 1.6 8.1 .8 7.6 .2 7.2-.4 7.2-1 6.8-1.6 6.5-2.3 6.3-2.8 6-3.5 5.9-4.1 5.7-4.9 5.7-5.5 5.5-6.3 5.5-7.1 5.4-7.8 5.2-17.6 10.2-19.7 9.2-20.3 7.6-19.9 5.6-19.1 3.4-12.2 1.1-12.1.1-11.7-.7-11.7-1.8-11.5-2.6-11.5-3.6-11.4-4.6-11.7-5.7-9.6-5.3-10-6.3-21.1-15-19.6-15.8-43.6-37.1-20.3-15.7-9.9-6.8-9.3-5.7-8.8-4.7-8.6-3.6-9.3-3.1-9.1-1.7-8.8-.5-8.5.8-8.1 2.1-7.8 3.5-7.2 4.6-6.7 5.8-4.2 4.8-3.7 5.1-3.2 5.5-2.6 5.7-2 5.8-1.3 5.9-.7 5.9 0 5.9 .7 5.6 1.2 5.7 1.9 5.6 2.5 5.7 3.2 5.8 3.7 5.8 9.8 12.3 8.6 9.1 10.2 9.9 12.3 11 14.5 12.1 36 28.2 15.9 11.6 13.9 9.4 9.7 6.1 9 5 8.3 4 7.9 3.1 7.5 2.2 7.3 1.5 7 .5 7-.2 8.2-1.4 8.1-2.7 8-3.8 8.1-5.1 8.2-6.3 8.2-7.6 8.3-9 8.7-10.4 14.7-20.4 16.2-25.4 15.3-25.9 36.1-63.7 18.4-30.3 9.1-13.8 8.8-12 8.4-10.3 7.8-8.3 9.1-8 8.6-5.8 8.4-3.6 4-1 4.1-.6 4 0 4 .6 3.9 1 3.7 1.6 7.4 4.8 6.9 6.6 4.1 5.3 3.9 6.1 3.7 6.7 3.2 7.2 2.7 7.5 2.3 7.9 1.7 7.9 1.1 7.6 .5 7.3 0 7.1-.6 6.7-1.1 6.5-1.7 6.3-2.2 6-2.8 5.7-3.3 5.6-4 5.5-4.5 5.2-5.2 5.1-5.8 5-13.6 9.7-16.1 9.2-18.5 8.5-19.2 7-19.3 5.4-18.8 3.4-12.7 1.4-12.5.4-12.2-.6-12-1.4-12-2.3-11.9-3.3-11.9-4.2-11.9-5.2-10.1-5-10.2-5.8-21.8-14.1-20.3-14.8-44.7-34.8-20.5-14.5-10-6.2-9.3-5.2-8.9-4.2-8.6-3.3-9.6-2.7-9.2-1.5-8.8-.3-8.5.9-8.2 2.2-7.8 3.3-7.3 4.5-6.8 5.7-6.8 7.8-5.4 8.8-3.8 9.4-1.9 9.6 0 9.3 1.6 9.4 3.5 9.4 5.3 9.7 5.6 8.2 7 8.5 8.6 9.3 10.4 10.2 21.6 19.7 58.4 50.8 14.1 12.8 10.9 10.7 9 9.8 5.5 7.6 1.6 3 .6 2.4-.5 1.4-1.4.4-3.4-1.3-4.4-3.4-5-5-5.4-6.4-5.5-7.6-5.7-8.9-12.1-21.4-10.6-21-11.8-25.4-40.3-93.1-15.6-34.3-15.8-31.4-7.2-12.8-6.9-11-7.9-11.1-7.6-8.9-7.4-6.9-7.2-4.8-7.1-2.6-3.3-.5-3.3 0-3.3.5-3.2 1-6.3 3.7-4.1 3.8-4 4.8-3.6 5.6-3.4 6.5-2.9 7.2-2.6 7.9-2 8.1-1.5 8.2-.9 8.1-.3 7.8 .2 7.6 .8 7.3 1.4 7.2 1.9 6.7 2.4 6.4 3 6 3.2 5.3 3.7 5.1 8.8 9.6 10.8 8.8 13 8.3 15.4 7.8 17.4 6.9 18.5 5.9 19.1 4.6 12.9 2.3 12.8 1.6 12.6 1 12.5.2 12.4-.4 12.2-1 12.1-1.8 12-2.4 13-3.4 13.2-4.2 13.4-5.1 14.1-6.1 27.2-13.6 47.9-26.8 17.9-9.5 18.7-8.7 16.6-6.2 10.2-2.9 9.9-1.9 9.3-1 9 0 8.6.8 8.4 1.8 8 2.8 7.5 3.6 7.7 5.2 6.8 6 5.7 6.9 4.4 7.4 2.8 7.5 1.4 7.8 0 7.9-1.6 8-2.6 7.5-3.9 7.8-5.2 8.2-6.6 9-13.2 15.4-27.3 29.4-7.2 6.1 .9-2.2 18.9-33.5 28.9-54.6 12.2-22.4 13.4-22.6 11.9-17.3 6.8-8.7 6.5-6.9 6.2-5.4 5.9-3.7 5.6-2.1 5.1-.4 4.6 1.4 4 3 2.7 3.7 2 4.8 1.3 5.4 .5 6.1-.3 6.3-1 6.6-1.8 6.6-2.6 6.6-3 6.3-3.7 6.3-4.4 6.3-5 6.4-12.1 13-15.2 13.5-11.2 8.9-12.9 9.5-29.8 20.3-32.3 19.8-28.7 15.6-22 10.1-10 3.8-9.6 3-9.1 2.3-8.7 1.5-8.5.8-8.2.1-9.6-.8-9.5-1.8-9.3-2.9-9.3-4-9.2-5-9.4-6.2-9.4-7.4-9.5-8.4-16.4-16.9-17.8-21-16.8-21.8-38.1-51.4-18.4-23.1-8.9-10.2-8.3-8.8-8-7.5-7.7-6.4-8.3-5.7-7.9-4.2-7.7-2.9-7.5-1.4-7.2 0-7 1.5-6.5 2.9-6.3 4.4-4.8 4.7-4.4 5.4-3.9 6.3-3.4 6.8-2.7 7.3-2 7.5-1.2 7.6-.5 7.7 .3 7.1 .9 7 1.7 6.8 2.3 6.6 3.1 6.6 3.7 6.3 4.5 6.3 5.2 6.2 7 7.3 8.1 7.2 9.3 7.4 10.4 7.5 12 7.9 12.7 7.7 13.4 7.4 13.5 6.9 24.3 10.9 11.4 4.3 10.9 3.5 10.6 2.7 10 2.1 9.7 1.3 9.4.6 10.7-.3 10.6-1.2 10.3-2.1 10.3-3.3 10.1-4.2 10.1-5.2 10.3-6.4 10.4-7.5 8.7-7.1 9-7.9 19-18.8 17.8-19.5 40-45.7 18.7-19.8 8.9-8.6 8.5-7.4 7.9-6.3 7.8-5.3 8.1-4.6 7.8-3.3 7.7-2.2 7.3-.9 7 .2 6.8 1.5 6.5 2.7 6 4 4.9 4.3 4.6 5.2 4 5.8 3.4 6.5 2.7 6.8 2 7.1 1.2 7.2 .3 7.3-.3 6.7-1.1 6.8-1.9 6.5-2.5 6.5-3.3 6.4-4 6.4-4.8 6.5-5.5 6.4-8.1 8.1-9.5 8.5-11.1 8.9-12.7 9.2-14.6 10-15.5 9.9-15.6 9.3-14.8 8.1-12.2 6.2-11.4 5.2-10.7 4.2-10.3 3.5-9.6 2.5-9.3 1.7-8.9 1-8.7.1-9.7-.9-9.4-1.8-9.4-3-9.3-4-9.2-5.2-9.4-6.2-9.4-7.5-9.6-8.6-16.3-16.9-17.8-21.3-16.7-21.8-38.3-52.1-18.3-23.2-9-10.4-8.3-8.9-8.1-7.7-7.8-6.5-8.2-5.7-8.1-4.4-7.7-2.8-7.5-1.5-7.3.1-6.9 1.5-6.6 2.9-6.2 4.4-4.8 4.6-4.4 5.5-4 6.2-3.4 6.9-2.7 7.3-2.1 7.6-1.3 7.7-.5 7.7 .2 7.1 .9 7 1.6 6.9 2.3 6.7 3 6.5 3.7 6.4 4.4 6.3 5.1 6.2 6.9 7.1 7.9 7.2 9.2 7.4 10.3 7.4 11.6 7.6 12.6 7.6 13.2 7.3 13.3 6.8 24.3 10.8 11.4 4.3 11.1 3.6 10.5 2.8 10.1 2.1 9.8 1.3 9.5.6 10.8-.1 10.7-1.2 10.4-2.1 10.3-3.1 10.2-4.1 10.3-5.3 10.4-6.3 10.4-7.4 8.8-7 8.9-7.8 19.3-18.8 18-19.4 40-45.2 18.8-19.7 9.1-8.6 8.5-7.3 7.9-6.1 7.8-5.2 8.2-4.5 7.8-3.3 7.6-2 7.4-.9 7.1.4 6.7 1.6 6.4 2.7 6.2 4.1 4.8 4.3 4.5 5.2 4 5.9 3.3 6.3 2.6 6.9 1.9 7 1.2 7.2 .3 7.2-.4 6.6-1.2 6.6-1.8 6.6-2.6 6.5-3.2 6.3-4.1 6.4-4.7 6.3-5.6 6.5-8.2 8.2-9.6 8.5-11.2 9-12.8 9.5-14.9 10.1-15.7 10.1-15.7 9.4-14.8 8.2-12.1 6.2-11.5 5.2-10.6 4.3-10.1 3.4-9.5 2.6-9.2 1.7-8.9.9-8.6.1-9.6-.8-9.4-1.9-9.3-3-9.2-4-9.2-5.2-9.3-6.3-9.3-7.5-9.7-8.8-16.2-17.1-17.8-21.5-16.8-22.3-38.2-52.6-18.3-23.5-9-10.6-8.4-9.1-8.1-7.8-7.6-6.4-8.3-5.9-8.1-4.4-7.7-2.9-7.4-1.5-7.3 0-7 1.5-6.6 3-6.3 4.4-4.8 4.7-4.3 5.4-4 6.3-3.4 6.9-2.8 7.3-2 7.8-1.3 7.6-.6 7.8 .2 7.2 .9 7 1.6 6.9 2.2 6.7 3 6.6 3.7 6.3 4.3 6.3 5.1 6.2 6.9 7.1 7.8 7.1 8.9 7.1 10.1 7.3 11.5 7.6 12.3 7.4 13.1 7.2 13.1 6.7 24.3 10.8 11.5 4.3 11 3.5 10.5 2.8 10.3 2.1 9.8 1.4 9.6.7 10.9-.1 10.8-1.1 10.5-2 10.4-3.1 10.2-4 10.4-5.2 10.4-6.2 10.7-7.4 8.8-6.8 9.1-7.9 19.3-18.5 18.1-19.2 40.2-44.7 18.9-19.5 9.1-8.5 8.4-7.2 8.1-6.1 7.8-5.1 8.2-4.4 7.9-3.1 7.6-2 7.3-.8 7.2.5 6.8 1.6 6.5 2.9 6 4.1 4.9 4.4 4.4 5.2 3.9 5.8 3.3 6.4 2.6 6.8 1.8 7 1 7 .3 7.1-.4 6.7-1.2 6.5-1.9 6.5-2.6 6.5-3.3 6.3-4.1 6.3-4.8 6.4-5.6 6.4-8.3 8.3-9.7 8.6-11.3 9.1-13 9.6-15.1 10.4-16 10.3-15.8 9.6-15 8.4-12.1 6.2-11.2 5.2-10.7 4.3-9.9 3.4-9.5 2.6-9 1.7-8.8.9-8.5.1-9.5-.9-9.4-2-9.2-3-9.2-4.2-9.2-5.3-9.2-6.4-9.4-7.6-9.4-8.8-16.3-17.5-17.6-21.6-16.7-22.4-37.9-53.3-18.4-24-9.1-10.8-8.4-9.2-8.1-8-7.6-6.5-8.4-6-7.9-4.5-7.8-3-7.4-1.5-7.2 0-7 1.4-6.6 2.9-6.3 4.5-4.8 4.6-4.4 5.5-3.9 6.2-3.5 7-2.8 7.5-2.1 7.6-1.3 7.8-.6 7.8 .1 7.2 .9 7.1 1.5 6.9 2.2 6.8 3 6.5 3.5 6.4 4.4 6.3 5 6.2 6.7 7 7.6 7 8.8 7 9.8 7.1 11.1 7.3 12.1 7.3 12.8 7.1 13 6.6 24.4 10.8 11.5 4.3 11.1 3.6 10.7 2.8 10.2 2.2 10 1.4 9.6.8 11.1 0 10.8-1 10.8-2 10.5-3 10.3-3.9 10.5-5 10.4-6.1 10.8-7.3 8.8-6.7 9.2-7.7 19.5-18.3 18.3-19.1 40.5-44.3 19-19.1 9-8.3 8.6-7.2 8.1-5.9 7.9-5.1 8.3-4.3 7.9-3 7.6-1.9 7.5-.7 7.1.6 6.9 1.8 6.5 3 6 4.1 4.8 4.5 4.3 5.1 3.9 5.9 3.1 6.3 2.5 6.7 1.8 6.9 1 7 .2 7-.5 6.6-1.2 6.5-2 6.4-2.6 6.4-3.3 6.3-4.1 6.3-4.9 6.4-5.6 6.4-8.4 8.4-9.9 8.7-11.5 9.3-13.2 9.8-15.4 10.6-16.4 10.7-16.1 9.8-15 8.5-12.1 6.3-11.1 5.2-10.4 4.3-9.8 3.4-9.3 2.5-9.1 1.7-8.6.9-8.4.1-9.4-1-9.2-2-9.2-3.1-9.1-4.2-9.1-5.3-9.1-6.5-9.2-7.7-9.5-9.1-16.3-17.7-17.5-22.1-16.6-22.8-37.9-54.1-18.2-24.3-8.9-10.9-8.4-9.4-8.2-8.2-7.7-6.8-8.4-6.2-7.9-4.6-7.7-3.1-7.5-1.6-7.3 0-7 1.4-6.6 3-6.4 4.4-4.8 4.7-4.3 5.5-4 6.4-3.4 7-2.9 7.4-2.1 7.9-1.3 7.7-.7 7.9 .2 7.4 .8 7 1.5 6.9 2.2 6.8 2.8 6.6 3.5 6.3 4.3 6.3 5 6.2 6.4 6.8 7.5 6.9 8.5 6.9 9.7 7 10.9 7.1 11.7 7.1 12.5 6.8 12.8 6.5 24.2 10.7 11.6 4.3 11.2 3.6 10.7 2.9 10.3 2.2 10 1.5 9.7.8 11.3.1 11-.9 10.9-1.8 10.6-2.9 10.6-3.9 10.6-4.9 10.7-6 10.8-7.1 9-6.7 9.3-7.5 19.6-18 18.5-18.8 40.9-43.8 18.9-18.6 9.3-8.3 8.5-6.9 8.2-5.9 7.8-4.8 8.5-4.2 8-3 7.7-1.7 7.4-.5 7.2.7 6.9 1.9 6.5 3.2 6 4.2 4.6 4.5 4.3 5.2 3.8 5.8 3 6.2 2.5 6.6 1.6 6.9 1 6.9 .1 6.9-.6 6.6-1.3 6.4-2 6.4-2.6 6.2-3.4 6.3-4.1 6.2-4.9 6.3-5.6 6.4-8.5 8.4-10.1 9-11.7 9.4-13.6 10.1-15.8 11.1-16.8 11.1-16.4 10.1-15.2 8.8-11.9 6.2-11 5.3-10.3 4.3-9.6 3.4-9.2 2.5-8.8 1.7-8.5.9-8.2 0-9.4-1-9.1-2-9-3.2-9-4.3-9-5.4-9.1-6.7-9.2-7.9-9.4-9.2-16.1-18.1-17.5-22.6-16.4-23.1-37.9-55.5-18.2-25-9-11.2-8.5-9.7-8-8.3-7.7-6.9-8.3-6.3-8.1-4.8-7.7-3.1-7.4-1.7-7.3-.1-7 1.4-6.7 3-6.3 4.5-4.7 4.6-4.5 5.6-3.9 6.4-3.4 7-2.9 7.5-2.1 7.8-1.5 8-.6 8 .1 7.3 .7 7.2 1.4 6.9 2.1 6.8 2.8 6.6 3.5 6.5 4.2 6.2 4.9 6.2 6.2 6.7 7.3 6.7 8.2 6.8 9.3 6.7 10.4 6.9 11.4 6.8 12.1 6.7 12.6 6.3 24.2 10.6 11.5 4.3 11.3 3.6 10.8 3 10.4 2.2 10.1 1.6 9.9.9 11.6.2 11.2-.7 11.1-1.8 10.8-2.7 10.7-3.7 10.7-4.7 10.8-5.9 10.9-6.8 9.1-6.6 9.5-7.4 19.9-17.7 18.7-18.5 41.6-43 19-18.3 9.2-7.9 8.7-6.8 8.1-5.7 8-4.7 8.5-4.1 8.1-2.7 7.8-1.6 7.5-.3 7.2.8 6.9 2.1 6.5 3.3 6 4.4 4.6 4.5 4.2 5.2 3.6 5.8 3 6.2 2.3 6.6 1.5 6.6 .8 6.8 .1 6.7-.7 6.4-1.3 6.4-2.1 6.2-2.7 6.2-3.4 6.2-4.1 6.2-4.9 6.3-5.8 6.4-8.6 8.7-10.3 9.1-12.1 9.7-13.9 10.5-16.6 11.7-17.6 11.8-16.9 10.6-15.3 9-11.6 6.3-10.8 5.3-10 4.2-9.4 3.4-8.9 2.5-8.5 1.7-8.3.8-8 0-9.2-1-9.1-2.2-8.9-3.3-8.8-4.4-8.9-5.6-9-6.9-9.1-8.1-9.4-9.5-15.8-18.4-17.3-23.2-16.4-23.9-37.6-56.8-18.2-25.8-9-11.6-8.4-9.9-8.1-8.7-7.8-7.3-8.3-6.6-8-4.9-7.8-3.4-7.5-1.8-7.2-.2-7.1 1.4-6.7 3-6.4 4.6-4.7 4.7-4.4 5.6-4 6.5-3.4 7-2.9 7.5-2.2 8-1.5 8.1-.7 7.9 0 7.5 .7 7.2 1.3 7 2 6.9 2.7 6.7 3.4 6.4 4.1 6.3 4.7 6.2 6 6.6 6.9 6.5 7.9 6.5 8.8 6.4 10 6.6 10.8 6.5 23.7 12.4 23.9 10.5 11.8 4.4 11.3 3.6 10.9 3 10.6 2.4 10.2 1.6 9.8 1.1 11.9.4 11.5-.6 11.3-1.5 11.2-2.5 11.1-3.6 11-4.5 10.9-5.6 11.2-6.7 9.4-6.4 9.6-7.1 20.3-17.4 19-18 42.2-42 19.3-17.8 9.4-7.7 8.6-6.4 8.3-5.5 8-4.5 8.5-3.8 8.3-2.6 7.9-1.3 7.6-.2 7.3 1.1 7 2.3 6.6 3.6 6 4.7 4.5 4.6 4 5.2 3.4 5.8 2.8 6 2.1 6.4 1.4 6.5 .7 6.6-.1 6.5-.8 6.3-1.4 6.2-2.2 6.1-2.8 6.1-3.4 6-4.2 6.2-5 6.3-5.7 6.4-8.9 8.8-10.5 9.3-12.5 10.2-14.6 11.1-17.9 12.8-18.9 13-17.6 11.4-15.6 9.4-11.3 6.3-10.4 5.3-9.6 4.2-8.9 3.3-8.6 2.5-8.2 1.6-7.9.7-7.7 0-9-1.2-8.8-2.3-8.7-3.4-8.7-4.7-8.8-5.9-8.9-7.3-8.9-8.4-9.2-9.9-15.6-19.2-17.1-24-16.2-24.7-36.9-58.5-18.2-27-8.9-12.1-8.3-10.3-8-9.1-7.7-7.7-8.1-6.9-7.9-5.4-7.7-3.8-7.3-2.1-7.1-.7-6.9.9-6.7 2.6-6.3 4-5 4.5-4.5 5.4-4.2 6.4-3.7 7-3.2 7.7-2.4 8-1.8 8.2-1.1 8.4-.3 7.8 .4 7.5 1.1 7.3 1.7 7 2.4 6.8 3.1 6.7 3.8 6.4 4.5 6.3 5.5 6.3 6.2 6.3 7.1 6.1 8 6.1 9 6.2 9.9 6.1 22 11.8 23.7 10.5 23.2 8.2 11.1 3.2 10.7 2.6 10.4 1.9 10.3 1.3 12.6.8 12.1-.1 11.9-1.2 11.7-2.2 11.5-3.1 11.6-4.3 11.5-5.2 11.5-6.3 9.7-6.1 10-7 10.4-7.9 10.8-8.9 19.7-17.5 43.5-40.9 19.8-17.1 9.7-7.5 8.9-6.1 8.5-5.1 8.3-4.2 9-3.4 8.5-2.2 8.3-.8 7.8.4 7.6 1.8 7.1 3 6.7 4.3 6 5.6 4.4 5.3 3.7 6 3.1 6.4 2.2 6.7 1.4 6.8 .6 6.9-.3 6.9-1.2 6.8-1.8 6.5-2.7 6.4-3.4 6.5-4.2 6.6-5.1 6.6-6 6.8-14.9 14.6-13.3 11.5-16.4 13-20.3 15.2-23.1 16.7-20 13.8-16.6 10.9-13.9 8.4-12.1 6.4-9.9 4.4-9.2 3.2-8.8 2.2-8.3.9-8.2 0-8-1.2-8-2.2-7.9-3.4" stroke="#1f77b4" stroke-width="2.00" fill="none" stroke-linejoin="round" stroke-linecap="round"/>
<rect x="822.00" y="627.10" width="661.10" height="451.60" stroke="#8c8c8c" stroke-width="1.35" fill="none"/>
<text x="855.30" y="1098.70" font-size="21.30" text-anchor="middle" font-family='"Liberation Sans",sans-serif' font-weight="normal" fill="#1a1a1a" textLength="21.08" lengthAdjust="spacingAndGlyphs">−3</text>
<text x="954.35" y="1098.70" font-size="21.30" text-anchor="middle" font-family='"Liberation Sans",sans-serif' font-weight="normal" fill="#1a1a1a" textLength="21.08" lengthAdjust="spacingAndGlyphs">−2</text>
<text x="1053.40" y="1098.70" font-size="21.30" text-anchor="middle" font-family='"Liberation Sans",sans-serif' font-weight="normal" fill="#1a1a1a" textLength="21.08" lengthAdjust="spacingAndGlyphs">−1</text>
<text x="1152.45" y="1098.70" font-size="21.30" text-anchor="middle" font-family='"Liberation Sans",sans-serif' font-weight="normal" fill="#1a1a1a" textLength="9.09" lengthAdjust="spacingAndGlyphs">0</text>
<text x="1251.50" y="1098.70" font-size="21.30" text-anchor="middle" font-family='"Liberation Sans",sans-serif' font-weight="normal" fill="#1a1a1a" textLength="9.09" lengthAdjust="spacingAndGlyphs">1</text>
<text x="1350.55" y="1098.70" font-size="21.30" text-anchor="middle" font-family='"Liberation Sans",sans-serif' font-weight="normal" fill="#1a1a1a" textLength="9.09" lengthAdjust="spacingAndGlyphs">2</text>
<text x="1449.60" y="1098.70" font-size="21.30" text-anchor="middle" font-family='"Liberation Sans",sans-serif' font-weight="normal" fill="#1a1a1a" textLength="9.09" lengthAdjust="spacingAndGlyphs">3</text>
<text x="818.20" y="1067.50" font-size="21.30" text-anchor="end" font-family='"Liberation Sans",sans-serif' font-weight="normal" fill="#1a1a1a" textLength="9.09" lengthAdjust="spacingAndGlyphs">0</text>
<text x="818.20" y="1011.15" font-size="21.30" text-anchor="end" font-family='"Liberation Sans",sans-serif' font-weight="normal" fill="#1a1a1a" textLength="9.09" lengthAdjust="spacingAndGlyphs">5</text>
<text x="818.20" y="954.80" font-size="21.30" text-anchor="end" font-family='"Liberation Sans",sans-serif' font-weight="normal" fill="#1a1a1a" textLength="18.19" lengthAdjust="spacingAndGlyphs">10</text>
<text x="818.20" y="898.45" font-size="21.30" text-anchor="end" font-family='"Liberation Sans",sans-serif' font-weight="normal" fill="#1a1a1a" textLength="18.19" lengthAdjust="spacingAndGlyphs">15</text>
<text x="818.20" y="842.10" font-size="21.30" text-anchor="end" font-family='"Liberation Sans",sans-serif' font-weight="normal" fill="#1a1a1a" textLength="18.19" lengthAdjust="spacingAndGlyphs">20</text>
<text x="818.20" y="785.75" font-size="21.30" text-anchor="end" font-family='"Liberation Sans",sans-serif' font-weight="normal" fill="#1a1a1a" textLength="18.19" lengthAdjust="spacingAndGlyphs">25</text>
<text x="818.20" y="729.40" font-size="21.30" text-anchor="end" font-family='"Liberation Sans",sans-serif' font-weight="normal" fill="#1a1a1a" textLength="18.19" lengthAdjust="spacingAndGlyphs">30</text>
<text x="818.20" y="673.05" font-size="21.30" text-anchor="end" font-family='"Liberation Sans",sans-serif' font-weight="normal" fill="#1a1a1a" textLength="18.19" lengthAdjust="spacingAndGlyphs">35</text>
<text x="0.00" y="0.00" font-size="21.60" text-anchor="middle" font-family='"Liberation Sans",sans-serif' font-weight="bold" fill="#1a1a1a" transform="translate(1152.60 1120.00) scale(0.730 1)">w</text>
<text x="0.00" y="0.00" font-size="21.60" text-anchor="middle" font-family='"Liberation Sans",sans-serif' font-weight="bold" fill="#1a1a1a" transform="translate(796.50 853.50) rotate(-90) scale(1 0.730)">z</text>
<text x="393.60" y="572.90" font-size="38.20" text-anchor="middle" font-family='"Liberation Serif",serif' font-weight="bold" fill="#000">(a)</text>
<text x="1144.50" y="573.30" font-size="38.20" text-anchor="middle" font-family='"Liberation Serif",serif' font-weight="bold" fill="#000">(b)</text>
<text x="373.60" y="1192.30" font-size="38.20" text-anchor="middle" font-family='"Liberation Serif",serif' font-weight="bold" fill="#000">(c)</text>
<text x="1145.40" y="1192.50" font-size="38.20" text-anchor="middle" font-family='"Liberation Serif",serif' font-weight="bold" fill="#000">(d)</text>
<text x="373.20" y="1946.30" font-size="38.20" text-anchor="middle" font-family='"Liberation Serif",serif' font-weight="bold" fill="#000">(e)</text>
<text x="1150.20" y="1946.70" font-size="38.20" text-anchor="middle" font-family='"Liberation Serif",serif' font-weight="bold" fill="#000">(f)</text>
<path d="M99.4 1748.4 L320.8 1552.9 L317.8 1271.3 L85.9 1449.7 L99.4 1748.4Z" fill="#f9f9f9" stroke="#f9f9f9" stroke-width="1"/>
<path d="M320.8 1552.9 L675.8 1661.2 L688.6 1369.9 L317.8 1271.3 L320.8 1552.9Z" fill="#f2f2f2" stroke="#f2f2f2" stroke-width="1"/>
<path d="M99.4 1748.4 L475.7 1877.4 L675.8 1661.2 L320.8 1552.9 L99.4 1748.4Z" fill="#f5f5f5" stroke="#f5f5f5" stroke-width="1"/>
<path d="M124.1 1756.9 L344.1 1560 L342.2 1277.8M174.7 1774.2 L392 1574.7 L392.1 1291.1M226 1791.8 L440.6 1589.5 L442.8 1304.5M278.2 1809.7 L489.8 1604.5 L494.1 1318.2M331 1827.8 L539.6 1619.7 L546.2 1332M384.7 1846.2 L590.2 1635.1 L599 1346.1M439.2 1864.9 L641.4 1650.7 L652.6 1360.3M115.9 1426.6 L128 1723.2 L501.6 1849.4M146 1403.5 L156.6 1697.9 L527.6 1821.4M175.3 1380.9 L184.6 1673.2 L552.9 1794M204.1 1358.8 L212 1649 L577.7 1767.2M232.2 1337.2 L238.9 1625.3 L601.9 1741M259.7 1316 L265.1 1602.1 L625.7 1715.4M286.6 1295.3 L290.9 1579.3 L648.9 1690.3M676.3 1650.2 L320.7 1542.3 L98.9 1737.2M678.2 1606.8 L320.2 1500.3 L96.9 1692.8M680.1 1562.9 L319.8 1457.8 L94.9 1647.7M682.1 1518.3 L319.3 1414.7 L92.8 1602.1M684 1473.2 L318.9 1371.1 L90.7 1555.8M686.1 1427.4 L318.4 1326.9 L88.6 1508.8M688.1 1381 L318 1282.1 L86.4 1461.1" stroke="#b0b0b0" stroke-width="1.15" fill="none"/>
<path d="M99.4 1748.4 L475.7 1877.4M675.8 1661.2 L475.7 1877.4M675.8 1661.2 L688.6 1369.9" stroke="#222" stroke-width="1.1" fill="none"/>
<path d="M126 1755.2 L120.2 1760.3M176.6 1772.5 L170.9 1777.7M227.9 1790.1 L222.3 1795.4M280 1807.9 L274.5 1813.3M332.8 1826 L327.4 1831.5M386.5 1844.4 L381.1 1849.9M440.9 1863 L435.6 1868.6M498.5 1848.4 L507.9 1851.5M524.4 1820.4 L533.8 1823.5M549.8 1793 L559.1 1796M574.6 1766.2 L583.8 1769.2M598.9 1740 L608 1742.9M622.6 1714.4 L631.7 1717.3M645.9 1689.3 L654.9 1692.1M673.3 1649.3 L682.2 1652M675.2 1605.9 L684.2 1608.6M677.1 1562 L686.2 1564.6M679 1517.5 L688.2 1520.1M681 1472.3 L690.2 1474.9M683 1426.6 L692.2 1429.1M685 1380.2 L694.3 1382.7" stroke="#222" stroke-width="1.1" fill="none"/>
<path d="M388.4 1556.8l 18.1-1.3 63.7-6.1 33.4-2.3 34.3-.7 14.8.5 13.6 1 13.3 1.8 11.7 2.5 10.5 3.2 8.9 3.9 7.7 4.6 6.4 5.4 5.1 6.1 3.6 6.8 1.7 4.8 1 5.1 .4 11.1-2 12.2-4.3 13.2-6.7 14.1-8.7 14.3-10.6 14.4-12.5 14.5-13.5 13.6-14.5 12.6-15.4 11.6-15.6 10-15.7 8.5-15.4 6.6-15.3 4.9-14.9 3-12.8 1.3-12.4-.2-12.1-1.4-12-2.9-11.9-4.2-11.8-5.6-11.9-7.1-12.1-8.6-16.4-13.6-18.6-17.6-29-29.8-31.3-33.5-13.3-15.4-10.1-13.1-7.9-12.2-6-11.8-4.3-11.8-2.5-11.7-.7-11.9 1-11.8 2.9-11.9 4.5-11.7 6.3-11.3 7.7-10.3 9.8-10.1 10.7-7.9 5.5-3 5.5-2.3 5.4-1.7 5.3-.9 5.4-.2 5 .7 4.7 1.4 4.1 2.3 3.5 2.9 2.6 3.5 1.6 3.9 .5 4-.4 2.9-1 2.7-3.8 4.7-6 3.9-8.1 2.8-10.3 1.8-11.4.4-11.4-1-10.5-2.3-7.8-3-6.3-3.6-4.8-4.4-3.2-5-1.6-5.6 .1-5.9 1.9-6.3 3.5-6.3 3.6-4.6 4.5-4.5 5.1-4.1 5.6-3.6 5.9-3.2 6.3-2.5 6.5-1.9 6.4-1.2 6.3-.6 6.1.1 6.1.7 5.9 1.4 5.7 2 5.5 2.6 5.3 3.2 5 3.8 5.3 5 5 5.6 4.5 6.4 4.2 7.1 3.8 7.8 3.3 8.3 2.7 8.6 1.9 8.4 .9 6.4 .2 5.5-.6 4.6-1.3 4-2 3.3-3 2.9-3.8 2.6-4.9 2.2-9.8 3-12.9 2.6-15.9 2-17.8 1.5-17.7.6-16.9-.1-15.7-.8-14.4-1.6-11.5-2.1-10.3-2.7-9-3.3-7.9-4-6.4-4.4-5.2-5.1-3.8-5.6-2.5-6.2-1.1-5.6-.1-5.9 .8-6.2 1.7-6.5 2.7-6.9 3.6-6.8 4.5-7.2 5.4-7.2 6.1-7.2 6.9-7.2 15.7-13.6 17.1-11.8 18-9.8 16.1-6.6 16.1-4.5 15.5-2.3 15-.1 14.4 2 14.1 4.3 13.7 6.4 13.4 8.6 10.6 8.6 11.1 10.3 38.7 41.6 18.3 17.6 19.7 15.9 40 28.7 14.9 12.8 7.9 8.6 6 8.6 4.4 8.9 2.7 9.2 1.1 11.3-1.2 11.6-3.5 11.9-5.8 11.7-7.9 11.5-9.5 10.4-10.9 8.8-11.6 7-11.3 4.6-11.1 2.4-11 .4-10.4-1.7-9.8-3.9-9-5.9-8-7.7-6.7-9.4-4.2-8.4-2.9-8.6-1.5-8.2 .2-7.2 1.7-5.7 3.1-4.8 4.7-3.9 6.5-3.4 10.8-3.5 14-2.7 16.7-1.8 17.6-.7 16.4.3 15 1.4 13.3 2.5 11.5 3.4 7.1 3 6 3.6 5.1 4 4.1 4.5 3.1 4.9 2.1 5.5 1 5.8 0 6.3-1 6.7-2.2 7-3.2 7.3-4.1 7.3-5.2 7.4-6 7.1-6.8 7-7.4 6.6-13 9.6-13.7 7.7-14 5.8-14.2 3.8-13.9 1.6-13.4-.5-13.3-2.6-12.8-4.7-7.8-4-7.6-4.8-7.6-5.7-7.7-6.5-13.2-13.3-30.1-33.8-9.3-9-9.2-7.8-11.4-8.1-12.8-7.8-13.6-7.2-36.5-18.1-10.3-5.7-8.7-5.5-9.2-7-7.6-7.2-5.9-7.6-4.4-7.9-2.7-8-1.2-8.3 .1-8.6 1.6-8.8 3.1-9.2 4.4-9.2 5.8-9.1 7-8.8 8.1-8.5 9-7.6 9.5-6.7 10-5.6 9.9-4.2 9.9-2.9 9.7-1.5 9.5-.2 10.3 1.6 9.8 3.2 9.3 5.1 8.8 6.8 7.4 7.5 7.1 9 6.1 9.4 12.4 20.7 6.7 9.2 4.2 4.7 4.5 3.9 4.9 3.5 5.5 3 13.1 5 17 4 17.9 2.9 51.4 6.9 27.5 5.3 12.4 3.5 10.8 3.9 9.4 4.4 8 5 4.8 3.9 4.1 4 3.4 4.4 2.9 4.7 2.1 4.9 1.5 5.3 .9 5.5 .1 5.6-.4 6.1-1.2 6.2-4.3 13.2-6.8 13.5-9.2 13.7-11.5 13.6-13.3 12.7-14.5 11.3-15.1 9.3-15.2 7.2-15.1 5-14.9 2.6-14.5.4-12.5-1.5-12.3-3.4-11.9-5.2-11.8-7-9.7-7.2-10-8.6-10.2-10-29-30-10.1-9.2-9.9-8-11-7.9-12.3-7.7-40.6-22.1-13.9-8.2-12.7-8.9-9.9-9-7.3-8.9-5.2-9.4-3-9.8-1-10.3 1.2-10.8 3.3-11.2 5.4-11.3 7.3-11.1 9.1-10.7 10.4-9.5 11.4-8.3 11.8-6.4 11.8-4.6 11.7-2.6 11.3-.5 10.8 1.5 8.5 2.7 8.1 4.1 7.6 5.4 7.1 6.7 6.4 7.7 6.1 8.9 15.7 29.6 5.6 8.9 3.7 4.4 4 3.8 4.5 3.3 5 2.7 6 2.5 6.9 2.1 17.3 3.4 18.6 2.3 53.9 5 29 4.3 12.8 2.9 11.1 3.2 9.8 3.9 8.5 4.3 8.6 6 6.8 6.8 4.9 7.7 3.1 8.3 1.3 9.4-.6 9.9-2.4 10.7-4.3 11.2-6.3 12-8.1 12.1-9.8 12-11 11.4-12 10.4-12.7 9.3-13.1 8.1-13.3 6.4-12.3 4.6-12 3.2-11.8 1.7-11.6.4-11.3-1.1-11.1-2.4-10.9-3.9-10.8-5.3-13.5-8.7-14-11.4-12.3-11.8-30-30.7-17.8-16-10.3-7.9-11.1-7.8-39.8-24.9-14.7-10.1-7.5-6.1-6.4-5.9-5.5-6-4.5-6.1-5.2-9.8-3.1-10.2-1-10.6 1.2-11 3.4-11.4 5.4-11.4 7.4-11.2 9.2-10.5 10.5-9.4 11.5-8 11.9-6 11.8-3.9 11.5-1.7 11.1.4 10.4 2.6 9.7 4.7 5.6 3.9 5.2 4.6 4.9 5.4 4.4 6.1 4 6.8 3.5 7.4 3 7.8 2.2 7.8 1.2 6.6 .4 5.9-.3 5-1.2 4.3-1.9 3.5-2.9 3-3.8 2.7-5 2.3-9.1 2.9-11.8 2.4-14.7 2-16.6 1.5-16.9.8-16.5.1-15.4-.6-14.2-1.3-11.5-1.8-10.4-2.3-9.4-2.9-8.1-3.4-6.9-3.9-5.7-4.4-4.6-5-3.4-5.5-1.8-5.1-1-5.2-.2-5.6 .7-5.8 1.5-6.2 2.4-6.4 3.3-6.6 4-6.8 10.6-13.8 13.1-13.4 15.1-12.5 16.7-11 15.7-8.2 15.7-6.3 15.6-4.3 15.2-2.1 14.4-.1 14.2 2 13.8 4.1 13.2 6.1 7.6 4.5 7.5 5.3 15.4 12.9 13.3 13.4 32 34.8 9.7 9.5 9.6 8.6 18.7 14.8 38.7 27.2 14.4 11.9 8 8.3 6.2 8.3 4.6 8.4 3.1 8.8 1.7 11.2-.6 11.5-2.9 11.7-5.2 11.8-7.3 11.6-9.1 10.7-10.5 9.3-11.5 7.6-11.2 5.2-11.3 3.1-11 1.1-10.7-1.1-10.1-3.1-9.3-5.2-8.4-7.1-7.3-8.9-4.9-8.2-3.7-8.8-2.4-8.9-.7-8 .8-6.3 2.2-5.4 3.8-4.4 5.5-3.7 8.8-3.6 11.7-2.9 14.7-2.3 16.6-1.5 16.7-.4 15.9.5 14.5 1.5 12.8 2.4 8.5 2.5 7.5 2.9 6.4 3.4 5.5 3.9 4.5 4.4 3.5 4.9 2.4 5.4 1.4 5.7 .4 6.4-.8 6.8-1.8 7-3 7.4-4 7.5-4.9 7.6-5.8 7.3-6.7 7.2-13.2 11.8-14.6 10-15.3 7.9-15.4 5.4-15.2 3-7.5.6-7.5-.1-7.4-.6-7.1-1.3-7.2-1.9-7-2.5-8.4-4-8.4-4.9-8.3-5.9-8.3-7-14.2-14-31.5-35-9.4-9-9.4-7.9-10.9-8-12.3-7.7-47.1-24.8-17.8-10.8-8.9-6.7-7.3-6.8-5.8-7-4.5-7.4-3.2-7.8-1.8-8.3-.3-8.5 1.1-8.9 2.6-9.1 3.9-9.2 5.4-9.2 6.6-8.9 7.9-8.7 8.8-7.9 9.4-7 9.8-5.8 9.9-4.5 9.9-3.1 9.8-1.8 9.5-.3 10.6 1.4 10.1 3.3 9.6 5.2 8.8 7 7.5 8 7.1 9.5 6 9.9 11.7 21.3 6.1 9.1 3.9 4.5 4.3 3.9 4.7 3.3 5.3 2.8 13 4.7 17.3 3.6 18.2 2.4 51.4 5.5 27.2 4.4 11.8 2.7 10.6 3.1 9.3 3.5 8.1 4 8.8 5.7 7.1 6.4 5.3 7.2 3.6 7.9 1.9 8.7 .2 9.4-1.6 10.1-3.4 10.6-5.2 11.4-7.1 11.8-8.7 11.7-10 11.2-11.1 10.6-11.9 9.6-12.5 8.5-12.5 6.9-12.6 5.6-12.4 4-12.5 2.6-12 1-11.7-.5-11.5-2-11.2-3.4-11.2-5.1-14-8.6-14.4-11.5-12.7-12-30.7-31.6-9.4-8.7-9.3-7.7-10.4-7.8-11.5-7.7-40.5-24.1-14.9-9.8-7.6-5.8-6.5-5.7-5.5-5.8-4.7-5.9-5.4-9.5-3.4-9.9-1.2-10.4 .8-10.9 3-11.3 5.1-11.4 7.2-11.2 8.8-10.6 10.4-9.7 11.3-8.3 11.9-6.5 12-4.5 11.6-2.3 11.3-.2 10.8 1.9 10.1 4 5.5 3.3 5.2 3.9 4.9 4.6 4.6 5.3 4.3 5.9 4 6.5 7.2 15 3.9 10.8 3.9 12.8 4.4 16.6 1.8 9.5 0 4.1-1 2.8-2.4 2.2-3.9 1.9-13.2 3-22.9 3.2-30.2 3.1-29.2 1.9-23.2.7-21-.2-18.6-1.1-16.6-2.1-13.8-2.9-11.9-3.7-10.2-4.7-8.2-5.5-6.2-6.2-4.5-7.2-2.6-8.2-.7-8.7 .7-7.2 1.9-7.6 2.9-7.9 3.9-8.1 5-8.5 6-8.7 6.9-8.7 7.7-8.6 8.6-8.7 9.2-8.4 19.9-15.8 10.4-7.2 10.8-6.7 10.8-5.9 10.7-5.2 18.8-7.3 18.3-4.9 17.5-2.5 8.6-.3 8.3.4 8.1.9 8.1 1.5 8 2.2 7.9 2.7 15.5 7.4 15.7 10 15.9 12.7 17.4 16.4 79 82.3 11 12.6 8.5 11.1 6.7 10.5 4.9 10.3 3.9 12.1 1.7 12-.4 12.3-2.6 12.3-4.8 12.3-6.8 11.7-8.4 10.6-9.9 9.1-5.6 4-5.7 3.4-5.9 2.8-5.9 2-5.8 1.4-5.7.6-5.6-.2-5.3-.9-5.3-1.7-5-2.5-4.4-3.3-3.6-3.9-2.9-4.4-1.9-4.7-.7-4.7 .4-4.4 1.2-3.7 2.2-3.3 3.1-3 3.9-2.6 4.7-2.2 5.6-1.8 13.4-2.4 15.6-.4 15.1 1.8 6.7 1.6 6 2 5.3 2.5 4.6 2.9 5.8 5.7 2 3.3 1.4 3.5 .9 3.7 .1 3.8-1.4 8.2-4 8.6-6.3 8.4-8.2 7.7-9.6 6.6-7.2 3.7-7.5 2.8-7.7 1.9-7.7 1.1-7.6.1-7.5-.8-7.3-1.6-7.1-2.6-6.7-3.4-6.5-4.3-6.3-5.1-6-5.9-5.7-6.8-5.6-7.8-16.7-27.2-6.5-9.3-4.2-4.8-4.4-4.1-4.7-3.7-5.3-3.2-6.2-3-7-2.7-17.2-4.6-18.9-3.5-60.1-9-18.2-3.8-15.3-4.2-15.1-5.8-12.3-6.7-5.2-3.8-4.4-4-3.7-4.2-3.1-4.6-2.5-5-1.8-5.4-1-5.7-.3-5.8 .6-6.3 1.3-6.4 2.1-6.6 2.8-6.7 7.9-14.2 10.8-14.2 13-13.6 14.8-12.7 15.1-10.6 15.6-8.7 15.7-6.6 15.5-4.5 14.9-2.1 14.4.1 13.8 2.3 13.4 4.6 7.6 3.7 7.6 4.5 7.7 5.3 7.7 6.3 13.4 12.5 31.7 32.8 9.7 8.9 9.7 7.8 10.8 7.6 12.1 7.5 43.4 23.2 15.9 9.5 8.1 5.8 6.8 5.7 5.8 6 4.7 6.1 3.3 5.3 2.5 5.6 1.9 5.7 1.1 6 .4 6.1-.3 6.3-1 6.5-1.7 6.6-2.5 6.7-3.2 6.8-3.9 6.7-4.5 6.5-10.7 12.5-12.4 10.8-8.8 5.9-9.1 5-9.3 3.7-9.2 2.6-9.1 1.3-8.9.1-8.7-1.2-8.4-2.4-7.1-3-6.8-4.1-6.5-4.9-6.3-5.9-5.8-6.6-5.7-7.6-16.4-26.2-6.2-8.6-8.2-8.3-4.6-3.3-5-3-6.1-2.7-6.8-2.4-16.8-4.2-18.8-3-62-8.1-19-3.6-16-4.1-15.8-5.8-12.8-6.8-5.3-3.8-4.5-4-3.9-4.5-3.1-4.6-2.5-5.2-1.7-5.6-.9-5.8-.1-6 .7-6.3 1.5-6.6 2.3-6.7 3.1-7 3.9-7.2 4.6-7.3 11.4-14.5 13.9-14.2 15.5-12.8 15.7-10.6 16-8.5 16-6.5 15.7-4.2 15-1.8 14.6.4 14.1 2.7 13.7 5 7.6 3.9 7.5 4.6 7.6 5.4 7.7 6.3 13.2 12.5 31.4 32.2 9.4 8.7 9.3 7.6 10.5 7.8 11.7 7.6 42.3 24.1 15.7 10 8 6.1 6.7 6.1 5.6 6.1 4.5 6.4 3.2 5.7 2.4 6 1.6 6.1 .8 6.3 .1 6.5-.7 6.7-1.5 6.8-2.2 6.9-3.1 7-3.8 7-4.5 6.9-5.2 6.6-5.7 6.3-6.2 5.9-6.6 5.4-6.9 4.7-8.2 4.7-8.4 3.7-8.3 2.7-8.4 1.7-8.2.6-8-.4-7.7-1.5-7.5-2.5-6.9-3.3-6.7-4.3-6.3-5.2-6-6.2-5.5-6.9-5.4-8-14.7-26.2-5.3-8.3-7.1-7.9-8.5-5.8-5.7-2.7-6.6-2.2-16.3-3.7-19.4-2.6-49.5-4.6-22.9-2.8-22.5-3.9-18.7-5-9.4-3.4-8.3-3.9-7.1-4.3-6.1-4.7-5-5.1-4-5.7-2.8-6.1-1.8-6.5-.6-6.3 .3-6.6 1.2-6.9 2.1-7.2 3-7.5 4-7.8 4.8-7.6 5.6-7.9 6.6-8 7.1-7.8 16.1-14.7 17.6-13.2 18.5-10.9 16.7-7.5 16.3-5.2 15.9-2.9 15.2-.5 14.6 1.8 14.3 4.2 13.9 6.5 13.8 8.9 8.7 6.9 9.2 8.2 37.5 37.9 19.2 17.2 21.2 15.5 43.9 28.2 8.8 6.5 7.4 6.2 8.1 8.2 6.3 8.3 4.7 8.6 3 8.9 1.4 10.2-.5 10.5-2.5 10.9-4.3 10.9-6.3 11-7.8 10.3-9.3 9.5-10.1 8.1-10.4 6.4-10.6 4.8-10.7 3-10.5 1.2-10.2-.5-9.8-2.3-9.2-4.1-8.6-5.8-5.3-4.7-5-5.5-4.6-6.2-4.3-6.9-3.8-7.5-3.5-8.2-5.7-18.1-2.3-13.3-.1-4.7 .8-3.7 1.5-3.1 2.4-2.6 3.5-2.2 4.6-1.9 11-3 15.6-2.6 19.9-2.4 21.4-1.7 19.4-.7 17.8 0 16.2.8 14.5 1.7 11.9 2.2 10.6 2.8 9.1 3.6 7.7 4.2 6.6 4.9 5.1 5.6 3.7 6.2 2.5 6.9 1.1 9.7-1.1 10.4-3.3 11.4-5.3 11.9-7.5 12.4-9.2 12.2-10.9 12.1-12.1 11.3-12.6 10-13.2 8.8-13.4 7.4-13.5 6-13.4 4.4-13.3 2.8-12.9 1.3-12.8-.3-8.5-1.2-8.5-1.9-8.4-2.6-8.2-3.4-8.2-4.2-8.2-5-8.3-5.8-8.3-6.6-18.4-17.2-34.3-36.4-16.1-15.9-16.4-14.9-32.3-27.2-12.3-11.5-7-7.7-5.9-7.4-4.7-7.4-3.6-7.3-3.4-10.5-1.4-10.6 .5-11 2.5-11 4.4-11.2 6.3-10.8 8-10.2 9.2-9.1 10.2-7.6 10.6-5.8 10.7-3.8 10.6-1.6 9.9.5 9.3 2.7 8.3 4.8 7 6.7 3.6 5.3 2.7 5.6 1.7 5.8 .4 5.6-.6 5.1-1.8 4.5-2.8 4-4 3.5-5.9 3.5-6.2 2.6-7.5 2.3-8.7 1.7-9.9 1.2-10.6.6-10.8-.1-10.6-.7-16.9-2.7-7.5-2-6.9-2.4-6-2.9-5.2-3.2-4.4-3.6-3.4-3.9-2.7-4.2-1.7-4.7-.9-4.9 .1-5.2 .9-5.4 1.9-5.6 2.7-5.6 3.6-5.8 4.3-5.6 5-5.5 11.8-10.1 13.3-8.6 14.3-6.5 14.3-4.1 14-1.6 6.9 0 6.8.7 6.5 1.2 6.5 1.9 8.9 3.7 8.6 4.9 8.3 6.2 8 7.4 7 7.7 7 9 20.9 31.5 8 10.9 9.9 10.5 11.1 8.4 13.3 7.1 16.5 6.3 17 4.9 44.5 11.5 22.4 7.2 10.1 4.2 8.7 4.5 7.6 4.8 6.5 5.1 7.7 8.5 2.9 4.4 2.4 4.9 1.7 5 1.1 5.2 .6 5.4-.1 5.6-1.9 11.9-4.4 12.4-6.7 12.7-8.9 12.5-11 12.2-12.3 10.9-13.3 9.4-13.7 7.4-13.6 5.3-13.7 3.3-13.4 1-13.1-1.1-10.9-2.6-10.6-4.3-10.2-5.9-10.1-7.6-8.2-7.6-8.5-9-25-31.2-9.5-10.8-11-10.2-11.9-8.6-12.5-7-14.9-6.6-51.7-18.2-17.9-7.1-15.2-7.5-12.1-7.9-5.9-5-5.1-5.4-4.1-5.6-3.2-5.9-2.2-6.1-1.3-6.5-.4-6.6 .6-6.9 1.8-8.4 3.1-8.6 4.3-8.7 5.4-8.7 6.6-8.6 7.5-8.2 8.2-7.7 9-7.1 9.1-6.2 9.4-5.3 9.5-4.4 9.6-3.3 9.3-2.3 9.1-1.3 9-.2 8.7.9 10.4 2.5 10 4.1 9.6 5.8 9.3 7.3 7.7 7.7 7.7 9.2 22.4 31.4 8.4 10.6 10.2 10 11.5 8.1 13.1 6.6 16.1 5.9 16.6 4.7 42.7 10.8 21.3 6.6 9.5 3.8 8.4 3.9 7.4 4.1 6.5 4.6 8.9 8.2 3.5 4.5 2.9 4.7 2.2 4.9 1.6 5.2 1 5.5 .4 5.6-.3 5.8-.9 6.1-3.8 12.6-6.3 13-8.5 12.9-10.9 12.8-12.5 11.6-13.5 10-14.2 8.1-14.2 5.8-14.3 3.7-14 1.3-13.4-1-11.1-2.7-10.7-4.3-10.4-5.9-10.2-7.6-8.3-7.7-8.6-9-25.3-31.3-9.4-10.7-10.9-10.1-11.7-8.6-12.4-7.1-14.7-6.6-14.9-5.7-38.3-13.6-19.5-8-9.2-4.7-8-4.7-6.9-5-6.1-5.3-6.9-8.1-4.9-8.9-2.8-9.5-.7-9.9 1.4-10.7 3.5-11 5.6-11.2 7.6-11.2 11-12.7 13-11.7 14.2-9.8 14.7-7.7 14.6-5.2 7.2-1.6 7.1-1.1 7-.4 6.8.2 6.6.9 6.5 1.5 8.9 3.1 8.5 4.4 8.3 5.7 8 6.9 7 7.3 7 8.6 21 30.1 8.2 10.4 10 10 11.2 8.1 13.3 6.7 16.4 5.9 17 4.7 43.6 10.7 21.8 6.6 9.7 3.8 8.6 3.9 7.4 4.2 6.6 4.6 4.8 4 4.1 4.3 3.5 4.5 2.8 4.7 2.2 5 1.6 5.2 .9 5.4 .3 5.6-.3 5.9-1 6.2-3.8 12.6-6.4 13.1-8.7 13-11 12.8-12.6 11.7-13.7 10-14.2 8.1-14.2 5.8-14.3 3.6-14 1.3-13.6-1-11.1-2.7-10.8-4.3-10.5-5.9-10.2-7.6-8.4-7.7-8.6-9.1-25.6-31.3-9.6-10.8-10.9-10.2-11.7-8.6-12.3-7.1-14.5-6.7-52.5-19.5-19.1-8.1-9.2-4.7-7.8-4.8-6.9-5-5.9-5.1-6.9-8.3-4.9-8.8-2.8-9.6-.6-10.1 1.5-10.7 3.6-11 5.7-11.4 7.6-11.2 11-12.5 12.7-11.3 14-9.7 14.6-7.5 14.3-5.1 14.1-2.6 6.9-.4 6.7.3 6.6.8 6.3 1.5 8.9 3.2 8.5 4.4 8.2 5.6 8 7 6.9 7.3 6.9 8.6 20.8 30.2 8 10.3 9.9 10 11.2 8 13.3 6.6 16.6 5.8 17 4.6 44.6 10.5 22.3 6.6 9.9 3.7 8.8 4 7.6 4.3 6.8 4.7 4.7 4 4.1 4.3 3.5 4.6 2.8 4.7 2.1 4.9 1.5 5.3 .9 5.5 .3 5.7-.4 6-1 6-4.1 12.8-6.5 13.1-8.9 13.1-11.2 13-12.7 11.6-13.7 10-14.4 8.1-14.5 5.8-14.3 3.6-14 1.3-13.6-1.1-11.1-2.6-10.9-4.3-10.5-6-10.4-7.7-8.4-7.7-8.7-9.1-25.9-31.4-9.6-10.8-11-10.2-11.7-8.6-12.1-7.2-14.4-6.8-51.5-19.7-18.8-8.2-9-4.8-7.8-4.8-6.8-5-5.7-5.2-6.9-8.3-4.9-8.9-2.7-9.7-.6-10.2 1.6-10.7 3.7-11.2 5.9-11.3 7.7-11.2 10.9-12.3 12.6-11 13.8-9.5 14.3-7.3 14.1-4.9 13.8-2.5 6.7-.3 6.6.3 6.5.8 6.2 1.5 8.8 3.2 8.5 4.4 8.1 5.6 7.9 7 6.9 7.4 6.8 8.6 20.4 30.3 7.8 10.3 9.9 9.9 11 7.9 13.3 6.5 16.8 5.7 17.2 4.4 45.5 10.2 23.1 6.5 10.3 3.9 9 4 7.9 4.4 6.8 4.7 4.7 4.1 4.1 4.2 3.4 4.6 2.7 4.7 2.2 5.1 1.5 5.3 .8 5.6 .2 5.6-.5 6.1-1.1 6.2-4.2 12.8-6.7 13.3-9 13.1-11.4 12.9-12.8 11.7-14 10.1-14.5 8.1-14.5 5.9-14.5 3.6-14.1 1.2-13.7-1.1-11.2-2.7-11-4.3-10.6-6-10.5-7.8-8.5-7.6-8.8-9.2-26.1-31.5-9.8-10.9-11.1-10.2-11.6-8.7-12.1-7.2-14-6.9-50.3-19.9-18.3-8.3-8.9-4.8-7.6-4.8-6.7-5.1-5.7-5.2-7-8.5-4.7-9-2.7-9.7-.5-10.3 1.7-10.8 3.9-11.3 5.9-11.4 7.9-11.2 10.9-12 12.4-10.8 13.6-9.1 13.8-7 13.8-4.7 13.5-2.4 12.9 0 6.4.9 6.1 1.4 8.7 3.2 8.5 4.4 8 5.7 7.8 7 6.8 7.5 6.8 8.7 19.9 30.4 7.6 10.3 9.7 9.8 5.2 4.1 5.7 3.7 13.3 6.3 16.9 5.5 17.5 4.2 46.9 9.9 23.9 6.4 10.7 3.9 9.3 4.1 8.2 4.5 7.1 4.9 4.6 4 4 4.4 3.4 4.6 2.7 4.7 2.1 5.2 1.4 5.3 .7 5.5 .2 5.8-.6 6-1.2 6.3-4.4 13-7 13.4-9.3 13.4-11.6 13-12.9 11.7-14.2 10.1-14.7 8.1-14.6 5.9-14.7 3.6-14.1 1.2-13.9-1.1-11.4-2.7-11-4.4-10.8-6.1-10.6-7.8-8.6-7.8-9-9.2-26.5-31.6-9.9-10.9-11.1-10.3-11.7-8.8-11.8-7.2-13.7-6.9-48.9-20.4-17.8-8.4-8.6-4.8-7.5-4.9-6.5-5-5.5-5.2-7-8.6-4.7-9.3-2.6-9.7-.4-10.5 1.8-11 4.1-11.4 6.1-11.4 8.2-11.3 10.6-11.5 12.2-10.4 13.1-8.7 13.5-6.7 13.5-4.5 13.1-2.2 12.6.1 12.1 2.3 8.7 3.2 8.3 4.5 8 5.7 7.6 7 6.8 7.6 6.6 8.9 19.3 30.6 7.3 10.2 4.6 5.2 4.8 4.5 5.1 4 5.6 3.6 13.4 6.1 17 5.3 17.7 3.9 48.8 9.3 25.1 6.4 11.2 3.8 9.9 4.3 8.6 4.6 7.2 5.1 4.6 4 3.9 4.3 3.3 4.6 2.7 4.9 2 5.1 1.3 5.5 .7 5.6 0 6-.7 6.2-1.3 6.3-4.7 13.2-7.3 13.5-9.6 13.5-11.9 13.2-13.3 11.8-14.3 10.1-14.9 8.1-14.8 5.9-14.8 3.6-14.4 1.2-13.9-1.1-11.6-2.7-11.3-4.5-11-6.2-10.8-7.9-8.8-7.8-9-9.4-27.1-31.7-10.2-11.1-11.1-10.3-11.7-8.9-11.5-7.3-13.2-6.9-47-20.9-17-8.4-8.3-4.9-7.3-4.9-6.4-5.1-5.4-5.2-6.9-8.9-4.7-9.5-2.4-9.9-.3-10.6 2-11.1 4.3-11.6 6.4-11.5 8.3-11.2 10.5-11.1 11.7-9.8 12.6-8.1 13.1-6.4 12.8-4.1 12.6-2.1 12.2.1 11.6 2.3 8.7 3.2 8.3 4.6 7.9 5.8 7.6 7.2 6.7 7.8 6.5 9.2 18.4 31.1 6.8 10 4.3 5.1 4.6 4.4 4.9 3.9 5.5 3.4 6.2 3.1 7.1 2.8 17.2 4.8 18.2 3.6 51.2 8.3 14.5 3 12.4 3.2 12.1 3.9 10.5 4.3 9 4.8 7.7 5.3 4.5 4.1 3.9 4.3 3.2 4.5 2.5 4.9 2 5.2 1.2 5.3 .6 5.6 0 6-.8 6.3-1.4 6.3-4.8 13.3-7.3 13.6-9.7 13.5-11.8 13.2-13.4 12.1-14.3 10.4-14.9 8.5-15 6.2-14.8 4-14.5 1.7-14.2-.5-12.4-2.5-12.2-4.4-11.7-6.2-11.6-8.3-9.3-8-9.7-9.7-28.9-33.2-10.7-11.5-11.6-10.7-12.2-9.3-10.8-6.9-12.3-6.8-40.7-19.6-13.6-7.1-12.2-7.3-9.8-7.3-6.1-5.5-5.1-5.6-4.1-5.8-3.3-6.1-2.4-6.4-1.4-6.4-.5-6.8 .4-7 1.4-7.6 2.5-7.9 3.5-7.9 4.5-7.9 5.5-7.7 6.3-7.6 7-7.1 7.6-6.5 7.9-5.8 8.3-5.1 8.4-4.2 8.4-3.4 8.4-2.4 8.3-1.4 8-.5 7.8.4 11.1 2.4 10.5 4.4 9.8 6.4 9.2 8.4 7.5 8.9 7.1 10.7 6 10.7 11.2 22.3 5.2 8.9 6.5 8 7.3 6.2 5.4 3.1 6.1 2.8 15.2 4.5 19.9 3.5 31.6 3.8" stroke="#1f77b4" stroke-width="3.30" fill="none" stroke-linejoin="round" stroke-linecap="butt"/>
<text x="118.6" y="1786.1" font-size="25.2" text-anchor="middle" textLength="34.8" lengthAdjust="spacingAndGlyphs" font-family='"Liberation Sans",sans-serif' fill="#000">−6</text>
<text x="169.2" y="1803.5" font-size="25.2" text-anchor="middle" textLength="34.8" lengthAdjust="spacingAndGlyphs" font-family='"Liberation Sans",sans-serif' fill="#000">−4</text>
<text x="220.6" y="1821.3" font-size="25.2" text-anchor="middle" textLength="34.8" lengthAdjust="spacingAndGlyphs" font-family='"Liberation Sans",sans-serif' fill="#000">−2</text>
<text x="272.7" y="1839.2" font-size="25.2" text-anchor="middle" textLength="15.0" lengthAdjust="spacingAndGlyphs" font-family='"Liberation Sans",sans-serif' fill="#000">0</text>
<text x="325.6" y="1857.5" font-size="25.2" text-anchor="middle" textLength="15.0" lengthAdjust="spacingAndGlyphs" font-family='"Liberation Sans",sans-serif' fill="#000">2</text>
<text x="379.3" y="1876.0" font-size="25.2" text-anchor="middle" textLength="15.0" lengthAdjust="spacingAndGlyphs" font-family='"Liberation Sans",sans-serif' fill="#000">4</text>
<text x="433.8" y="1894.8" font-size="25.2" text-anchor="middle" textLength="15.0" lengthAdjust="spacingAndGlyphs" font-family='"Liberation Sans",sans-serif' fill="#000">6</text>
<text x="511.0" y="1876.8" font-size="25.2" text-anchor="middle" textLength="49.8" lengthAdjust="spacingAndGlyphs" font-family='"Liberation Sans",sans-serif' fill="#000">−15</text>
<text x="536.8" y="1848.7" font-size="25.2" text-anchor="middle" textLength="49.8" lengthAdjust="spacingAndGlyphs" font-family='"Liberation Sans",sans-serif' fill="#000">−10</text>
<text x="562.1" y="1821.2" font-size="25.2" text-anchor="middle" textLength="34.8" lengthAdjust="spacingAndGlyphs" font-family='"Liberation Sans",sans-serif' fill="#000">−5</text>
<text x="586.8" y="1794.3" font-size="25.2" text-anchor="middle" textLength="15.0" lengthAdjust="spacingAndGlyphs" font-family='"Liberation Sans",sans-serif' fill="#000">0</text>
<text x="610.9" y="1767.9" font-size="25.2" text-anchor="middle" textLength="15.0" lengthAdjust="spacingAndGlyphs" font-family='"Liberation Sans",sans-serif' fill="#000">5</text>
<text x="634.6" y="1742.2" font-size="25.2" text-anchor="middle" textLength="30.0" lengthAdjust="spacingAndGlyphs" font-family='"Liberation Sans",sans-serif' fill="#000">10</text>
<text x="657.7" y="1717.0" font-size="25.2" text-anchor="middle" textLength="30.0" lengthAdjust="spacingAndGlyphs" font-family='"Liberation Sans",sans-serif' fill="#000">15</text>
<text x="689.7" y="1665.3" font-size="25.2" text-anchor="middle" textLength="34.8" lengthAdjust="spacingAndGlyphs" font-family='"Liberation Sans",sans-serif' fill="#000">−3</text>
<text x="691.7" y="1621.9" font-size="25.2" text-anchor="middle" textLength="34.8" lengthAdjust="spacingAndGlyphs" font-family='"Liberation Sans",sans-serif' fill="#000">−2</text>
<text x="693.7" y="1578.0" font-size="25.2" text-anchor="middle" textLength="34.8" lengthAdjust="spacingAndGlyphs" font-family='"Liberation Sans",sans-serif' fill="#000">−1</text>
<text x="695.8" y="1533.5" font-size="25.2" text-anchor="middle" textLength="15.0" lengthAdjust="spacingAndGlyphs" font-family='"Liberation Sans",sans-serif' fill="#000">0</text>
<text x="697.8" y="1488.4" font-size="25.2" text-anchor="middle" textLength="15.0" lengthAdjust="spacingAndGlyphs" font-family='"Liberation Sans",sans-serif' fill="#000">1</text>
<text x="699.9" y="1442.6" font-size="25.2" text-anchor="middle" textLength="15.0" lengthAdjust="spacingAndGlyphs" font-family='"Liberation Sans",sans-serif' fill="#000">2</text>
<text x="702.1" y="1396.3" font-size="25.2" text-anchor="middle" textLength="15.0" lengthAdjust="spacingAndGlyphs" font-family='"Liberation Sans",sans-serif' fill="#000">3</text>
<text x="266.5" y="1856.7" font-size="30.2" text-anchor="middle" font-family='"Liberation Sans",sans-serif' font-weight="bold" fill="#000">x</text>
<text x="608.3" y="1802.1" font-size="30.2" text-anchor="middle" font-family='"Liberation Sans",sans-serif' font-weight="bold" fill="#000">y</text>
<text x="725.8" y="1521.5" font-size="30.2" text-anchor="middle" font-family='"Liberation Sans",sans-serif' font-weight="bold" fill="#000">w</text>
<path d="M799.1 1744.2 L1038.9 1547.8 L1036.3 1265.7 L785.1 1445 L799.1 1744.2Z" fill="#f9f9f9" stroke="#f9f9f9" stroke-width="1"/>
<path d="M1038.9 1547.8 L1422.6 1655.4 L1437.1 1363.5 L1036.3 1265.7 L1038.9 1547.8Z" fill="#f2f2f2" stroke="#f2f2f2" stroke-width="1"/>
<path d="M799.1 1744.2 L1205.8 1872.5 L1422.6 1655.4 L1038.9 1547.8 L799.1 1744.2Z" fill="#f5f5f5" stroke="#f5f5f5" stroke-width="1"/>
<path d="M843.8 1758.3 L1081.2 1559.7 L1080.4 1276.5M892.4 1773.6 L1127.2 1572.6 L1128.4 1288.2M941.6 1789.1 L1173.8 1585.6 L1177 1300.1M991.5 1804.9 L1220.9 1598.8 L1226.1 1312.1M1042 1820.8 L1268.5 1612.2 L1275.9 1324.2M1093.3 1837 L1316.8 1625.7 L1326.3 1336.5M1145.1 1853.3 L1365.6 1639.4 L1377.4 1349M792.2 1439.9 L805.9 1738.6 L1212 1866.3M826.9 1415.1 L838.9 1711.6 L1242 1836.3M860.8 1390.9 L871.2 1685.1 L1271.2 1807M894 1367.3 L902.8 1659.2 L1299.8 1778.3M926.3 1344.2 L933.7 1633.9 L1327.8 1750.4M958 1321.6 L963.9 1609.2 L1355.1 1723M988.9 1299.6 L993.5 1585 L1381.7 1696.3M1019.2 1278 L1022.5 1561.2 L1407.8 1670.2M1423.1 1646.1 L1038.8 1538.8 L798.7 1734.7M1425.3 1602.4 L1038.4 1496.5 L796.6 1690M1427.4 1558.2 L1038 1453.7 L794.4 1644.6M1429.7 1513.3 L1037.6 1410.3 L792.3 1598.6M1431.9 1467.8 L1037.2 1366.4 L790.1 1552M1434.2 1421.7 L1036.8 1321.8 L787.9 1504.7M1436.5 1374.9 L1036.4 1276.7 L785.6 1456.7" stroke="#b0b0b0" stroke-width="1.15" fill="none"/>
<path d="M799.1 1744.2 L1205.8 1872.5M1422.6 1655.4 L1205.8 1872.5M1422.6 1655.4 L1437.1 1363.5" stroke="#222" stroke-width="1.1" fill="none"/>
<path d="M845.9 1756.5 L839.6 1761.7M894.4 1771.8 L888.3 1777.1M943.7 1787.4 L937.6 1792.7M993.5 1803.1 L987.5 1808.5M1044 1819 L1038.1 1824.5M1095.2 1835.1 L1089.3 1840.7M1147.1 1851.5 L1141.3 1857.1M1208.6 1865.2 L1218.8 1868.5M1238.6 1835.2 L1248.8 1838.4M1267.9 1805.9 L1278 1809M1296.5 1777.3 L1306.5 1780.3M1324.4 1749.4 L1334.4 1752.3M1351.8 1722.1 L1361.6 1724.9M1378.5 1695.4 L1388.3 1698.2M1404.6 1669.3 L1414.3 1672M1419.9 1645.2 L1429.5 1647.9M1422 1601.5 L1431.8 1604.2M1424.2 1557.3 L1434 1559.9M1426.4 1512.4 L1436.3 1515M1428.6 1466.9 L1438.6 1469.5M1430.9 1420.8 L1440.9 1423.4M1433.2 1374.1 L1443.3 1376.6" stroke="#222" stroke-width="1.1" fill="none"/>
<path d="M995.6 1646.6l 6.9 4.3 8.6 4.4 22.6 9.4 24.8 8.2 26.4 6.7 26.3 5.1 27 3.5 27.1 1.8 26.6.3 26-1.4 24.9-3.1 23.1-4.7 20.7-6.2 17.9-7.5 7.7-4.2 7-4.6 5.9-4.6 4.9-5 3.8-4.9 2.8-5.1 1.8-5.7 .5-5.6-.9-5.7-2.2-5.4-3.5-5.2-4.8-5-5.9-4.7-7.1-4.3-7.9-3.8-9.1-3.4-9.9-2.9-10.6-2.4-11.2-1.9-12.1-1.3-24.7-.8-24.2 1.4-23.9 3.4-23.4 5.4-22.3 7.2-19.2 8.3-17.3 9.6-8.4 5.6-7.7 6.1-15.6 15-1.6.8-1.3-.6-1.3-2.5-1.7-4.8-4.5-17.4-2.7-14.7-1.5-13.9-.4-12.3 .7-12.1 1.7-11.7 2.8-11.6 3.5-10.4 4.4-10.3 5.3-10.1 6.2-9.9 7-9.6 8.1-9.8 25.8-27.1 2.7-4 .5-2.8-.8-1.2-1.5-.9-5.3-.7-7.8.7-9.2 2-8.2 2.5-8.7 3.4-33.2 15.3-8.3 2.5-7.1.7-4.6-.5-4.2-1.4-3.6-2.2-2.9-3.1-2.1-3.8-1.3-4.4-.5-4.8 .5-5.2 1.5-5.6 2.4-5.8 3.4-5.9 4.2-5.8 5-5.6 5.8-5.4 6.5-5.2 7.1-4.8 7.9-4.7 8.3-4.1 8.6-3.5 8.6-2.8 8.3-2 7.7-1.1 6.6-.2 5.3.9 4.2 2.1 1.3 1.5 .7 1.8-.2 4.5-2.4 5.9-5.8 9.3-21.2 29.8-10.7 16.8-13.6 24.3-25 50.4-7.1 11.4-6.9 7.9-7.2 5.2-3.8 1.7-4 1.1-4.2.5-4.4-.1-9.2-2-9.7-4.4-9.5-6.6-8.4-8.3-7-9.5-3.6-6.8-2.9-7-2-7.2-1.3-7.4-.4-7.4 .3-7.7 1.2-7.7 1.9-7.6 2.8-7.5 3.5-7.6 4.4-7.5 5-7.3 5.7-7.1 6.4-6.9 7.2-6.9 7.7-6.6 8.8-6.5 9.4-6.3 20.5-11.5 22.3-10 23.5-8.1 24.7-6.1 24.3-3.8 11.6-.9 10.9-.2 10.2.4 9 1.1 11.3 2.9 4.4 2 3.4 2.2 2.6 2.6 1.5 2.9 .6 3.1-.3 3.3-2.4 5.7-4.6 6.6-22.7 24.2-9.4 11.3-6.9 10.2-5.4 10.3-2.9 6.9-2.2 6.9-1.6 7.1-1 7.1-.3 7.1 .2 7.1 .8 7.1 1.5 7.1 4.4 13.1 6.5 12.4 8.6 11.9 10.5 11.1 11.5 9.5 12.9 8.6 14.6 7.7 19.9 8.3 1.6 1.1 .4.8-2.6 1.7-18.4 6.2-13.3 5.5-11.9 6.1-10.8 6.7-9.1 6.9-8 7.4-6.9 7.9-10.2 13.7-5.1 4.4-3.3 1.5-4.1 1-17.2 1.6-2.1.9-.4 1.2 1 1.3 2.1 1.5 7.3 3.3 10.2 3.3 12 2.9 12.3 2.2 12.9 1.6 13 1 13 .3 12.2-.3 11.7-.9 11.3-1.4 10.5-2 9.8-2.6 8.7-3 7.6-3.4 6.3-3.8 3.6-2.9 2.8-3 2-3.1 1.2-3 .3-3.1-.5-3-1.3-2.9-2.2-2.8-2.9-2.6-3.7-2.4-9.5-4.1-11.8-2.8-13.4-1.6-11.5-.2-12.1.7-12.3 1.5-12.2 2.4-13.6 3.7-13.1 4.7-9.9 4.3-17.4 9-5.6 2.3-6.3 1-6.7-1.5-9.9-4.8-13.3-8.6-13.7-10.3-12.5-10.9-10.1-10.3-8.7-10.4-7.4-10.6-5.9-10.8-5-12.3-3.2-12.5-1.4-12.4 .5-12.4 2.3-12.4 4.1-12.2 5.9-12 7.7-11.5 10-11.8 11.7-11 13.3-10.2 14.6-9.2 16.9-8.4 16.9-6.5 15.8-4 5.8-.6 3.5.4 .7.7 0 1-2.4 2.7-28.7 19.8-9.3 7.8-8.4 8.2-7.5 8.8-6.7 9.4-5.9 9.9-5.1 10.5-4.6 12.1-3.3 12.1-1.9 11.9-.5 11.4 .9 10.5 2.3 9.9 3.7 9.4 5.1 8.8 7.1 9 8.8 8.4 10.5 7.8 12 7.1 13.6 6.5 14.8 5.5 15.7 4.6 16.4 3.5 17.7 2.5 17.5 1.2 17-.1 16-1.5 14.4-2.7 12.2-4 9.2-5 3.2-2.7 2.4-2.9 1.3-3 .3-3.1-.8-3-1.9-2.9-3-2.7-3.8-2.5-10.4-4.1-13.1-2.8-15.1-1.2-16.3.4-17.1 1.9-14.6 2.8-14.2 3.8-13.7 4.8-13 5.7-11.8 6.4-10.8 7.1-8.3 6.7-14.2 13-3.1 1.5-3 .2-5.2-1.7-7.2-4.4-9.6-7.4-10-8.9-8.6-8.5-7.7-8.8-6.7-8.8-5.9-8.8-6.7-12.8-4.8-12.9-2.9-12.9-.9-13 .9-13 2.9-12.7 4.8-12.6 6.7-12.2 9-12.4 10.9-11.8 12.6-11 14.2-10 16.4-9.4 17-7.6 16.9-5.4 6.8-1.3 4.4-.1 1.1.4 .2.7-2 2.4-29.2 19-9.7 7.8-8.8 8.4-7.8 8.8-7.1 9.5-6.4 10.2-5.7 10.9-5.5 13-4.3 13.2-2.8 12.9-1.4 12.1 .1 11 1.6 10 3 9.4 4.6 8.8 6.2 8.5 7.9 8 9.6 7.6 11.1 6.9 12.7 6.4 13.9 5.6 15 4.9 15.9 3.9 16.8 3.1 16.9 1.9 16.9.9 16.6-.2 15.8-1.4 14.4-2.4 12.9-3.5 10.7-4.4 5.8-3.3 4.5-3.6 3.2-3.9 1.8-3.9 .3-4.1-1.2-3.9-2.7-3.7-4-3.4-5.3-3.1-6.4-2.6-7.3-2.2-8.2-1.7-18.5-1.8-20.4.3-17.4 2-17.4 3.5-16.9 4.8-16 6-12.7 6.1-11.6 6.9-12.4 9.1-15.4 14-3 1.7-3 .2-3.7-1.3-4.7-3.1-13.6-12.1-13.7-14.9-11.1-15.1-7.5-12.9-5.6-13-3.8-13-1.9-13.1-.1-13 1.9-13 3.7-12.7 5.6-12.4 7.7-12.6 9.7-12 11.5-11.4 13.1-10.5 15.3-10.1 16.5-8.6 17-6.7 7.1-1.9 3.8-.3 .1.9-2 1.6-19.9 11.5-12.7 8.6-11 9-10.1 10-9.7 11.5-9.4 13.2-8.2 13.3-15.7 27.3-7 10.7-4.1 5.2-4.1 4.2-4.2 3.3-4.3 2.5-4.1 1.7-4.2.9-4.5.3-4.6-.3-9.8-2.5-9.8-5.1-9.4-7.1-8.1-8.8-6.6-9.9-4.8-10.9-2-7.1-1.2-7.2-.4-7.3 .3-7.4 1.1-7.5 1.9-7.5 2.7-7.4 3.3-7.3 4.1-7.3 4.9-7.2 5.5-7.1 6.4-7 14.4-13.1 17-12.3 20.2-11.8 22.2-10.1 23.5-8.4 24.1-6.2 24.5-4.1 11.7-1 11.2-.3 10.4.3 9.2 1 7.9 1.7 6.5 2.3 5.4 3.3 3.3 3.9 1.3 4.4-.9 5.1-2.6 5.3-4.5 6-21.2 22.6-9 10.7-7.1 10.1-5.6 10.1-5.1 13.3-3 13.6-.6 13.8 1.6 13.7 1.7 6.9 2.3 6.9 6.4 13.4 8.7 12.6 10.8 11.7 12.2 10.2 13.7 9 15.4 7.9 20.3 8.2 1.5.9 .4.7-2.4 1.5-18.2 5.8-13.4 5.4-12.3 6-11.1 6.8-9.2 6.9-8.1 7.4-7.2 8-10.4 13.8-2.5 2.6-2.7 1.8-3.6 1.6-4.4.9-18.9 1.2-2.3.8-.5 1.3 1 1.4 2.4 1.6 8.1 3.6 11.2 3.6 13 3 13.3 2.3 13.8 1.6 13.9.9 13.9.2 12.8-.5 12.5-1.2 11.8-1.8 11-2.4 10-3 8.7-3.5 7.3-3.9 5.8-4.3 2.9-3 2.1-3 1.4-3.1 .5-3.1-.3-3-1.1-3-2-2.8-2.7-2.7-7.5-4.8-10.3-3.8-12.2-2.5-13.6-1.2-12.1-.1-12.4.9-12.5 1.8-12.4 2.7-13.3 3.8-12.8 4.8-9.8 4.5-16.7 8.7-5.2 2.3-5.8 1.1-5.9-1-8.7-4.1-11.7-7.6-13.1-9.9-12.1-10.6-9.8-9.8-8.6-10.1-7.3-10.1-6.1-10.3-5.5-12.3-3.7-12.5-1.8-12.5-.1-12.5 1.8-12.4 3.6-12.2 5.4-12.1 7.1-11.6 9.4-11.8 11.2-11.2 12.8-10.4 14.1-9.4 16.2-8.7 16.6-7 16-4.7 6.2-.9 4 .1 1 .5 .1.8-2.1 2.6-29.1 19.7-9.6 7.9-8.6 8.5-7.7 8.9-6.9 9.6-6.2 10.3-5.4 10.8-5.1 12.7-3.8 12.7-2.4 12.5-.9 11.7 .5 10.7 2 10 3.4 9.4 4.8 8.8 6.7 8.7 8.5 8.2 10 7.6 11.6 7.1 13.3 6.4 14.4 5.5 15.5 4.7 16.1 3.7 17.1 2.8 17.4 1.6 17.2.4 16.3-.8 15.3-1.9 13.7-3.2 11.5-4.1 8.8-5 3.9-3.4 2.7-3.5 1.4-3.5 0-3.6-1.2-3.6-2.6-3.3-3.7-3.1-5-2.9-5.9-2.4-6.6-2-15.6-2.7-17.7-.8-19.1 1.1-16.4 2.4-16 3.6-15.7 4.9-14.6 5.9-11.7 5.8-10.6 6.4-11.6 8.7-15 13.7-3.1 1.8-3 .3-3.9-1.3-5-3-6.8-5.3-7.7-6.9-14.4-15-11.9-15.3-7.9-13-6-13.2-4-13.2-2.1-13.2-.1-13.3 1.9-13 3.8-12.9 5.8-12.7 8.1-12.9 10-12.2 11.9-11.5 13.6-10.6 15.8-10 17-8.5 17.2-6.4 7.2-1.8 4.4-.3 .7.3 0 .5-1.9 1.9-24.9 15.2-8.4 6-7.7 6.4-7.1 6.6-6.6 7.1-6.2 7.5-5.9 8.2-10.7 17.5-10 20.5-8.6 20.8-16 42.8-5.8 13.6-5.6 9.9-2.7 3.3-2.8 2.4-3 1.7-3.3 1-3.7.4-4.1-.3-9.9-2.6-11.3-5.2-12-7.3-11.4-8.9-10.3-10-9-10.8-5.3-7.6-4.5-7.9-3.7-8.1-3-8.2-2.1-8.3-1.3-8.5-.6-8.6 .3-8.5 1.1-8.4 2-8.6 2.7-8.6 3.5-8.4 4.4-8.3 5-8.1 5.8-8 6.7-8 7.3-7.7 8.1-7.6 8.7-7.2 9.5-7.1 20.7-13.1 23.1-11.9 24.9-10.4 26.5-8.6 27.2-6.5 26.7-4.4 20.2-1.8 18.9-.4 17.2 1 15.2 2.4 12.5 3.6 5.1 2.3 4.2 2.5 3.4 2.7 2.5 3 1.5 3.2 .6 3.4-.3 3.7-1.5 4-2.4 4.1-3.5 4.5-8 7.8-26.1 22.8-7.3 7.5-5.9 7.5-5 8-3.7 8.3-2.6 8.4-1.4 8.9-.1 10.2 1.4 10.5 2.9 10.5 4.5 10.5 5.8 10.4 7.3 10.4 25.9 29.8 2.7 5.4 .3 2.4-.4 2.3-1.8 3.6-3.5 3.8-29.6 23.8-8.7 8.3-7.3 8.5-6.2 8.9-5.1 9.4-7.9 19.8-.5 2.3 .2 1.7 1.7 2.2 3.4 2 5.3 1.9 6.8 1.7 16.2 2.2 17.4.4 15.6-1.4 13.6-2.9 5.7-2 4.7-2.3 3.7-2.4 2.5-2.6 1.3-2.9-.2-2.9-1.8-2.7-3.3-2.3-4.6-1.9-5.6-1.4-6.6-.8-7.2-.3-13.2.9-13.8 2.5-10.9 2.9-20.2 6.9-7.3 2-7.1.7-7.6-.3-13-2.4-17.5-4.8-19.1-6.4-17.4-6.9-18.9-9-17-9.9-15.2-11-13.3-11.9-11.2-12.8-8.9-13.3-6.6-13.9-2.4-7.1-1.8-7.1-1.2-7.3-.5-7.5 .1-7.5 .7-7.3 1.4-7.4 2.1-7.4 2.6-7.2 3.3-7.2 8.6-14.2 10.8-13.6 13.2-12.9 15.2-12.1 18.3-11.8 20.2-10.4 21.7-8.8 22.4-7 23-4.9 21.5-2.5 9.8-.2 8.8.5 7.3 1.2 5.8 1.8 4.3 2.6 2.1 3.2 0 3.7-2.3 4.4-7 7.1-23.1 18.3-11.4 10.5-5.4 5.9-4.7 6.1-4.1 6.3-3.4 6.4-4.6 12.4-2.3 12.8 .1 13.1 2.4 12.9 2.6 7.6 3.3 7.4 4.2 7.2 4.9 7 5.7 6.7 6.4 6.4 7.2 6 7.7 5.6 8.7 5.4 9.3 4.9 9.6 4.2 10.1 3.6 10.6 3 10.3 2.1 9.6 1 5.9-.3-2.7-.7-6.6.2-15.9 2.3-15.8 4.3-15.3 5.8-15.8 8.1-14 9.7-9.7 8.7-13.6 15.7-4.6 3.9-3.6 1.6-4.3.7-5.4-.2-6.9-1-11.9-2.7-13.9-4.1-13.6-4.7-13-5.3-11.8-5.6-11.2-6.1-10.4-6.6-9.8-7-8.9-7.5-8.1-7.8-7.3-8.3-6.3-8.4-5.4-8.7-4.4-9-3.4-9-2.4-9.2-1.2-7.4-.5-7.4 .1-7.4 .8-7.5 1.4-7.5 2.1-7.3 2.6-7.3 3.4-7.4 8.7-14.3 10.9-13.6 13.1-12.9 15.5-12.2 18.3-11.7 20.3-10.5 21.8-9 22.5-7.1 23.1-5.1 22.1-2.8 10.2-.4 9.1.3 8.1.9 6.7 1.6 6 2.7 2 1.7 1.4 1.8 .6 2 0 2.2-2.1 4.8-2.9 3.7-4.3 4.1-24.1 19.3-11.5 10.7-5.4 6.1-4.6 6.2-4 6.4-3.3 6.6-4 11.5-2 12 .1 12.3 2.1 12.1 2.4 7.3 3.1 7.2 3.8 7.1 4.7 6.9 5.3 6.5 5.9 6.3 6.7 6 7.2 5.5 8.1 5.4 8.5 4.8 9 4.4 9.4 3.8 9.9 3.3 9.8 2.5 9.6 1.7 7 .4-5.1.1-7.5.9-15.9 3.3-15.6 5.1-14.8 6.5-13.9 8-12.1 9.1-8.5 8.2-12 14.5-4 3.8-2.8 1.6-3.2 1-8.1.4-8.5-1.1-11.1-2.2-25.8-7.2-21.8-8.1-19.7-9.6-17.8-11-15.7-12.4-7-6.7-6.3-6.9-5.7-7.2-5-7.2-4.6-8.1-3.8-8.2-3-8.4-2.1-8.3-1.3-8.6-.5-8.5 .4-8.5 1.3-8.5 2.1-8.6 2.9-8.4 3.7-8.3 4.6-8.3 5.3-8 6.3-8.1 7-7.7 7.6-7.4 8.9-7.7 9.4-7.2 10.2-6.8 10.8-6.5 11.4-6 12.1-5.7 12.4-5.2 12.6-4.5 13.5-4.2 13.4-3.4 13.1-2.7 13.2-2 12.7-1.3 11.9-.4 10.7.4 9.4 1.2 9.1 2.4 3.4 1.7 2.8 1.9 1.8 2.1 1.1 2.3 .2 2.5-.6 2.6-2.9 4.9-5.3 5.7-25 20.2-10.4 9.5-8 9.1-6.3 9.3-3.3 6.2-2.7 6.4-2 6.6-1.3 6.6-.6 6.9 0 6.8 .7 6.9 1.3 6.9 2.1 6.8 2.7 6.8 3.4 6.5 3.9 6.4 4.6 6.2 5.2 6 12.1 11.3 13.9 9.8 15.7 8.5 15.8 6.4 20.4 6-18.4 4.3-14.3 4.5-14.5 6.1-13.3 7.3-10.3 6.9-9.1 7.7-8.5 8.8-11.9 15.2-3.1 2.8-3.4 1.7-5.7 1.2-8 0-33.9-3.9-11-.8-6.4.7-1.2.9 0 1.3 2.4 2.5 4.9 3 15.6 6.7 19.4 6 21.6 4.8 21.4 3.4 21.8 2 21.7.7 21.1-.8 19.9-2 18.8-3.3 16.8-4.5 14.6-5.7 11.9-6.5 4.8-3.6 4-3.7 3.2-3.9 2.3-3.9 1.4-4 .4-3.9-1.2-6.2-3.4-5.9-5.7-5.5-7.7-4.8-9.4-4.1-11.1-3.4-12.4-2.4-13.6-1.4-19.4-.4-19.9 1.4-20.2 3.3-19.3 4.9-16.9 5.9-15.8 7.1-14.1 8.1-17.3 12.2-4.6 1.8-2.1-.1-2-.9-5.1-4.2-7.9-9.4-8.9-12.4-8.5-13.7-6.7-13.4-5.1-13.1-3.4-13-1.9-13-.1-12.8 1.4-12.6 3.2-12.4 4.7-12.3 6.5-11.9 8-11.6 9.5-11 10.7-10.3 12.1-9.7 12.2-8.3 18.1-10.9-5.9 1.8-9.9 4.2-8.8 4.5-8.7 5.1-8.7 5.9-8.8 6.8-26.7 23.5-9.2 7.3-10 5.9-6.7 2.7-4.7 1.1-7.6.3-7.2-2-6.6-4-5.4-5.8-3.9-7.2-2.2-8.1-.5-8.8 1.3-9.2 2.4-7.7 3.5-7.9 4.7-7.7 5.7-7.5 6.8-7.4 7.8-7.1 8.6-6.7 9.6-6.4 10.4-6 11.1-5.4 11.5-4.7 11.8-4 11.8-3.2 11.5-2.2 10.8-1.3 9.8-.2 10.1 1.3 3.9 1.2 3.2 1.6 2.3 2 1.5 2.3 .7 2.6-.1 3-1.8 5.6-4 6.9-24.2 32.2-12.2 18.7-5.1 9.4-4.5 9.5-3.7 9.5-3.1 9.5-2.7 11-1.8 10.9-.7 10.6 .3 10.2 1.3 9.8 2.3 9.4 3.3 9 4.3 8.5 5.9 8.8 7 8.3 8.2 7.8 9.2 7.1 10.5 6.6 11.3 6 12.4 5.2 13 4.4 14.6 3.7 14.9 2.7 14.8 1.5 14.1.3 13.3-1.1 11-2.2 8.4-3.4 2.7-1.9 1.8-2.1 .7-2.1-.4-2.1-1.3-1.9-2.2-1.9-6.9-3.1-9.7-2.1-11.4-1-12.7.2-13.2 1.3-13.7 2.4-10.9 2.7-10.6 3.3-10.5 3.9-9.8 4.5-10.1 5.4-9.4 6-22.1 17.5-4.2 1.8-4.5 0-4-1-5.1-2-14.3-7.6-17.1-10.6-15.5-11.2-12.1-10.1-10.7-10.3-9.1-10.6-7.7-10.9-7.7-14.1-5.2-14.3-1.7-7.3-1-7.3-.5-7.3 .2-7.2 .8-7.2 1.4-7.3 2-7.2 2.6-7.1 7.1-14 9.4-13.5 12.4-13.4 14.6-12.6 16.8-11.4 18.4-10 20.4-8.6 20.4-6.2 9.9-2.2 9.1-1.3 8.1-.4 6.6.4 4.6 1.2 2.6 2 .5 2.8-1.6 3.4-6.6 6.8-26.6 22.4-13.5 14-7.1 9-6.2 9.5-5.2 9.8-4.3 10.1-3.1 9.8-2.1 9.7-1.2 9.8-.2 9.5 .8 9.3 1.8 8.9 2.8 8.6 3.7 8.3 5.5 9.1 6.7 8.5 7.9 7.9 9.1 7.4 10.3 6.9 11.3 6.1 12.4 5.5 13 4.6 14.6 4 15.1 2.9 15 1.8 14.5.5 13.6-.8 11.8-2.1 9.2-3.1 3.3-2 2.2-2.1 1.3-2.1 .2-2.1-.9-2.2-1.8-1.9-6.4-3.5-9.7-2.5-11.3-1.2-13-.1-13.7 1.2-14.2 2.3-11.1 2.7-11.1 3.3-10.7 3.9-10.2 4.6-10.5 5.5-9.6 6.1-22.5 17.9-4.2 1.7-4.5 0-4.2-1.1-5.3-2.2-15-8.2-17.1-11-15.4-11.5-12.1-10.5-10.5-10.7-9-11-7.4-11.2-6.9-13.9-4.5-14.1-2.2-14.3 .2-14.3 2.5-14.2 5-14.1 7.2-13.6 9.6-13.1 12.3-13.2 14.7-12.3 16.4-11.1 18.3-9.8 20-8.3 19.9-6 9.7-2.1 8.8-1.2 7.8-.4 6.3.4 4.3 1.3 2.4 2 .3 2.6-1.6 3.3-6.5 6.7-26.5 22.2-13.7 14.1-7.1 9.2-6.2 9.4-5.3 9.9-4.3 10.1-3.3 9.9-2.2 9.9-1.2 9.9-.2 9.7 .8 9.4 1.8 9 2.8 8.8 3.8 8.4 5.6 9 6.8 8.5 8.1 8 9.3 7.5 10.5 6.8 11.4 6.1 12.6 5.4 13.3 4.6 14.8 3.9 15.2 2.9 15.3 1.6 14.6.4 13.8-.9 11.8-2.2 9.1-3.3 3.3-2 2.3-2.1 1.3-2.2 .2-2.2-.8-2.2-1.9-2.1-2.8-1.9-3.6-1.7-9.7-2.6-11.4-1.3-13.2-.1-13.7 1.1-14.4 2.3-11.5 2.6-11.3 3.4-10.8 3.9-10.4 4.6-10.5 5.6-9.7 6.1-22.6 17.9-4.2 1.7-4.4 0-4-1.1-5.1-2.1-14.5-8-16.8-11-15.3-11.4-11.9-10.5-10.3-10.6-8.8-10.8-7.4-11.1-6.9-13.8-4.7-14.2-2.2-14.2 .1-14.3 2.4-14.1 4.9-14 7.1-13.7 9.3-13 12.3-13.3 14.4-12.2 16.4-11.2 17.9-9.7 19.7-8.4 19.8-6.1 9.7-2.1 8.8-1.2 7.7-.5 6.2.5 4.1 1.1 2.3 1.9 .4 2.6-1.6 3.2-6.5 6.6-26.5 22.2-7.3 7.1-6.6 7.2-7.2 9.2-6.3 9.5-5.4 10-4.4 10.2-3.3 10.2-2.2 10.1-1.3 10.1-.2 9.8 .8 9.4 1.9 9.2 2.9 8.8 3.9 8.4 5.6 9 7 8.6 8.2 8 9.5 7.4 10.7 6.8 11.8 6.1 12.8 5.4 13.6 4.5 15.2 3.9 15.5 2.7 15.3 1.5 14.8.2 13.8-1.1 12-2.3 9.1-3.5 3.3-2 2.3-2.2 1.2-2.3 .2-2.3-.8-2.2-1.8-2.1-2.8-2-3.6-1.7-9.6-2.8-11.7-1.5-13.1-.2-14 1-14.6 2.2-11.8 2.7-11.5 3.3-11.2 4.1-10.6 4.6-10.7 5.6-9.8 6.1-7.5 5.6-15.2 12.4-4.1 1.7-4.3 0-3.9-1.1-4.9-2.1-13.7-7.7-16.5-10.9-15-11.4-11.6-10.2-10.2-10.5-8.7-10.7-7.3-10.9-7-13.8-4.7-14.1-2.4-14.2 0-14.2 2.3-14.1 4.6-13.9 6.9-13.5 9.2-13.2 11.9-13.1 14.2-12.3 16.1-11.2 17.8-9.8 19.5-8.5 19.7-6.2 9.5-2.1 8.8-1.4 7.6-.5 6.2.4 4 1.1 2.2 1.8 .3 2.5-1.6 3.1-6.3 6.5-26.6 22.1-7.5 7.2-6.7 7.3-7.3 9.3-6.4 9.8-5.5 10.1-4.5 10.4-3.3 10.3-2.3 10.3-1.3 10.2-.2 10 .8 9.7 1.9 9.2 3 8.9 4 8.4 5.7 9.1 7.2 8.6 8.4 8 9.8 7.4 11 6.8 12.1 6.1 13.1 5.3 13.9 4.4 15.5 3.8 15.8 2.5 15.6 1.3 14.9.1 13.9-1.2 12-2.6 9.2-3.6 3.3-2.1 2.4-2.3 1.3-2.3 .2-2.4-.7-2.3-1.8-2.2-2.8-2.1-3.6-1.9-9.7-2.9-11.6-1.6-13.4-.4-14.4.9-14.7 2.1-12.1 2.6-12 3.4-11.5 4.1-10.8 4.7-10.9 5.6-10 6.3-7.6 5.5-15.3 12.4-4 1.7-4.1 0-3.7-1-4.6-2-13-7.3-16-10.8-14.6-11.4-11.4-10.1-9.9-10.3-8.6-10.5-7.2-10.8-7-13.6-4.8-14.1-2.6-14-.2-14.2 2.2-14.2 4.4-13.9 6.7-13.5 8.9-13 11.7-13.2 13.9-12.3 15.8-11.2 17.4-9.8 19.3-8.6 19.5-6.3 9.5-2.2 8.7-1.5 7.6-.5 6 .3 3.8 1.1 2 1.7 .3 2.4-1.6 2.9-6.2 6.3-26.6 22-7.7 7.4-6.8 7.4-7.5 9.5-6.5 9.9-5.6 10.3-4.6 10.7-3.5 10.7-2.5 10.6-1.3 10.4-.2 10.2 .8 9.8 2 9.4 3.1 9 4.1 8.5 6 9.1 7.4 8.6 8.7 8 10.1 7.4 11.5 6.8 12.5 6 13.5 5.2 14.3 4.4 15.9 3.5 16 2.4 16 1.1 15.2-.2 14.2-1.5 12-2.8 9.2-3.8 3.3-2.2 2.3-2.4 1.3-2.5 .3-2.5-.8-2.4-1.7-2.3-2.8-2.2-3.7-2-9.6-3.1-11.9-1.8-13.5-.6-14.5.7-15.2 2-12.4 2.6-12.4 3.4-11.9 4.1-11.2 4.8-11.1 5.7-10.3 6.3-7.9 5.8-15.4 12.4-3.8 1.6-4 0-7.8-2.8-11.9-7-15.3-10.6-14.2-11.2-11-10-9.7-10.1-8.3-10.2-7.1-10.4-7.1-13.7-5-14-2.7-14-.4-14 1.9-14 4.2-13.9 6.4-13.5 8.6-13 11.4-13.3 13.5-12.2 15.5-11.3 17-9.9 19.1-8.8 19.2-6.4 9.3-2.3 8.7-1.5 7.4-.6 5.9.2 3.5 1 1.9 1.6 .2 2.2-1.5 2.8-6.1 6.1-26.7 21.9-7.9 7.5-7.1 7.7-7.6 9.7-6.7 10.1-5.8 10.7-4.8 11-3.7 11-2.6 11-1.4 10.8-.3 10.5 .9 9.9 2 9.6 3.2 9 4.3 8.6 6.2 9.2 7.8 8.6 9.1 8.1 10.6 7.4 11.9 6.7 13.1 6 14.1 5.1 15 4.2 16.4 3.3 16.5 2.1 16.3.8 15.5-.5 14.3-1.8 12.2-3.1 9.2-4.1 3.4-2.4 2.4-2.5 1.4-2.6 .2-2.6-.7-2.6-1.7-2.4-2.8-2.4-3.6-2.1-9.7-3.4-12-2.2-13.8-.8-15 .5-15.6 1.9-13 2.5-12.9 3.4-12.4 4.2-11.9 4.9-11.4 5.8-10.6 6.4-8.2 5.9-15.4 12.4-3.7 1.6-3.8.1-7-2.6-10.7-6.4-14.3-10.3-13.6-11.1-10.5-9.7-9.3-9.8-8.1-10-6.9-10-7.2-13.6-5.2-13.9-2.9-13.9-.6-14 1.5-13.8 3.8-13.9 6.1-13.4 8.1-13.1 11-13.2 13-12.3 15-11.3 16.5-10 18.6-8.9 18.9-6.8 9.3-2.4 8.5-1.6 7.4-.7 5.7.2 3.2.8 1.6 1.5 .2 2-1.4 2.5-5.9 5.8-27.1 21.9-8.2 7.8-7.5 8.2-8 10.1-7 10.6-6.1 11.2-5 11.6-4 11.7-2.7 11.7-1.5 11.4-.3 11 1 10.3 2.2 9.7 3.4 9.2 4.7 8.7 7.1 9.5 8.8 8.9 10.5 8.2 12 7.5 13.6 6.7 15 5.8 16.1 4.8 16.6 3.6 18.4 2.6 18.2 1.2 17.5-.4 16-1.9 14-3.3 5.8-2.2 5-2.4 4.1-2.7 2.9-2.9 1.7-2.9 .6-3.1-.4-2.5-1.3-2.5-2.2-2.4-3.1-2.3-8.1-3.8-10.9-2.8-12.4-1.7-14-.4-14.7.8-15.2 2-13.1 2.6-12.9 3.5-12.4 4.3-11.9 5-11.2 5.7-10.5 6.4-8.1 5.8-15 12-3.3 1.5-3.3.2-5.6-1.8-8.1-4.9-11.7-8.6-12.3-10.2-9.9-9.1-8.9-9.2-7.8-9.2-6.8-9.2-8-13.4-6-13.7-3.8-13.7-1.7-13.7 .4-13.8 2.6-13.5 4.7-13.4 6.8-13 9.3-13.2 11.2-12.3 13.3-11.6 14.9-10.4 16.9-9.6 17.6-7.8 17.6-5.6 8-1.8 7.1-1 5.8 0 3.6 1 .9.9 .3 1.1-1.4 2.9-5.8 5.5-24.4 19.1-13 12.1-7.2 7.9-6.5 8.1-6.1 8.6-5.5 9.1-7.9 15.7-6.1 16.5-4.2 16.3-2 15.5 .3 13.9 .9 6.6 1.5 6.2 2.1 6 2.7 5.7 3.2 5.5 3.8 5.3 9.5 10.2 12 9.4 14.3 8.5 16.3 7.4" stroke="#1f77b4" stroke-width="3.30" fill="none" stroke-linejoin="round" stroke-linecap="butt"/>
<text x="837.8" y="1787.5" font-size="25.2" text-anchor="middle" textLength="49.8" lengthAdjust="spacingAndGlyphs" font-family='"Liberation Sans",sans-serif' fill="#000">−15</text>
<text x="886.4" y="1803.0" font-size="25.2" text-anchor="middle" textLength="49.8" lengthAdjust="spacingAndGlyphs" font-family='"Liberation Sans",sans-serif' fill="#000">−10</text>
<text x="935.7" y="1818.6" font-size="25.2" text-anchor="middle" textLength="34.8" lengthAdjust="spacingAndGlyphs" font-family='"Liberation Sans",sans-serif' fill="#000">−5</text>
<text x="985.6" y="1834.4" font-size="25.2" text-anchor="middle" textLength="15.0" lengthAdjust="spacingAndGlyphs" font-family='"Liberation Sans",sans-serif' fill="#000">0</text>
<text x="1036.1" y="1850.5" font-size="25.2" text-anchor="middle" textLength="15.0" lengthAdjust="spacingAndGlyphs" font-family='"Liberation Sans",sans-serif' fill="#000">5</text>
<text x="1087.4" y="1866.7" font-size="25.2" text-anchor="middle" textLength="30.0" lengthAdjust="spacingAndGlyphs" font-family='"Liberation Sans",sans-serif' fill="#000">10</text>
<text x="1139.3" y="1883.2" font-size="25.2" text-anchor="middle" textLength="30.0" lengthAdjust="spacingAndGlyphs" font-family='"Liberation Sans",sans-serif' fill="#000">15</text>
<text x="1222.2" y="1893.8" font-size="25.2" text-anchor="middle" textLength="15.0" lengthAdjust="spacingAndGlyphs" font-family='"Liberation Sans",sans-serif' fill="#000">0</text>
<text x="1252.1" y="1863.6" font-size="25.2" text-anchor="middle" textLength="15.0" lengthAdjust="spacingAndGlyphs" font-family='"Liberation Sans",sans-serif' fill="#000">5</text>
<text x="1281.2" y="1834.2" font-size="25.2" text-anchor="middle" textLength="30.0" lengthAdjust="spacingAndGlyphs" font-family='"Liberation Sans",sans-serif' fill="#000">10</text>
<text x="1309.7" y="1805.5" font-size="25.2" text-anchor="middle" textLength="30.0" lengthAdjust="spacingAndGlyphs" font-family='"Liberation Sans",sans-serif' fill="#000">15</text>
<text x="1337.5" y="1777.4" font-size="25.2" text-anchor="middle" textLength="30.0" lengthAdjust="spacingAndGlyphs" font-family='"Liberation Sans",sans-serif' fill="#000">20</text>
<text x="1364.7" y="1749.9" font-size="25.2" text-anchor="middle" textLength="30.0" lengthAdjust="spacingAndGlyphs" font-family='"Liberation Sans",sans-serif' fill="#000">25</text>
<text x="1391.3" y="1723.1" font-size="25.2" text-anchor="middle" textLength="30.0" lengthAdjust="spacingAndGlyphs" font-family='"Liberation Sans",sans-serif' fill="#000">30</text>
<text x="1417.3" y="1696.8" font-size="25.2" text-anchor="middle" textLength="30.0" lengthAdjust="spacingAndGlyphs" font-family='"Liberation Sans",sans-serif' fill="#000">35</text>
<text x="1437.6" y="1661.2" font-size="25.2" text-anchor="middle" textLength="34.8" lengthAdjust="spacingAndGlyphs" font-family='"Liberation Sans",sans-serif' fill="#000">−3</text>
<text x="1439.9" y="1617.5" font-size="25.2" text-anchor="middle" textLength="34.8" lengthAdjust="spacingAndGlyphs" font-family='"Liberation Sans",sans-serif' fill="#000">−2</text>
<text x="1442.2" y="1573.3" font-size="25.2" text-anchor="middle" textLength="34.8" lengthAdjust="spacingAndGlyphs" font-family='"Liberation Sans",sans-serif' fill="#000">−1</text>
<text x="1444.5" y="1528.4" font-size="25.2" text-anchor="middle" textLength="15.0" lengthAdjust="spacingAndGlyphs" font-family='"Liberation Sans",sans-serif' fill="#000">0</text>
<text x="1446.8" y="1482.9" font-size="25.2" text-anchor="middle" textLength="15.0" lengthAdjust="spacingAndGlyphs" font-family='"Liberation Sans",sans-serif' fill="#000">1</text>
<text x="1449.2" y="1436.9" font-size="25.2" text-anchor="middle" textLength="15.0" lengthAdjust="spacingAndGlyphs" font-family='"Liberation Sans",sans-serif' fill="#000">2</text>
<text x="1451.6" y="1390.1" font-size="25.2" text-anchor="middle" textLength="15.0" lengthAdjust="spacingAndGlyphs" font-family='"Liberation Sans",sans-serif' fill="#000">3</text>
<text x="980.3" y="1852.4" font-size="30.2" text-anchor="middle" font-family='"Liberation Sans",sans-serif' font-weight="bold" fill="#000">y</text>
<text x="1350.2" y="1797.8" font-size="30.2" text-anchor="middle" font-family='"Liberation Sans",sans-serif' font-weight="bold" fill="#000">z</text>
<text x="1476.7" y="1515.8" font-size="30.2" text-anchor="middle" font-family='"Liberation Sans",sans-serif' font-weight="bold" fill="#000">w</text>
</svg></body></html>
